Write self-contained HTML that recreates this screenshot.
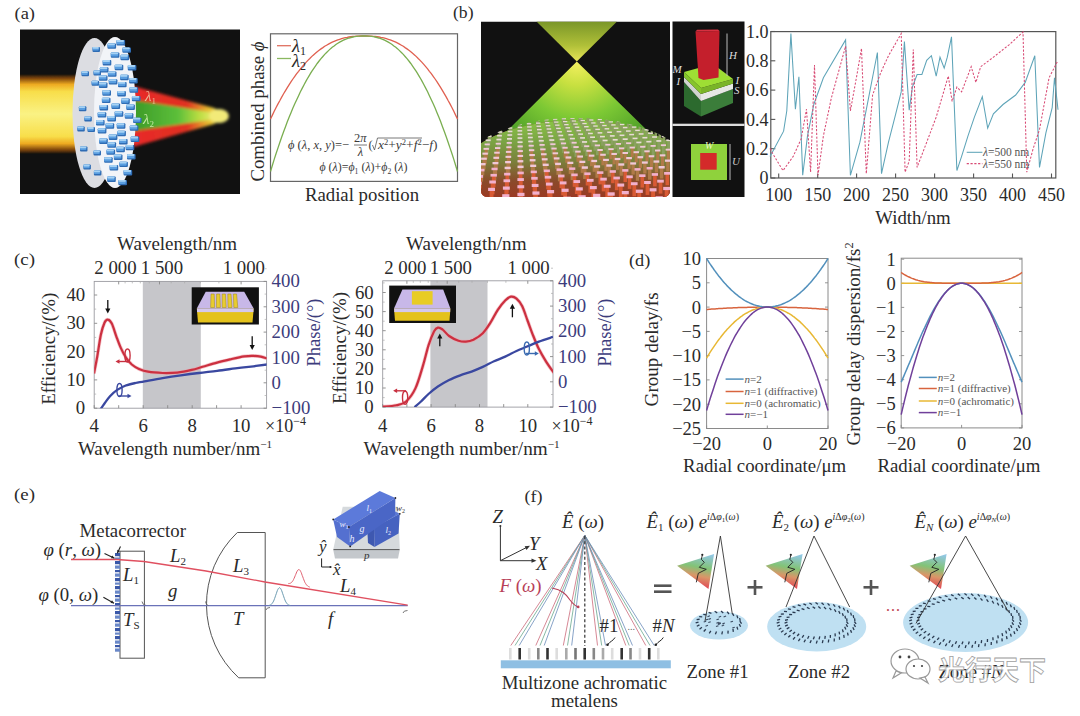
<!DOCTYPE html>
<html><head><meta charset="utf-8"><title>Figure</title>
<style>
html,body{margin:0;padding:0;background:#fff;}
svg{display:block;}
text{font-family:'Liberation Serif','Noto Serif CJK SC',serif;}
</style></head><body>
<svg width="1080" height="716" viewBox="0 0 1080 716">
<rect width="1080" height="716" fill="#fff"/>
<text x="14.5" y="18.6" text-anchor="start" style="font-size:17px;fill:#2a2a2a" textLength="20.5" lengthAdjust="spacingAndGlyphs">(a)</text>
<defs>
<linearGradient id="beamG" x1="0" y1="0" x2="0" y2="1">
<stop offset="0" stop-color="#111"/><stop offset="0.05" stop-color="#7a4208"/><stop offset="0.13" stop-color="#eeaa22"/>
<stop offset="0.22" stop-color="#f8de4a"/><stop offset="0.5" stop-color="#faf284"/><stop offset="0.78" stop-color="#f8de4a"/>
<stop offset="0.87" stop-color="#eeaa22"/><stop offset="0.95" stop-color="#7a4208"/><stop offset="1" stop-color="#111"/></linearGradient>
<linearGradient id="redG" x1="0" y1="0" x2="1" y2="0">
<stop offset="0" stop-color="#e82a2a"/><stop offset="0.6" stop-color="#e03020"/><stop offset="0.85" stop-color="#e8c030"/><stop offset="1" stop-color="#f0e060"/></linearGradient>
<linearGradient id="grnG" x1="0" y1="0" x2="1" y2="0">
<stop offset="0" stop-color="#3c9a28"/><stop offset="0.55" stop-color="#5cbf3a"/><stop offset="0.8" stop-color="#b8dc40"/><stop offset="1" stop-color="#f0ec70"/></linearGradient>
<filter id="blur1" x="-20%" y="-20%" width="140%" height="140%"><feGaussianBlur stdDeviation="1.6"/></filter>
<filter id="blur05" x="-20%" y="-20%" width="140%" height="140%"><feGaussianBlur stdDeviation="0.6"/></filter>
<linearGradient id="blk" x1="0" y1="0" x2="0" y2="1"><stop offset="0" stop-color="#9ad0f6"/><stop offset="1" stop-color="#4a92d8"/></linearGradient>
</defs>
<rect x="20" y="29.5" width="220" height="164.5" fill="#111"/>
<rect x="20" y="74" width="78" height="80" fill="url(#beamG)" filter="url(#blur05)"/>
<g filter="url(#blur1)">
<path d="M133,86 L214,108 Q231,116 214,124 L133,147 Z" fill="url(#redG)"/>
<path d="M133,100 L210,112 Q220,116 210,120 L133,131 Z" fill="url(#grnG)"/>
<ellipse cx="219" cy="116" rx="10" ry="7" fill="#f2ea78"/>
</g>
<ellipse cx="94.5" cy="113" rx="22" ry="75" fill="#dcdde2"/>
<ellipse cx="115" cy="112.5" rx="21" ry="75.5" fill="#f2f4f8"/>
<rect x="87.5" y="127.1" width="7.5" height="5" rx="1" fill="#2f6cb4"/>
<rect x="87.5" y="127.1" width="6.3" height="3.7" rx="1" fill="#5a9ee0"/>
<rect x="87.5" y="127.1" width="6.3" height="1.8" rx="0.8" fill="#a6d2f4"/>
<rect x="93.5" y="150.4" width="7.5" height="5" rx="1" fill="#2f6cb4"/>
<rect x="93.5" y="150.4" width="6.3" height="3.7" rx="1" fill="#5a9ee0"/>
<rect x="93.5" y="150.4" width="6.3" height="1.8" rx="0.8" fill="#a6d2f4"/>
<rect x="92.5" y="46.9" width="7.5" height="5" rx="1" fill="#2f6cb4"/>
<rect x="92.5" y="46.9" width="6.3" height="3.7" rx="1" fill="#5a9ee0"/>
<rect x="92.5" y="46.9" width="6.3" height="1.8" rx="0.8" fill="#a6d2f4"/>
<rect x="93.9" y="170.4" width="7.5" height="5" rx="1" fill="#2f6cb4"/>
<rect x="93.9" y="170.4" width="6.3" height="3.7" rx="1" fill="#5a9ee0"/>
<rect x="93.9" y="170.4" width="6.3" height="1.8" rx="0.8" fill="#a6d2f4"/>
<rect x="83.4" y="164.6" width="7.5" height="5" rx="1" fill="#2f6cb4"/>
<rect x="83.4" y="164.6" width="6.3" height="3.7" rx="1" fill="#5a9ee0"/>
<rect x="83.4" y="164.6" width="6.3" height="1.8" rx="0.8" fill="#a6d2f4"/>
<rect x="78.9" y="106.3" width="7.5" height="5" rx="1" fill="#2f6cb4"/>
<rect x="78.9" y="106.3" width="6.3" height="3.7" rx="1" fill="#5a9ee0"/>
<rect x="78.9" y="106.3" width="6.3" height="1.8" rx="0.8" fill="#a6d2f4"/>
<rect x="84.3" y="116.4" width="7.5" height="5" rx="1" fill="#2f6cb4"/>
<rect x="84.3" y="116.4" width="6.3" height="3.7" rx="1" fill="#5a9ee0"/>
<rect x="84.3" y="116.4" width="6.3" height="1.8" rx="0.8" fill="#a6d2f4"/>
<rect x="91.6" y="80.7" width="7.5" height="5" rx="1" fill="#2f6cb4"/>
<rect x="91.6" y="80.7" width="6.3" height="3.7" rx="1" fill="#5a9ee0"/>
<rect x="91.6" y="80.7" width="6.3" height="1.8" rx="0.8" fill="#a6d2f4"/>
<rect x="80" y="146.4" width="7.5" height="5" rx="1" fill="#2f6cb4"/>
<rect x="80" y="146.4" width="6.3" height="3.7" rx="1" fill="#5a9ee0"/>
<rect x="80" y="146.4" width="6.3" height="1.8" rx="0.8" fill="#a6d2f4"/>
<rect x="77.3" y="126.4" width="7.5" height="5" rx="1" fill="#2f6cb4"/>
<rect x="77.3" y="126.4" width="6.3" height="3.7" rx="1" fill="#5a9ee0"/>
<rect x="77.3" y="126.4" width="6.3" height="1.8" rx="0.8" fill="#a6d2f4"/>
<rect x="81.5" y="71.3" width="7.5" height="5" rx="1" fill="#2f6cb4"/>
<rect x="81.5" y="71.3" width="6.3" height="3.7" rx="1" fill="#5a9ee0"/>
<rect x="81.5" y="71.3" width="6.3" height="1.8" rx="0.8" fill="#a6d2f4"/>
<rect x="93.5" y="70.6" width="7.5" height="5" rx="1" fill="#2f6cb4"/>
<rect x="93.5" y="70.6" width="6.3" height="3.7" rx="1" fill="#5a9ee0"/>
<rect x="93.5" y="70.6" width="6.3" height="1.8" rx="0.8" fill="#a6d2f4"/>
<rect x="116.5" y="40.1" width="8.6" height="5.4" rx="1" fill="#2f6cb4"/>
<rect x="116.5" y="40.1" width="7.4" height="4.1" rx="1" fill="#5a9ee0"/>
<rect x="116.5" y="40.1" width="7.4" height="1.9" rx="0.8" fill="#a6d2f4"/>
<rect x="107.5" y="43.4" width="8.6" height="5.4" rx="1" fill="#2f6cb4"/>
<rect x="107.5" y="43.4" width="7.4" height="4.1" rx="1" fill="#5a9ee0"/>
<rect x="107.5" y="43.4" width="7.4" height="1.9" rx="0.8" fill="#a6d2f4"/>
<rect x="122.4" y="47.4" width="8.6" height="5.4" rx="1" fill="#2f6cb4"/>
<rect x="122.4" y="47.4" width="7.4" height="4.1" rx="1" fill="#5a9ee0"/>
<rect x="122.4" y="47.4" width="7.4" height="1.9" rx="0.8" fill="#a6d2f4"/>
<rect x="110.8" y="52.4" width="8.6" height="5.4" rx="1" fill="#2f6cb4"/>
<rect x="110.8" y="52.4" width="7.4" height="4.1" rx="1" fill="#5a9ee0"/>
<rect x="110.8" y="52.4" width="7.4" height="1.9" rx="0.8" fill="#a6d2f4"/>
<rect x="120.5" y="54.8" width="8.6" height="5.4" rx="1" fill="#2f6cb4"/>
<rect x="120.5" y="54.8" width="7.4" height="4.1" rx="1" fill="#5a9ee0"/>
<rect x="120.5" y="54.8" width="7.4" height="1.9" rx="0.8" fill="#a6d2f4"/>
<rect x="102.7" y="60" width="8.6" height="5.4" rx="1" fill="#2f6cb4"/>
<rect x="102.7" y="60" width="7.4" height="4.1" rx="1" fill="#5a9ee0"/>
<rect x="102.7" y="60" width="7.4" height="1.9" rx="0.8" fill="#a6d2f4"/>
<rect x="114.7" y="64.8" width="8.6" height="5.4" rx="1" fill="#2f6cb4"/>
<rect x="114.7" y="64.8" width="7.4" height="4.1" rx="1" fill="#5a9ee0"/>
<rect x="114.7" y="64.8" width="7.4" height="1.9" rx="0.8" fill="#a6d2f4"/>
<rect x="127.8" y="65" width="8.6" height="5.4" rx="1" fill="#2f6cb4"/>
<rect x="127.8" y="65" width="7.4" height="4.1" rx="1" fill="#5a9ee0"/>
<rect x="127.8" y="65" width="7.4" height="1.9" rx="0.8" fill="#a6d2f4"/>
<rect x="99.9" y="67.2" width="8.6" height="5.4" rx="1" fill="#2f6cb4"/>
<rect x="99.9" y="67.2" width="7.4" height="4.1" rx="1" fill="#5a9ee0"/>
<rect x="99.9" y="67.2" width="7.4" height="1.9" rx="0.8" fill="#a6d2f4"/>
<rect x="107.9" y="71.4" width="8.6" height="5.4" rx="1" fill="#2f6cb4"/>
<rect x="107.9" y="71.4" width="7.4" height="4.1" rx="1" fill="#5a9ee0"/>
<rect x="107.9" y="71.4" width="7.4" height="1.9" rx="0.8" fill="#a6d2f4"/>
<rect x="120.1" y="74.8" width="8.6" height="5.4" rx="1" fill="#2f6cb4"/>
<rect x="120.1" y="74.8" width="7.4" height="4.1" rx="1" fill="#5a9ee0"/>
<rect x="120.1" y="74.8" width="7.4" height="1.9" rx="0.8" fill="#a6d2f4"/>
<rect x="98.9" y="75.4" width="8.6" height="5.4" rx="1" fill="#2f6cb4"/>
<rect x="98.9" y="75.4" width="7.4" height="4.1" rx="1" fill="#5a9ee0"/>
<rect x="98.9" y="75.4" width="7.4" height="1.9" rx="0.8" fill="#a6d2f4"/>
<rect x="129.1" y="78" width="8.6" height="5.4" rx="1" fill="#2f6cb4"/>
<rect x="129.1" y="78" width="7.4" height="4.1" rx="1" fill="#5a9ee0"/>
<rect x="129.1" y="78" width="7.4" height="1.9" rx="0.8" fill="#a6d2f4"/>
<rect x="108.8" y="79.2" width="8.6" height="5.4" rx="1" fill="#2f6cb4"/>
<rect x="108.8" y="79.2" width="7.4" height="4.1" rx="1" fill="#5a9ee0"/>
<rect x="108.8" y="79.2" width="7.4" height="1.9" rx="0.8" fill="#a6d2f4"/>
<rect x="118" y="81.9" width="8.6" height="5.4" rx="1" fill="#2f6cb4"/>
<rect x="118" y="81.9" width="7.4" height="4.1" rx="1" fill="#5a9ee0"/>
<rect x="118" y="81.9" width="7.4" height="1.9" rx="0.8" fill="#a6d2f4"/>
<rect x="98.9" y="82.5" width="8.6" height="5.4" rx="1" fill="#2f6cb4"/>
<rect x="98.9" y="82.5" width="7.4" height="4.1" rx="1" fill="#5a9ee0"/>
<rect x="98.9" y="82.5" width="7.4" height="1.9" rx="0.8" fill="#a6d2f4"/>
<rect x="129.5" y="87.3" width="8.6" height="5.4" rx="1" fill="#2f6cb4"/>
<rect x="129.5" y="87.3" width="7.4" height="4.1" rx="1" fill="#5a9ee0"/>
<rect x="129.5" y="87.3" width="7.4" height="1.9" rx="0.8" fill="#a6d2f4"/>
<rect x="102.4" y="90.3" width="8.6" height="5.4" rx="1" fill="#2f6cb4"/>
<rect x="102.4" y="90.3" width="7.4" height="4.1" rx="1" fill="#5a9ee0"/>
<rect x="102.4" y="90.3" width="7.4" height="1.9" rx="0.8" fill="#a6d2f4"/>
<rect x="117.3" y="91" width="8.6" height="5.4" rx="1" fill="#2f6cb4"/>
<rect x="117.3" y="91" width="7.4" height="4.1" rx="1" fill="#5a9ee0"/>
<rect x="117.3" y="91" width="7.4" height="1.9" rx="0.8" fill="#a6d2f4"/>
<rect x="131.9" y="95.9" width="8.6" height="5.4" rx="1" fill="#2f6cb4"/>
<rect x="131.9" y="95.9" width="7.4" height="4.1" rx="1" fill="#5a9ee0"/>
<rect x="131.9" y="95.9" width="7.4" height="1.9" rx="0.8" fill="#a6d2f4"/>
<rect x="101.9" y="97.7" width="8.6" height="5.4" rx="1" fill="#2f6cb4"/>
<rect x="101.9" y="97.7" width="7.4" height="4.1" rx="1" fill="#5a9ee0"/>
<rect x="101.9" y="97.7" width="7.4" height="1.9" rx="0.8" fill="#a6d2f4"/>
<rect x="121.2" y="98.6" width="8.6" height="5.4" rx="1" fill="#2f6cb4"/>
<rect x="121.2" y="98.6" width="7.4" height="4.1" rx="1" fill="#5a9ee0"/>
<rect x="121.2" y="98.6" width="7.4" height="1.9" rx="0.8" fill="#a6d2f4"/>
<rect x="111.5" y="103.6" width="8.6" height="5.4" rx="1" fill="#2f6cb4"/>
<rect x="111.5" y="103.6" width="7.4" height="4.1" rx="1" fill="#5a9ee0"/>
<rect x="111.5" y="103.6" width="7.4" height="1.9" rx="0.8" fill="#a6d2f4"/>
<rect x="126.3" y="104.6" width="8.6" height="5.4" rx="1" fill="#2f6cb4"/>
<rect x="126.3" y="104.6" width="7.4" height="4.1" rx="1" fill="#5a9ee0"/>
<rect x="126.3" y="104.6" width="7.4" height="1.9" rx="0.8" fill="#a6d2f4"/>
<rect x="99.5" y="105" width="8.6" height="5.4" rx="1" fill="#2f6cb4"/>
<rect x="99.5" y="105" width="7.4" height="4.1" rx="1" fill="#5a9ee0"/>
<rect x="99.5" y="105" width="7.4" height="1.9" rx="0.8" fill="#a6d2f4"/>
<rect x="114.7" y="111.3" width="8.6" height="5.4" rx="1" fill="#2f6cb4"/>
<rect x="114.7" y="111.3" width="7.4" height="4.1" rx="1" fill="#5a9ee0"/>
<rect x="114.7" y="111.3" width="7.4" height="1.9" rx="0.8" fill="#a6d2f4"/>
<rect x="97.7" y="112.2" width="8.6" height="5.4" rx="1" fill="#2f6cb4"/>
<rect x="97.7" y="112.2" width="7.4" height="4.1" rx="1" fill="#5a9ee0"/>
<rect x="97.7" y="112.2" width="7.4" height="1.9" rx="0.8" fill="#a6d2f4"/>
<rect x="124.8" y="113.3" width="8.6" height="5.4" rx="1" fill="#2f6cb4"/>
<rect x="124.8" y="113.3" width="7.4" height="4.1" rx="1" fill="#5a9ee0"/>
<rect x="124.8" y="113.3" width="7.4" height="1.9" rx="0.8" fill="#a6d2f4"/>
<rect x="107.4" y="116.1" width="8.6" height="5.4" rx="1" fill="#2f6cb4"/>
<rect x="107.4" y="116.1" width="7.4" height="4.1" rx="1" fill="#5a9ee0"/>
<rect x="107.4" y="116.1" width="7.4" height="1.9" rx="0.8" fill="#a6d2f4"/>
<rect x="133" y="117.7" width="8.6" height="5.4" rx="1" fill="#2f6cb4"/>
<rect x="133" y="117.7" width="7.4" height="4.1" rx="1" fill="#5a9ee0"/>
<rect x="133" y="117.7" width="7.4" height="1.9" rx="0.8" fill="#a6d2f4"/>
<rect x="96" y="120.1" width="8.6" height="5.4" rx="1" fill="#2f6cb4"/>
<rect x="96" y="120.1" width="7.4" height="4.1" rx="1" fill="#5a9ee0"/>
<rect x="96" y="120.1" width="7.4" height="1.9" rx="0.8" fill="#a6d2f4"/>
<rect x="105.6" y="123.3" width="8.6" height="5.4" rx="1" fill="#2f6cb4"/>
<rect x="105.6" y="123.3" width="7.4" height="4.1" rx="1" fill="#5a9ee0"/>
<rect x="105.6" y="123.3" width="7.4" height="1.9" rx="0.8" fill="#a6d2f4"/>
<rect x="116.8" y="123.3" width="8.6" height="5.4" rx="1" fill="#2f6cb4"/>
<rect x="116.8" y="123.3" width="7.4" height="4.1" rx="1" fill="#5a9ee0"/>
<rect x="116.8" y="123.3" width="7.4" height="1.9" rx="0.8" fill="#a6d2f4"/>
<rect x="129.8" y="125.4" width="8.6" height="5.4" rx="1" fill="#2f6cb4"/>
<rect x="129.8" y="125.4" width="7.4" height="4.1" rx="1" fill="#5a9ee0"/>
<rect x="129.8" y="125.4" width="7.4" height="1.9" rx="0.8" fill="#a6d2f4"/>
<rect x="97.8" y="128.2" width="8.6" height="5.4" rx="1" fill="#2f6cb4"/>
<rect x="97.8" y="128.2" width="7.4" height="4.1" rx="1" fill="#5a9ee0"/>
<rect x="97.8" y="128.2" width="7.4" height="1.9" rx="0.8" fill="#a6d2f4"/>
<rect x="117.3" y="130.8" width="8.6" height="5.4" rx="1" fill="#2f6cb4"/>
<rect x="117.3" y="130.8" width="7.4" height="4.1" rx="1" fill="#5a9ee0"/>
<rect x="117.3" y="130.8" width="7.4" height="1.9" rx="0.8" fill="#a6d2f4"/>
<rect x="108.8" y="134.5" width="8.6" height="5.4" rx="1" fill="#2f6cb4"/>
<rect x="108.8" y="134.5" width="7.4" height="4.1" rx="1" fill="#5a9ee0"/>
<rect x="108.8" y="134.5" width="7.4" height="1.9" rx="0.8" fill="#a6d2f4"/>
<rect x="130.7" y="136.6" width="8.6" height="5.4" rx="1" fill="#2f6cb4"/>
<rect x="130.7" y="136.6" width="7.4" height="4.1" rx="1" fill="#5a9ee0"/>
<rect x="130.7" y="136.6" width="7.4" height="1.9" rx="0.8" fill="#a6d2f4"/>
<rect x="99.2" y="138.5" width="8.6" height="5.4" rx="1" fill="#2f6cb4"/>
<rect x="99.2" y="138.5" width="7.4" height="4.1" rx="1" fill="#5a9ee0"/>
<rect x="99.2" y="138.5" width="7.4" height="1.9" rx="0.8" fill="#a6d2f4"/>
<rect x="119" y="139" width="8.6" height="5.4" rx="1" fill="#2f6cb4"/>
<rect x="119" y="139" width="7.4" height="4.1" rx="1" fill="#5a9ee0"/>
<rect x="119" y="139" width="7.4" height="1.9" rx="0.8" fill="#a6d2f4"/>
<rect x="107.5" y="142.3" width="8.6" height="5.4" rx="1" fill="#2f6cb4"/>
<rect x="107.5" y="142.3" width="7.4" height="4.1" rx="1" fill="#5a9ee0"/>
<rect x="107.5" y="142.3" width="7.4" height="1.9" rx="0.8" fill="#a6d2f4"/>
<rect x="125.7" y="144.9" width="8.6" height="5.4" rx="1" fill="#2f6cb4"/>
<rect x="125.7" y="144.9" width="7.4" height="4.1" rx="1" fill="#5a9ee0"/>
<rect x="125.7" y="144.9" width="7.4" height="1.9" rx="0.8" fill="#a6d2f4"/>
<rect x="116.3" y="146.8" width="8.6" height="5.4" rx="1" fill="#2f6cb4"/>
<rect x="116.3" y="146.8" width="7.4" height="4.1" rx="1" fill="#5a9ee0"/>
<rect x="116.3" y="146.8" width="7.4" height="1.9" rx="0.8" fill="#a6d2f4"/>
<rect x="106.5" y="149.4" width="8.6" height="5.4" rx="1" fill="#2f6cb4"/>
<rect x="106.5" y="149.4" width="7.4" height="4.1" rx="1" fill="#5a9ee0"/>
<rect x="106.5" y="149.4" width="7.4" height="1.9" rx="0.8" fill="#a6d2f4"/>
<rect x="127" y="154.1" width="8.6" height="5.4" rx="1" fill="#2f6cb4"/>
<rect x="127" y="154.1" width="7.4" height="4.1" rx="1" fill="#5a9ee0"/>
<rect x="127" y="154.1" width="7.4" height="1.9" rx="0.8" fill="#a6d2f4"/>
<rect x="113.9" y="154.5" width="8.6" height="5.4" rx="1" fill="#2f6cb4"/>
<rect x="113.9" y="154.5" width="7.4" height="4.1" rx="1" fill="#5a9ee0"/>
<rect x="113.9" y="154.5" width="7.4" height="1.9" rx="0.8" fill="#a6d2f4"/>
<rect x="104.1" y="157.3" width="8.6" height="5.4" rx="1" fill="#2f6cb4"/>
<rect x="104.1" y="157.3" width="7.4" height="4.1" rx="1" fill="#5a9ee0"/>
<rect x="104.1" y="157.3" width="7.4" height="1.9" rx="0.8" fill="#a6d2f4"/>
<rect x="119.3" y="161.7" width="8.6" height="5.4" rx="1" fill="#2f6cb4"/>
<rect x="119.3" y="161.7" width="7.4" height="4.1" rx="1" fill="#5a9ee0"/>
<rect x="119.3" y="161.7" width="7.4" height="1.9" rx="0.8" fill="#a6d2f4"/>
<rect x="109.6" y="165.1" width="8.6" height="5.4" rx="1" fill="#2f6cb4"/>
<rect x="109.6" y="165.1" width="7.4" height="4.1" rx="1" fill="#5a9ee0"/>
<rect x="109.6" y="165.1" width="7.4" height="1.9" rx="0.8" fill="#a6d2f4"/>
<rect x="123.6" y="170.1" width="8.6" height="5.4" rx="1" fill="#2f6cb4"/>
<rect x="123.6" y="170.1" width="7.4" height="4.1" rx="1" fill="#5a9ee0"/>
<rect x="123.6" y="170.1" width="7.4" height="1.9" rx="0.8" fill="#a6d2f4"/>
<rect x="107.2" y="176.5" width="8.6" height="5.4" rx="1" fill="#2f6cb4"/>
<rect x="107.2" y="176.5" width="7.4" height="4.1" rx="1" fill="#5a9ee0"/>
<rect x="107.2" y="176.5" width="7.4" height="1.9" rx="0.8" fill="#a6d2f4"/>
<rect x="118.4" y="179.9" width="8.6" height="5.4" rx="1" fill="#2f6cb4"/>
<rect x="118.4" y="179.9" width="7.4" height="4.1" rx="1" fill="#5a9ee0"/>
<rect x="118.4" y="179.9" width="7.4" height="1.9" rx="0.8" fill="#a6d2f4"/>
<text x="145" y="101" text-anchor="start" style="font-size:15px;fill:#f0c8a0" opacity="0.9"><tspan style="font-style:italic">λ</tspan><tspan dy="3" style="font-size:9px">1</tspan></text>
<text x="143" y="124" text-anchor="start" style="font-size:15px;fill:#d0f0b0" opacity="0.9"><tspan style="font-style:italic">λ</tspan><tspan dy="3" style="font-size:9px">2</tspan></text>
<rect x="270.5" y="33.8" width="187.0" height="147.60000000000002" fill="none" stroke="#666" stroke-width="1.2"/>
<path d="M270.5,119 L272.4,115.1 L274.2,111.3 L276.1,107.5 L278,103.9 L279.9,100.5 L281.7,97.1 L283.6,93.8 L285.5,90.6 L287.3,87.6 L289.2,84.6 L291.1,81.7 L292.9,79 L294.8,76.3 L296.7,73.7 L298.6,71.3 L300.4,68.9 L302.3,66.6 L304.2,64.4 L306,62.4 L307.9,60.4 L309.8,58.5 L311.6,56.6 L313.5,54.9 L315.4,53.3 L317.2,51.7 L319.1,50.3 L321,48.9 L322.9,47.6 L324.7,46.3 L326.6,45.2 L328.5,44.1 L330.3,43.1 L332.2,42.2 L334.1,41.4 L335.9,40.6 L337.8,39.9 L339.7,39.3 L341.6,38.7 L343.4,38.2 L345.3,37.7 L347.2,37.4 L349,37 L350.9,36.7 L352.8,36.5 L354.6,36.3 L356.5,36.2 L358.4,36.1 L360.3,36 L362.1,36 L364,36 L365.9,36 L367.7,36 L369.6,36.1 L371.5,36.2 L373.4,36.3 L375.2,36.5 L377.1,36.7 L379,37 L380.8,37.4 L382.7,37.7 L384.6,38.2 L386.4,38.7 L388.3,39.3 L390.2,39.9 L392.1,40.6 L393.9,41.4 L395.8,42.2 L397.7,43.1 L399.5,44.1 L401.4,45.2 L403.3,46.3 L405.1,47.6 L407,48.9 L408.9,50.3 L410.8,51.7 L412.6,53.3 L414.5,54.9 L416.4,56.6 L418.2,58.5 L420.1,60.4 L422,62.4 L423.8,64.4 L425.7,66.6 L427.6,68.9 L429.4,71.3 L431.3,73.7 L433.2,76.3 L435.1,79 L436.9,81.7 L438.8,84.6 L440.7,87.6 L442.5,90.6 L444.4,93.8 L446.3,97.1 L448.1,100.5 L450,103.9 L451.9,107.5 L453.8,111.3 L455.6,115.1 L457.5,119" fill="none" stroke="#e06050" stroke-width="1.3"/>
<path d="M270.5,171.5 L272.4,165.3 L274.2,159.4 L276.1,153.5 L278,147.9 L279.9,142.3 L281.7,137 L283.6,131.8 L285.5,126.7 L287.3,121.8 L289.2,117.1 L291.1,112.5 L292.9,108.1 L294.8,103.8 L296.7,99.7 L298.6,95.7 L300.4,91.8 L302.3,88.1 L304.2,84.5 L306,81.1 L307.9,77.8 L309.8,74.7 L311.6,71.7 L313.5,68.8 L315.4,66.1 L317.2,63.5 L319.1,61 L321,58.7 L322.9,56.5 L324.7,54.4 L326.6,52.5 L328.5,50.6 L330.3,48.9 L332.2,47.3 L334.1,45.9 L335.9,44.5 L337.8,43.3 L339.7,42.1 L341.6,41.1 L343.4,40.2 L345.3,39.3 L347.2,38.6 L349,38 L350.9,37.5 L352.8,37 L354.6,36.7 L356.5,36.4 L358.4,36.2 L360.3,36.1 L362.1,36 L364,36 L365.9,36 L367.7,36.1 L369.6,36.2 L371.5,36.4 L373.4,36.7 L375.2,37 L377.1,37.5 L379,38 L380.8,38.6 L382.7,39.3 L384.6,40.2 L386.4,41.1 L388.3,42.1 L390.2,43.3 L392.1,44.5 L393.9,45.9 L395.8,47.3 L397.7,48.9 L399.5,50.6 L401.4,52.5 L403.3,54.4 L405.1,56.5 L407,58.7 L408.9,61 L410.8,63.5 L412.6,66.1 L414.5,68.8 L416.4,71.7 L418.2,74.7 L420.1,77.8 L422,81.1 L423.8,84.5 L425.7,88.1 L427.6,91.8 L429.4,95.7 L431.3,99.7 L433.2,103.8 L435.1,108.1 L436.9,112.5 L438.8,117.1 L440.7,121.8 L442.5,126.7 L444.4,131.8 L446.3,137 L448.1,142.3 L450,147.9 L451.9,153.5 L453.8,159.4 L455.6,165.3 L457.5,171.5" fill="none" stroke="#7aae50" stroke-width="1.3"/>
<line x1="277" y1="45.7" x2="291" y2="45.7" stroke="#e07060" stroke-width="1.3"/>
<line x1="277" y1="58.5" x2="291" y2="58.5" stroke="#8ab860" stroke-width="1.3"/>
<text x="292" y="52" text-anchor="start" style="font-size:18.5px;fill:#2a2a2a" ><tspan style="font-style:italic">λ</tspan><tspan dy="3" style="font-size:12px">1</tspan></text>
<text x="292" y="67" text-anchor="start" style="font-size:18.5px;fill:#2a2a2a" ><tspan style="font-style:italic">λ</tspan><tspan dy="3" style="font-size:12px">2</tspan></text>
<text x="263.5" y="111.5" text-anchor="middle" style="font-size:18.8px;fill:#2a2a2a" transform="rotate(-90 263.5 111.5)">Combined phase <tspan style="font-style:italic">ϕ</tspan></text>
<text x="362" y="200.5" text-anchor="middle" style="font-size:18.8px;fill:#2a2a2a" >Radial position</text>
<text x="288" y="149" text-anchor="start" style="font-size:12.5px;fill:#3a3a3a" textLength="61" lengthAdjust="spacingAndGlyphs"><tspan style="font-style:italic">ϕ</tspan> (<tspan style="font-style:italic">λ</tspan>, <tspan style="font-style:italic">x</tspan>, <tspan style="font-style:italic">y</tspan>)=−</text>
<text x="360.3" y="142" text-anchor="middle" style="font-size:12.5px;fill:#3a3a3a" >2<tspan style="font-style:italic">π</tspan></text>
<line x1="354" y1="145" x2="367" y2="145" stroke="#555" stroke-width="0.8"/>
<text x="360.5" y="155.5" text-anchor="middle" style="font-size:12.5px;fill:#3a3a3a" ><tspan style="font-style:italic">λ</tspan></text>
<text x="368.5" y="149" text-anchor="start" style="font-size:12.5px;fill:#3a3a3a" >(</text>
<path d="M372.5,145 L374.5,150 L377.5,138 L422,138" fill="none" stroke="#555" stroke-width="0.8"/>
<text x="378" y="149" text-anchor="start" style="font-size:12.5px;fill:#3a3a3a" textLength="59.5" lengthAdjust="spacingAndGlyphs"><tspan style="font-style:italic">x</tspan><tspan dy="-4" style="font-size:8px">2</tspan><tspan dy="4">+</tspan><tspan style="font-style:italic">y</tspan><tspan dy="-4" style="font-size:8px">2</tspan><tspan dy="4">+</tspan><tspan style="font-style:italic">f</tspan><tspan dy="-4" style="font-size:8px">2</tspan><tspan dy="4">−</tspan><tspan style="font-style:italic">f</tspan>)</text>
<text x="319.4" y="171" text-anchor="start" style="font-size:12.5px;fill:#3a3a3a" textLength="88" lengthAdjust="spacingAndGlyphs"><tspan style="font-style:italic">ϕ</tspan> (<tspan style="font-style:italic">λ</tspan>)=<tspan style="font-style:italic">ϕ</tspan><tspan dy="2.5" style="font-size:8px">1</tspan><tspan dy="-2.5"> (</tspan><tspan style="font-style:italic">λ</tspan>)+<tspan style="font-style:italic">ϕ</tspan><tspan dy="2.5" style="font-size:8px">2</tspan><tspan dy="-2.5"> (</tspan><tspan style="font-style:italic">λ</tspan>)</text>
<text x="453" y="17.6" text-anchor="start" style="font-size:17px;fill:#2a2a2a" textLength="20.5" lengthAdjust="spacingAndGlyphs">(b)</text>
<defs>
<linearGradient id="upCone" x1="0" y1="0" x2="0" y2="1">
<stop offset="0" stop-color="#7a9628"/><stop offset="0.6" stop-color="#b0c038"/><stop offset="1" stop-color="#e8e458"/></linearGradient>
<radialGradient id="loCone" cx="576.8" cy="61.5" r="95" gradientUnits="userSpaceOnUse">
<stop offset="0" stop-color="#f4f060"/><stop offset="0.25" stop-color="#c8e040"/><stop offset="0.6" stop-color="#7cc834"/><stop offset="1" stop-color="#4e9e28"/></radialGradient>
<linearGradient id="sideG" x1="0" y1="0" x2="0" y2="1">
<stop offset="0" stop-color="#7a5a30"/><stop offset="0.4" stop-color="#b84828"/><stop offset="1" stop-color="#d84a2a"/></linearGradient>
<linearGradient id="topG" x1="0" y1="118" x2="0" y2="197" gradientUnits="userSpaceOnUse">
<stop offset="0" stop-color="#8cc844"/><stop offset="0.3" stop-color="#7aa444"/><stop offset="0.55" stop-color="#7a803c"/><stop offset="0.8" stop-color="#8a4a2a"/><stop offset="1" stop-color="#9a3a24"/></linearGradient>
<clipPath id="bclip"><path d="M481,21.5 H670 V190 Q670,197 663,197 H488 Q481,197 481,190 Z"/></clipPath>
<filter id="blur2" x="-20%" y="-20%" width="140%" height="140%"><feGaussianBlur stdDeviation="2.5"/></filter>
</defs>
<g clip-path="url(#bclip)">
<rect x="481" y="21.5" width="189" height="175.5" fill="#111"/>
<path d="M536.5,21.5 L617,21.5 L576.8,61.5 Z" fill="url(#upCone)"/>
<path d="M576.8,61.5 L500,138 Q576,118 656,139 Z" fill="url(#loCone)"/>
<path d="M466,156.9 L686,156.9 L684,154.4 L681.7,152 L679.3,149.7 L676.6,147.4 L673.8,145.3 L670.8,143.3 L667.7,141.3 L664.5,139.5 L661.1,137.7 L657.7,136 L654.1,134.5 L650.4,133 L646.7,131.6 L642.8,130.3 L638.9,129.1 L635,127.9 L631,126.9 L626.9,125.9 L622.8,125 L618.7,124.2 L614.5,123.5 L610.3,122.8 L606.1,122.2 L601.8,121.8 L597.5,121.3 L593.2,121 L588.9,120.7 L584.6,120.6 L580.3,120.4 L576,120.4 L571.7,120.4 L567.4,120.6 L563.1,120.7 L558.8,121 L554.5,121.3 L550.2,121.8 L545.9,122.2 L541.7,122.8 L537.5,123.5 L533.3,124.2 L529.2,125 L525.1,125.9 L521,126.9 L517,127.9 L513.1,129.1 L509.2,130.3 L505.3,131.6 L501.6,133 L497.9,134.5 L494.3,136 L490.9,137.7 L487.5,139.5 L484.3,141.3 L481.2,143.3 L478.2,145.3 L475.4,147.4 L472.7,149.7 L470.3,152 L468,154.4 L466,156.9 L464.2,159.5 L462.7,162.2 L461.4,164.9 L460.4,167.8 L459.7,170.7 L459.4,173.7 L459.4,176.7 L459.7,179.8 L460.5,182.9 L461.7,186.1 L463.3,189.3 L465.3,192.5 L467.8,195.7 L470.8,198.8 L474.2,201.9 L478.2,205 L482.6,207.9 L487.5,210.8 L492.8,213.6 L498.7,216.2 L505,218.6 L511.7,220.8 L518.8,222.9 L526.2,224.7 L534,226.2 L542.1,227.5 L550.3,228.6 L558.8,229.3 L567.4,229.8 L576,229.9 L584.6,229.8 L593.2,229.3 L601.7,228.6 L609.9,227.5 L618,226.2 L625.8,224.7 L633.2,222.9 L640.3,220.8 L647,218.6 L653.3,216.2 L659.2,213.6 L664.5,210.8 L669.4,207.9 L673.8,205 L677.8,201.9 L681.2,198.8 L684.2,195.7 L686.7,192.5 L688.7,189.3 L690.3,186.1 L691.5,182.9 L692.3,179.8 L692.6,176.7 L692.6,173.7 L692.3,170.7 L691.6,167.8 L690.6,164.9 L689.3,162.2 L687.8,159.5 L686,156.9 Z" fill="url(#sideG)"/>
<rect x="481" y="150" width="189" height="50" fill="url(#sideG)"/>
<path d="M686,156.9 L684,154.4 L681.7,152 L679.3,149.7 L676.6,147.4 L673.8,145.3 L670.8,143.3 L667.7,141.3 L664.5,139.5 L661.1,137.7 L657.7,136 L654.1,134.5 L650.4,133 L646.7,131.6 L642.8,130.3 L638.9,129.1 L635,127.9 L631,126.9 L626.9,125.9 L622.8,125 L618.7,124.2 L614.5,123.5 L610.3,122.8 L606.1,122.2 L601.8,121.8 L597.5,121.3 L593.2,121 L588.9,120.7 L584.6,120.6 L580.3,120.4 L576,120.4 L571.7,120.4 L567.4,120.6 L563.1,120.7 L558.8,121 L554.5,121.3 L550.2,121.8 L545.9,122.2 L541.7,122.8 L537.5,123.5 L533.3,124.2 L529.2,125 L525.1,125.9 L521,126.9 L517,127.9 L513.1,129.1 L509.2,130.3 L505.3,131.6 L501.6,133 L497.9,134.5 L494.3,136 L490.9,137.7 L487.5,139.5 L484.3,141.3 L481.2,143.3 L478.2,145.3 L475.4,147.4 L472.7,149.7 L470.3,152 L468,154.4 L466,156.9 L464.2,159.5 L462.7,162.2 L461.4,164.9 L460.4,167.8 L459.7,170.7 L459.4,173.7 L459.4,176.7 L459.7,179.8 L460.5,182.9 L461.7,186.1 L463.3,189.3 L465.3,192.5 L467.8,195.7 L470.8,198.8 L474.2,201.9 L478.2,205 L482.6,207.9 L487.5,210.8 L492.8,213.6 L498.7,216.2 L505,218.6 L511.7,220.8 L518.8,222.9 L526.2,224.7 L534,226.2 L542.1,227.5 L550.3,228.6 L558.8,229.3 L567.4,229.8 L576,229.9 L584.6,229.8 L593.2,229.3 L601.7,228.6 L609.9,227.5 L618,226.2 L625.8,224.7 L633.2,222.9 L640.3,220.8 L647,218.6 L653.3,216.2 L659.2,213.6 L664.5,210.8 L669.4,207.9 L673.8,205 L677.8,201.9 L681.2,198.8 L684.2,195.7 L686.7,192.5 L688.7,189.3 L690.3,186.1 L691.5,182.9 L692.3,179.8 L692.6,176.7 L692.6,173.7 L692.3,170.7 L691.6,167.8 L690.6,164.9 L689.3,162.2 L687.8,159.5 L686,156.9 Z" fill="url(#topG)"/>
<clipPath id="pilclip"><path d="M686,154.4 L684,151.9 L681.7,149.5 L679.3,147.2 L676.6,144.9 L673.8,142.8 L670.8,140.8 L667.7,138.8 L664.5,137 L661.1,135.2 L657.7,133.5 L654.1,132 L650.4,130.5 L646.7,129.1 L642.8,127.8 L638.9,126.6 L635,125.4 L631,124.4 L626.9,123.4 L622.8,122.5 L618.7,121.7 L614.5,121 L610.3,120.3 L606.1,119.7 L601.8,119.3 L597.5,118.8 L593.2,118.5 L588.9,118.2 L584.6,118.1 L580.3,117.9 L576,117.9 L571.7,117.9 L567.4,118.1 L563.1,118.2 L558.8,118.5 L554.5,118.8 L550.2,119.3 L545.9,119.7 L541.7,120.3 L537.5,121 L533.3,121.7 L529.2,122.5 L525.1,123.4 L521,124.4 L517,125.4 L513.1,126.6 L509.2,127.8 L505.3,129.1 L501.6,130.5 L497.9,132 L494.3,133.5 L490.9,135.2 L487.5,137 L484.3,138.8 L481.2,140.8 L478.2,142.8 L475.4,144.9 L472.7,147.2 L470.3,149.5 L468,151.9 L466,154.4 L464.2,157 L462.7,159.7 L461.4,162.4 L460.4,165.3 L459.7,168.2 L459.4,171.2 L459.4,174.2 L459.7,177.3 L460.5,180.4 L461.7,183.6 L463.3,186.8 L465.3,190 L467.8,193.2 L470.8,196.3 L474.2,199.4 L478.2,202.5 L482.6,205.4 L487.5,208.3 L492.8,211.1 L498.7,213.7 L505,216.1 L511.7,218.3 L518.8,220.4 L526.2,222.2 L534,223.7 L542.1,225 L550.3,226.1 L558.8,226.8 L567.4,227.3 L576,227.4 L584.6,227.3 L593.2,226.8 L601.7,226.1 L609.9,225 L618,223.7 L625.8,222.2 L633.2,220.4 L640.3,218.3 L647,216.1 L653.3,213.7 L659.2,211.1 L664.5,208.3 L669.4,205.4 L673.8,202.5 L677.8,199.4 L681.2,196.3 L684.2,193.2 L686.7,190 L688.7,186.8 L690.3,183.6 L691.5,180.4 L692.3,177.3 L692.6,174.2 L692.6,171.2 L692.3,168.2 L691.6,165.3 L690.6,162.4 L689.3,159.7 L687.8,157 L686,154.4 Z"/></clipPath>
<g clip-path="url(#pilclip)">
<rect x="586.5" y="114.6" width="2.3" height="7.5" fill="#8aa060"/>
<rect x="585.6" y="114" width="4" height="1.1" fill="#e8dcd4"/>
<rect x="578.3" y="115" width="2.3" height="7.6" fill="#8aa060"/>
<rect x="577.4" y="114.5" width="4" height="1.1" fill="#e8dcd4"/>
<rect x="570" y="115.5" width="2.3" height="7.6" fill="#8aa060"/>
<rect x="569.1" y="114.9" width="4.1" height="1.1" fill="#e8dcd4"/>
<rect x="561.6" y="116" width="2.3" height="7.6" fill="#8aa060"/>
<rect x="560.7" y="115.4" width="4.1" height="1.1" fill="#e8dcd4"/>
<rect x="605" y="116.3" width="2.3" height="7.7" fill="#8aa060"/>
<rect x="604.1" y="115.7" width="4.1" height="1.1" fill="#e8dcd4"/>
<rect x="553.1" y="116.4" width="2.3" height="7.7" fill="#8aa060"/>
<rect x="552.2" y="115.9" width="4.1" height="1.1" fill="#e8dcd4"/>
<rect x="596.7" y="116.8" width="2.3" height="7.7" fill="#8aa060"/>
<rect x="595.8" y="116.2" width="4.1" height="1.1" fill="#e8dcd4"/>
<rect x="544.6" y="116.9" width="2.3" height="7.7" fill="#8aa060"/>
<rect x="543.7" y="116.3" width="4.1" height="1.1" fill="#e8dcd4"/>
<rect x="588.3" y="117.2" width="2.3" height="7.7" fill="#8aa060"/>
<rect x="587.4" y="116.7" width="4.1" height="1.1" fill="#e8dcd4"/>
<rect x="536" y="117.4" width="2.3" height="7.7" fill="#8aa060"/>
<rect x="535.1" y="116.8" width="4.1" height="1.1" fill="#e8dcd4"/>
<rect x="579.9" y="117.7" width="2.3" height="7.8" fill="#8aa060"/>
<rect x="578.9" y="117.1" width="4.1" height="1.2" fill="#e8dcd4"/>
<rect x="527.3" y="117.9" width="2.3" height="7.8" fill="#8aa060"/>
<rect x="526.4" y="117.3" width="4.1" height="1.2" fill="#e8dcd4"/>
<rect x="571.3" y="118.2" width="2.3" height="7.8" fill="#8aa060"/>
<rect x="570.4" y="117.6" width="4.2" height="1.2" fill="#e8dcd4"/>
<rect x="615.7" y="118.5" width="2.3" height="7.8" fill="#8aa060"/>
<rect x="614.7" y="117.9" width="4.2" height="1.2" fill="#e8dcd4"/>
<rect x="562.7" y="118.7" width="2.3" height="7.8" fill="#8aa060"/>
<rect x="561.8" y="118.1" width="4.2" height="1.2" fill="#e8dcd4"/>
<rect x="607.2" y="119" width="2.3" height="7.9" fill="#8aa060"/>
<rect x="606.3" y="118.4" width="4.2" height="1.2" fill="#e8dcd4"/>
<rect x="554" y="119.2" width="2.4" height="7.9" fill="#8aa060"/>
<rect x="553.1" y="118.6" width="4.2" height="1.2" fill="#e8dcd4"/>
<rect x="598.7" y="119.5" width="2.4" height="7.9" fill="#8aa060"/>
<rect x="597.8" y="118.9" width="4.2" height="1.2" fill="#e8dcd4"/>
<rect x="545.3" y="119.7" width="2.4" height="7.9" fill="#8aa060"/>
<rect x="544.4" y="119.1" width="4.2" height="1.2" fill="#e8dcd4"/>
<rect x="590.2" y="120" width="2.4" height="7.9" fill="#8aa060"/>
<rect x="589.2" y="119.4" width="4.2" height="1.2" fill="#e8dcd4"/>
<rect x="536.4" y="120.2" width="2.4" height="8" fill="#8aa060"/>
<rect x="535.5" y="119.6" width="4.2" height="1.2" fill="#e8dcd4"/>
<rect x="581.5" y="120.5" width="2.4" height="8" fill="#8aa060"/>
<rect x="580.6" y="119.9" width="4.3" height="1.2" fill="#e8dcd4"/>
<rect x="527.5" y="120.7" width="2.4" height="8" fill="#8aa060"/>
<rect x="526.6" y="120.1" width="4.3" height="1.2" fill="#e8dcd4"/>
<rect x="626.8" y="120.9" width="2.4" height="8" fill="#8aa060"/>
<rect x="625.9" y="120.3" width="4.3" height="1.2" fill="#e8dcd4"/>
<rect x="572.7" y="121.1" width="2.4" height="8" fill="#8aa060"/>
<rect x="571.8" y="120.4" width="4.3" height="1.2" fill="#e8dcd4"/>
<rect x="518.5" y="121.2" width="2.4" height="8" fill="#8aa060"/>
<rect x="517.6" y="120.6" width="4.3" height="1.2" fill="#e8dcd4"/>
<rect x="618.3" y="121.4" width="2.4" height="8" fill="#8aa060"/>
<rect x="617.3" y="120.8" width="4.3" height="1.2" fill="#e8dcd4"/>
<rect x="563.9" y="121.6" width="2.4" height="8.1" fill="#8aa060"/>
<rect x="563" y="121" width="4.3" height="1.2" fill="#e8dcd4"/>
<rect x="609.6" y="121.9" width="2.4" height="8.1" fill="#8aa060"/>
<rect x="608.7" y="121.3" width="4.3" height="1.2" fill="#e8dcd4"/>
<rect x="555" y="122.1" width="2.4" height="8.1" fill="#8aa060"/>
<rect x="554.1" y="121.5" width="4.3" height="1.2" fill="#e8dcd4"/>
<rect x="600.9" y="122.4" width="2.4" height="8.1" fill="#8aa060"/>
<rect x="600" y="121.8" width="4.3" height="1.3" fill="#e8dcd4"/>
<rect x="546" y="122.6" width="2.4" height="8.1" fill="#8aa060"/>
<rect x="545.1" y="122" width="4.3" height="1.3" fill="#e8dcd4"/>
<rect x="592.1" y="123" width="2.4" height="8.2" fill="#8aa060"/>
<rect x="591.2" y="122.3" width="4.3" height="1.3" fill="#e8dcd4"/>
<rect x="536.9" y="123.2" width="2.4" height="8.2" fill="#8aa060"/>
<rect x="536" y="122.5" width="4.4" height="1.3" fill="#e8dcd4"/>
<rect x="638.5" y="123.3" width="2.4" height="8.2" fill="#8aa060"/>
<rect x="637.5" y="122.7" width="4.4" height="1.3" fill="#e8dcd4"/>
<rect x="583.2" y="123.5" width="2.4" height="8.2" fill="#8aa060"/>
<rect x="582.3" y="122.9" width="4.4" height="1.3" fill="#e8dcd4"/>
<rect x="527.8" y="123.7" width="2.5" height="8.2" fill="#8aa060"/>
<rect x="526.8" y="123.1" width="4.4" height="1.3" fill="#e8dcd4"/>
<rect x="629.8" y="123.9" width="2.5" height="8.2" fill="#8aa060"/>
<rect x="628.8" y="123.2" width="4.4" height="1.3" fill="#e8dcd4"/>
<rect x="574.2" y="124.1" width="2.5" height="8.2" fill="#8aa060"/>
<rect x="573.3" y="123.4" width="4.4" height="1.3" fill="#e8dcd4"/>
<rect x="518.5" y="124.2" width="2.5" height="8.2" fill="#8aa060"/>
<rect x="517.6" y="123.6" width="4.4" height="1.3" fill="#e8dcd4"/>
<rect x="621" y="124.4" width="2.5" height="8.3" fill="#8aa060"/>
<rect x="620" y="123.8" width="4.4" height="1.3" fill="#e8dcd4"/>
<rect x="565.2" y="124.6" width="2.5" height="8.3" fill="#8aa060"/>
<rect x="564.2" y="124" width="4.4" height="1.3" fill="#e8dcd4"/>
<rect x="509.2" y="124.8" width="2.5" height="8.3" fill="#8aa060"/>
<rect x="508.2" y="124.1" width="4.4" height="1.3" fill="#e8dcd4"/>
<rect x="612.2" y="125" width="2.5" height="8.3" fill="#8aa060"/>
<rect x="611.2" y="124.3" width="4.4" height="1.3" fill="#e8dcd4"/>
<rect x="556" y="125.2" width="2.5" height="8.3" fill="#8aa060"/>
<rect x="555.1" y="124.5" width="4.4" height="1.3" fill="#e8dcd4"/>
<rect x="603.2" y="125.5" width="2.5" height="8.3" fill="#8aa060"/>
<rect x="602.2" y="124.9" width="4.4" height="1.3" fill="#e8dcd4"/>
<rect x="546.8" y="125.7" width="2.5" height="8.4" fill="#8aa060"/>
<rect x="545.8" y="125.1" width="4.5" height="1.3" fill="#e8dcd4"/>
<rect x="650.7" y="125.9" width="2.5" height="8.4" fill="#8aa060"/>
<rect x="649.7" y="125.2" width="4.5" height="1.3" fill="#e8dcd4"/>
<rect x="594.2" y="126.1" width="2.5" height="8.4" fill="#8aa060"/>
<rect x="593.2" y="125.4" width="4.5" height="1.3" fill="#e8dcd4"/>
<rect x="537.5" y="126.3" width="2.5" height="8.4" fill="#8aa060"/>
<rect x="536.5" y="125.6" width="4.5" height="1.3" fill="#e8dcd4"/>
<rect x="641.8" y="126.5" width="2.5" height="8.4" fill="#8aa060"/>
<rect x="640.9" y="125.8" width="4.5" height="1.3" fill="#e8dcd4"/>
<rect x="585" y="126.7" width="2.5" height="8.4" fill="#8aa060"/>
<rect x="584.1" y="126" width="4.5" height="1.4" fill="#e8dcd4"/>
<rect x="528.1" y="126.8" width="2.5" height="8.4" fill="#8aa060"/>
<rect x="527.1" y="126.2" width="4.5" height="1.4" fill="#e8dcd4"/>
<rect x="632.9" y="127" width="2.5" height="8.4" fill="#8aa060"/>
<rect x="631.9" y="126.4" width="4.5" height="1.4" fill="#e8dcd4"/>
<rect x="575.8" y="127.2" width="2.5" height="8.5" fill="#8aa060"/>
<rect x="574.8" y="126.5" width="4.5" height="1.4" fill="#e8dcd4"/>
<rect x="518.5" y="127.4" width="2.5" height="8.5" fill="#8aa060"/>
<rect x="517.6" y="126.7" width="4.5" height="1.4" fill="#e8dcd4"/>
<rect x="623.9" y="127.6" width="2.5" height="8.5" fill="#8aa060"/>
<rect x="622.9" y="126.9" width="4.5" height="1.4" fill="#e8dcd4"/>
<rect x="566.5" y="127.8" width="2.5" height="8.5" fill="#8aa060"/>
<rect x="565.5" y="127.1" width="4.5" height="1.4" fill="#e8dcd4"/>
<rect x="508.9" y="128" width="2.5" height="8.5" fill="#8aa060"/>
<rect x="507.9" y="127.3" width="4.5" height="1.4" fill="#e8dcd4"/>
<rect x="614.8" y="128.2" width="2.5" height="8.5" fill="#8aa060"/>
<rect x="613.8" y="127.5" width="4.6" height="1.4" fill="#e8dcd4"/>
<rect x="557.1" y="128.4" width="2.6" height="8.5" fill="#8aa060"/>
<rect x="556.1" y="127.7" width="4.6" height="1.4" fill="#e8dcd4"/>
<rect x="499.2" y="128.6" width="2.6" height="8.6" fill="#8aa060"/>
<rect x="498.2" y="127.9" width="4.6" height="1.4" fill="#e8dcd4"/>
<rect x="605.6" y="128.8" width="2.6" height="8.6" fill="#8aa060"/>
<rect x="604.6" y="128.1" width="4.6" height="1.4" fill="#e8dcd4"/>
<rect x="547.6" y="129" width="2.6" height="8.6" fill="#8aa060"/>
<rect x="546.6" y="128.3" width="4.6" height="1.4" fill="#e8dcd4"/>
<rect x="654.5" y="129.2" width="2.6" height="8.6" fill="#8aa060"/>
<rect x="653.5" y="128.5" width="4.6" height="1.4" fill="#e8dcd4"/>
<rect x="596.4" y="129.4" width="2.6" height="8.6" fill="#8aa060"/>
<rect x="595.3" y="128.7" width="4.6" height="1.4" fill="#e8dcd4"/>
<rect x="538" y="129.6" width="2.6" height="8.6" fill="#8aa060"/>
<rect x="537" y="128.9" width="4.6" height="1.4" fill="#e8dcd4"/>
<rect x="645.4" y="129.8" width="2.6" height="8.6" fill="#8aa060"/>
<rect x="644.4" y="129.1" width="4.6" height="1.4" fill="#e8dcd4"/>
<rect x="587" y="130" width="2.6" height="8.7" fill="#8aa060"/>
<rect x="586" y="129.3" width="4.6" height="1.4" fill="#e8dcd4"/>
<rect x="528.4" y="130.2" width="2.6" height="8.7" fill="#8aa060"/>
<rect x="527.3" y="129.5" width="4.6" height="1.4" fill="#e8dcd4"/>
<rect x="636.2" y="130.4" width="2.6" height="8.7" fill="#8aa060"/>
<rect x="635.2" y="129.7" width="4.6" height="1.4" fill="#e8dcd4"/>
<rect x="577.5" y="130.6" width="2.6" height="8.7" fill="#8aa060"/>
<rect x="576.5" y="129.9" width="4.6" height="1.4" fill="#e8dcd4"/>
<rect x="518.6" y="130.8" width="2.6" height="8.7" fill="#8aa060"/>
<rect x="517.5" y="130.1" width="4.7" height="1.5" fill="#e8dcd4"/>
<rect x="627" y="131" width="2.6" height="8.7" fill="#8aa060"/>
<rect x="626" y="130.3" width="4.7" height="1.5" fill="#e8dcd4"/>
<rect x="567.9" y="131.2" width="2.6" height="8.8" fill="#8aa060"/>
<rect x="566.9" y="130.5" width="4.7" height="1.5" fill="#e8dcd4"/>
<rect x="508.7" y="131.4" width="2.6" height="8.8" fill="#8aa060"/>
<rect x="507.7" y="130.7" width="4.7" height="1.5" fill="#e8dcd4"/>
<rect x="617.6" y="131.6" width="2.6" height="8.8" fill="#8aa060"/>
<rect x="616.6" y="130.9" width="4.7" height="1.5" fill="#e8dcd4"/>
<rect x="558.3" y="131.8" width="2.6" height="8.8" fill="#8aa060"/>
<rect x="557.2" y="131.1" width="4.7" height="1.5" fill="#e8dcd4"/>
<rect x="498.7" y="132" width="2.6" height="8.8" fill="#8aa060"/>
<rect x="497.7" y="131.3" width="4.7" height="1.5" fill="#e8dcd4"/>
<rect x="608.2" y="132.2" width="2.6" height="8.8" fill="#8aa060"/>
<rect x="607.2" y="131.5" width="4.7" height="1.5" fill="#e8dcd4"/>
<rect x="548.5" y="132.4" width="2.6" height="8.8" fill="#8aa060"/>
<rect x="547.5" y="131.7" width="4.7" height="1.5" fill="#e8dcd4"/>
<rect x="488.6" y="132.7" width="2.6" height="8.9" fill="#8aa060"/>
<rect x="487.6" y="131.9" width="4.7" height="1.5" fill="#e8dcd4"/>
<rect x="658.5" y="132.7" width="2.6" height="8.9" fill="#8aa060"/>
<rect x="657.4" y="131.9" width="4.7" height="1.5" fill="#e8dcd4"/>
<rect x="598.7" y="132.9" width="2.6" height="8.9" fill="#8aa060"/>
<rect x="597.6" y="132.1" width="4.7" height="1.5" fill="#e8dcd4"/>
<rect x="538.6" y="133.1" width="2.7" height="8.9" fill="#8aa060"/>
<rect x="537.6" y="132.3" width="4.7" height="1.5" fill="#e8dcd4"/>
<rect x="649.2" y="133.3" width="2.7" height="8.9" fill="#8aa060"/>
<rect x="648.1" y="132.5" width="4.7" height="1.5" fill="#e8dcd4"/>
<rect x="589" y="133.5" width="2.7" height="8.9" fill="#8aa060"/>
<rect x="588" y="132.7" width="4.8" height="1.5" fill="#e8dcd4"/>
<rect x="528.7" y="133.7" width="2.7" height="8.9" fill="#8aa060"/>
<rect x="527.6" y="133" width="4.8" height="1.5" fill="#e8dcd4"/>
<rect x="639.8" y="133.9" width="2.7" height="8.9" fill="#8aa060"/>
<rect x="638.7" y="133.2" width="4.8" height="1.5" fill="#e8dcd4"/>
<rect x="579.3" y="134.1" width="2.7" height="9" fill="#8aa060"/>
<rect x="578.2" y="133.4" width="4.8" height="1.5" fill="#e8dcd4"/>
<rect x="518.6" y="134.4" width="2.7" height="9" fill="#8aa060"/>
<rect x="517.5" y="133.6" width="4.8" height="1.5" fill="#e8dcd4"/>
<rect x="630.3" y="134.6" width="2.7" height="9" fill="#8aa060"/>
<rect x="629.2" y="133.8" width="4.8" height="1.5" fill="#e8dcd4"/>
<rect x="569.4" y="134.8" width="2.7" height="9" fill="#8aa060"/>
<rect x="568.4" y="134" width="4.8" height="1.5" fill="#e8dcd4"/>
<rect x="508.4" y="135" width="2.7" height="9" fill="#8aa060"/>
<rect x="507.4" y="134.2" width="4.8" height="1.6" fill="#e8dcd4"/>
<rect x="620.6" y="135.2" width="2.7" height="9" fill="#8aa060"/>
<rect x="619.6" y="134.5" width="4.8" height="1.6" fill="#e8dcd4"/>
<rect x="559.5" y="135.5" width="2.7" height="9.1" fill="#8aa060"/>
<rect x="558.4" y="134.7" width="4.8" height="1.6" fill="#e8dcd4"/>
<rect x="498.1" y="135.7" width="2.7" height="9.1" fill="#8aa060"/>
<rect x="497.1" y="134.9" width="4.8" height="1.6" fill="#e8dcd4"/>
<rect x="610.9" y="135.9" width="2.7" height="9.1" fill="#8aa060"/>
<rect x="609.9" y="135.1" width="4.8" height="1.6" fill="#e8dcd4"/>
<rect x="549.4" y="136.1" width="2.7" height="9.1" fill="#8aa060"/>
<rect x="548.4" y="135.3" width="4.9" height="1.6" fill="#e8dcd4"/>
<rect x="487.7" y="136.3" width="2.7" height="9.1" fill="#8aa060"/>
<rect x="486.7" y="135.5" width="4.9" height="1.6" fill="#e8dcd4"/>
<rect x="662.7" y="136.3" width="2.7" height="9.1" fill="#8aa060"/>
<rect x="661.7" y="135.6" width="4.9" height="1.6" fill="#e8dcd4"/>
<rect x="601.1" y="136.6" width="2.7" height="9.1" fill="#8aa060"/>
<rect x="600" y="135.8" width="4.9" height="1.6" fill="#e8dcd4"/>
<rect x="539.3" y="136.8" width="2.7" height="9.2" fill="#8aa060"/>
<rect x="538.2" y="136" width="4.9" height="1.6" fill="#e8dcd4"/>
<rect x="653.2" y="137" width="2.7" height="9.2" fill="#8aa060"/>
<rect x="652.1" y="136.2" width="4.9" height="1.6" fill="#e8dcd4"/>
<rect x="591.2" y="137.2" width="2.7" height="9.2" fill="#8aa060"/>
<rect x="590.1" y="136.4" width="4.9" height="1.6" fill="#e8dcd4"/>
<rect x="529" y="137.5" width="2.7" height="9.2" fill="#8aa060"/>
<rect x="527.9" y="136.7" width="4.9" height="1.6" fill="#e8dcd4"/>
<rect x="643.5" y="137.7" width="2.8" height="9.2" fill="#8aa060"/>
<rect x="642.4" y="136.9" width="4.9" height="1.6" fill="#e8dcd4"/>
<rect x="581.2" y="137.9" width="2.8" height="9.2" fill="#8aa060"/>
<rect x="580.1" y="137.1" width="4.9" height="1.6" fill="#e8dcd4"/>
<rect x="518.6" y="138.2" width="2.8" height="9.3" fill="#8aa060"/>
<rect x="517.5" y="137.3" width="4.9" height="1.6" fill="#e8dcd4"/>
<rect x="633.7" y="138.4" width="2.8" height="9.3" fill="#8aa060"/>
<rect x="632.6" y="137.6" width="4.9" height="1.6" fill="#e8dcd4"/>
<rect x="571" y="138.6" width="2.8" height="9.3" fill="#8aa060"/>
<rect x="569.9" y="137.8" width="5" height="1.6" fill="#e8dcd4"/>
<rect x="508.1" y="138.8" width="2.8" height="9.3" fill="#8aa060"/>
<rect x="507" y="138" width="5" height="1.7" fill="#e8dcd4"/>
<rect x="623.8" y="139.1" width="2.8" height="9.3" fill="#8aa060"/>
<rect x="622.7" y="138.3" width="5" height="1.7" fill="#e8dcd4"/>
<rect x="560.8" y="139.3" width="2.8" height="9.3" fill="#8aa060"/>
<rect x="559.7" y="138.5" width="5" height="1.7" fill="#e8dcd4"/>
<rect x="497.5" y="139.5" width="2.8" height="9.4" fill="#8aa060"/>
<rect x="496.4" y="138.7" width="5" height="1.7" fill="#e8dcd4"/>
<rect x="613.8" y="139.8" width="2.8" height="9.4" fill="#8aa060"/>
<rect x="612.7" y="138.9" width="5" height="1.7" fill="#e8dcd4"/>
<rect x="550.4" y="140" width="2.8" height="9.4" fill="#8aa060"/>
<rect x="549.3" y="139.2" width="5" height="1.7" fill="#e8dcd4"/>
<rect x="486.8" y="140.3" width="2.8" height="9.4" fill="#8aa060"/>
<rect x="485.7" y="139.4" width="5" height="1.7" fill="#e8dcd4"/>
<rect x="667.3" y="140.3" width="2.8" height="9.4" fill="#8aa060"/>
<rect x="666.2" y="139.4" width="5" height="1.7" fill="#e8dcd4"/>
<rect x="603.7" y="140.5" width="2.8" height="9.4" fill="#8aa060"/>
<rect x="602.6" y="139.6" width="5" height="1.7" fill="#e8dcd4"/>
<rect x="539.9" y="140.7" width="2.8" height="9.4" fill="#8aa060"/>
<rect x="538.8" y="139.9" width="5" height="1.7" fill="#e8dcd4"/>
<rect x="475.9" y="141" width="2.8" height="9.5" fill="#8aa060"/>
<rect x="474.8" y="140.1" width="5" height="1.7" fill="#e8dcd4"/>
<rect x="657.4" y="141" width="2.8" height="9.5" fill="#8aa060"/>
<rect x="656.3" y="140.1" width="5" height="1.7" fill="#e8dcd4"/>
<rect x="593.5" y="141.2" width="2.8" height="9.5" fill="#8aa060"/>
<rect x="592.4" y="140.4" width="5.1" height="1.7" fill="#e8dcd4"/>
<rect x="529.4" y="141.5" width="2.8" height="9.5" fill="#8aa060"/>
<rect x="528.2" y="140.6" width="5.1" height="1.7" fill="#e8dcd4"/>
<rect x="647.5" y="141.7" width="2.8" height="9.5" fill="#8aa060"/>
<rect x="646.3" y="140.8" width="5.1" height="1.7" fill="#e8dcd4"/>
<rect x="583.2" y="141.9" width="2.8" height="9.5" fill="#8aa060"/>
<rect x="582" y="141.1" width="5.1" height="1.7" fill="#e8dcd4"/>
<rect x="518.6" y="142.2" width="2.9" height="9.5" fill="#8aa060"/>
<rect x="517.5" y="141.3" width="5.1" height="1.7" fill="#e8dcd4"/>
<rect x="637.4" y="142.4" width="2.9" height="9.6" fill="#8aa060"/>
<rect x="636.3" y="141.6" width="5.1" height="1.7" fill="#e8dcd4"/>
<rect x="572.7" y="142.7" width="2.9" height="9.6" fill="#8aa060"/>
<rect x="571.6" y="141.8" width="5.1" height="1.8" fill="#f0c8d8"/>
<rect x="507.8" y="142.9" width="2.9" height="9.6" fill="#8aa060"/>
<rect x="506.7" y="142" width="5.1" height="1.8" fill="#f0c8d8"/>
<rect x="627.2" y="143.2" width="2.9" height="9.6" fill="#8aa060"/>
<rect x="626.1" y="142.3" width="5.1" height="1.8" fill="#f0c8d8"/>
<rect x="562.2" y="143.4" width="2.9" height="9.6" fill="#8aa060"/>
<rect x="561" y="142.5" width="5.1" height="1.8" fill="#f0c8d8"/>
<rect x="496.9" y="143.7" width="2.9" height="9.7" fill="#8aa060"/>
<rect x="495.7" y="142.8" width="5.2" height="1.8" fill="#f0c8d8"/>
<rect x="616.9" y="143.9" width="2.9" height="9.7" fill="#8aa060"/>
<rect x="615.8" y="143" width="5.2" height="1.8" fill="#f0c8d8"/>
<rect x="551.5" y="144.2" width="2.9" height="9.7" fill="#8aa060"/>
<rect x="550.3" y="143.3" width="5.2" height="1.8" fill="#f0c8d8"/>
<rect x="485.8" y="144.4" width="2.9" height="9.7" fill="#8aa060"/>
<rect x="484.6" y="143.5" width="5.2" height="1.8" fill="#f0c8d8"/>
<rect x="672.1" y="144.4" width="2.9" height="9.7" fill="#8aa060"/>
<rect x="670.9" y="143.5" width="5.2" height="1.8" fill="#f0c8d8"/>
<rect x="606.5" y="144.7" width="2.9" height="9.7" fill="#8aa060"/>
<rect x="605.3" y="143.8" width="5.2" height="1.8" fill="#f0c8d8"/>
<rect x="540.7" y="144.9" width="2.9" height="9.7" fill="#8aa060"/>
<rect x="539.5" y="144" width="5.2" height="1.8" fill="#f0c8d8"/>
<rect x="474.6" y="145.2" width="2.9" height="9.8" fill="#8aa060"/>
<rect x="473.4" y="144.3" width="5.2" height="1.8" fill="#f0c8d8"/>
<rect x="661.9" y="145.2" width="2.9" height="9.8" fill="#8aa060"/>
<rect x="660.8" y="144.3" width="5.2" height="1.8" fill="#f0c8d8"/>
<rect x="596" y="145.4" width="2.9" height="9.8" fill="#8aa060"/>
<rect x="594.8" y="144.5" width="5.2" height="1.8" fill="#f0c8d8"/>
<rect x="529.7" y="145.7" width="2.9" height="9.8" fill="#8aa060"/>
<rect x="528.6" y="144.8" width="5.2" height="1.8" fill="#f0c8d8"/>
<rect x="651.7" y="146" width="2.9" height="9.8" fill="#8aa060"/>
<rect x="650.5" y="145" width="5.2" height="1.8" fill="#f0c8d8"/>
<rect x="585.3" y="146.2" width="2.9" height="9.8" fill="#8aa060"/>
<rect x="584.1" y="145.3" width="5.2" height="1.8" fill="#f0c8d8"/>
<rect x="518.7" y="146.5" width="2.9" height="9.9" fill="#8aa060"/>
<rect x="517.5" y="145.5" width="5.3" height="1.9" fill="#f0c8d8"/>
<rect x="641.3" y="146.7" width="3" height="9.9" fill="#8aa060"/>
<rect x="640.1" y="145.8" width="5.3" height="1.9" fill="#f0c8d8"/>
<rect x="574.5" y="147" width="3" height="9.9" fill="#8aa060"/>
<rect x="573.4" y="146.1" width="5.3" height="1.9" fill="#f0c8d8"/>
<rect x="507.5" y="147.3" width="3" height="9.9" fill="#b07a48"/>
<rect x="506.3" y="146.3" width="5.3" height="1.9" fill="#f0c8d8"/>
<rect x="630.8" y="147.5" width="3" height="9.9" fill="#b07a48"/>
<rect x="629.6" y="146.6" width="5.3" height="1.9" fill="#f0c8d8"/>
<rect x="563.6" y="147.8" width="3" height="10" fill="#b07a48"/>
<rect x="562.4" y="146.8" width="5.3" height="1.9" fill="#f0c8d8"/>
<rect x="496.2" y="148.1" width="3" height="10" fill="#b07a48"/>
<rect x="495" y="147.1" width="5.3" height="1.9" fill="#f0c8d8"/>
<rect x="620.2" y="148.3" width="3" height="10" fill="#b07a48"/>
<rect x="619" y="147.4" width="5.3" height="1.9" fill="#f0c8d8"/>
<rect x="552.6" y="148.6" width="3" height="10" fill="#b07a48"/>
<rect x="551.4" y="147.6" width="5.3" height="1.9" fill="#f0c8d8"/>
<rect x="484.7" y="148.9" width="3" height="10" fill="#b07a48"/>
<rect x="483.5" y="147.9" width="5.4" height="1.9" fill="#f0c8d8"/>
<rect x="677.2" y="148.9" width="3" height="10" fill="#b07a48"/>
<rect x="676" y="147.9" width="5.4" height="1.9" fill="#f0c8d8"/>
<rect x="609.4" y="149.1" width="3" height="10.1" fill="#b07a48"/>
<rect x="608.3" y="148.2" width="5.4" height="1.9" fill="#f0c8d8"/>
<rect x="541.4" y="149.4" width="3" height="10.1" fill="#b07a48"/>
<rect x="540.2" y="148.4" width="5.4" height="1.9" fill="#f0c8d8"/>
<rect x="473.1" y="149.7" width="3" height="10.1" fill="#b07a48"/>
<rect x="471.9" y="148.7" width="5.4" height="1.9" fill="#f0c8d8"/>
<rect x="666.8" y="149.7" width="3" height="10.1" fill="#b07a48"/>
<rect x="665.6" y="148.7" width="5.4" height="1.9" fill="#f0c8d8"/>
<rect x="598.6" y="150" width="3" height="10.1" fill="#b07a48"/>
<rect x="597.4" y="149" width="5.4" height="2" fill="#f0c8d8"/>
<rect x="530.1" y="150.2" width="3" height="10.1" fill="#b07a48"/>
<rect x="528.9" y="149.2" width="5.4" height="2" fill="#f0c8d8"/>
<rect x="656.2" y="150.5" width="3" height="10.2" fill="#b07a48"/>
<rect x="655" y="149.5" width="5.4" height="2" fill="#f0c8d8"/>
<rect x="587.6" y="150.8" width="3" height="10.2" fill="#b07a48"/>
<rect x="586.4" y="149.8" width="5.4" height="2" fill="#f0c8d8"/>
<rect x="518.7" y="151.1" width="3" height="10.2" fill="#b07a48"/>
<rect x="517.5" y="150.1" width="5.4" height="2" fill="#f0c8d8"/>
<rect x="645.5" y="151.3" width="3.1" height="10.2" fill="#b07a48"/>
<rect x="644.3" y="150.3" width="5.4" height="2" fill="#f0c8d8"/>
<rect x="576.4" y="151.6" width="3.1" height="10.2" fill="#b07a48"/>
<rect x="575.2" y="150.6" width="5.5" height="2" fill="#f0c8d8"/>
<rect x="507.1" y="151.9" width="3.1" height="10.3" fill="#b07a48"/>
<rect x="505.9" y="150.9" width="5.5" height="2" fill="#f0c8d8"/>
<rect x="634.7" y="152.2" width="3.1" height="10.3" fill="#b07a48"/>
<rect x="633.5" y="151.2" width="5.5" height="2" fill="#f0c8d8"/>
<rect x="565.2" y="152.5" width="3.1" height="10.3" fill="#b07a48"/>
<rect x="564" y="151.5" width="5.5" height="2" fill="#f0c8d8"/>
<rect x="495.4" y="152.7" width="3.1" height="10.3" fill="#b07a48"/>
<rect x="494.2" y="151.7" width="5.5" height="2" fill="#f0c8d8"/>
<rect x="623.7" y="153" width="3.1" height="10.3" fill="#b07a48"/>
<rect x="622.5" y="152" width="5.5" height="2" fill="#f0c8d8"/>
<rect x="553.8" y="153.3" width="3.1" height="10.4" fill="#b07a48"/>
<rect x="552.6" y="152.3" width="5.5" height="2" fill="#f0c8d8"/>
<rect x="483.6" y="153.6" width="3.1" height="10.4" fill="#b07a48"/>
<rect x="482.4" y="152.6" width="5.5" height="2.1" fill="#f0c8d8"/>
<rect x="682.7" y="153.6" width="3.1" height="10.4" fill="#b07a48"/>
<rect x="681.5" y="152.6" width="5.5" height="2.1" fill="#f0c8d8"/>
<rect x="612.6" y="153.9" width="3.1" height="10.4" fill="#b07a48"/>
<rect x="611.4" y="152.9" width="5.5" height="2.1" fill="#f0c8d8"/>
<rect x="542.2" y="154.2" width="3.1" height="10.4" fill="#b07a48"/>
<rect x="541" y="153.2" width="5.6" height="2.1" fill="#f0c8d8"/>
<rect x="471.6" y="154.5" width="3.1" height="10.4" fill="#b07a48"/>
<rect x="470.4" y="153.4" width="5.6" height="2.1" fill="#f0c8d8"/>
<rect x="671.9" y="154.5" width="3.1" height="10.4" fill="#b07a48"/>
<rect x="670.7" y="153.5" width="5.6" height="2.1" fill="#f0c8d8"/>
<rect x="601.4" y="154.8" width="3.1" height="10.5" fill="#b07a48"/>
<rect x="600.2" y="153.7" width="5.6" height="2.1" fill="#f0c8d8"/>
<rect x="530.6" y="155.1" width="3.1" height="10.5" fill="#b07a48"/>
<rect x="529.3" y="154" width="5.6" height="2.1" fill="#f0c8d8"/>
<rect x="661" y="155.4" width="3.1" height="10.5" fill="#b07a48"/>
<rect x="659.8" y="154.3" width="5.6" height="2.1" fill="#f0c8d8"/>
<rect x="590" y="155.7" width="3.1" height="10.5" fill="#b07a48"/>
<rect x="588.8" y="154.6" width="5.6" height="2.1" fill="#f0c8d8"/>
<rect x="518.7" y="156" width="3.2" height="10.6" fill="#b07a48"/>
<rect x="517.5" y="154.9" width="5.6" height="2.1" fill="#f0c8d8"/>
<rect x="650" y="156.3" width="3.2" height="10.6" fill="#b07a48"/>
<rect x="648.7" y="155.2" width="5.6" height="2.1" fill="#f0c8d8"/>
<rect x="578.5" y="156.6" width="3.2" height="10.6" fill="#b07a48"/>
<rect x="577.3" y="155.5" width="5.7" height="2.1" fill="#f0c8d8"/>
<rect x="506.8" y="156.9" width="3.2" height="10.6" fill="#b07a48"/>
<rect x="505.5" y="155.8" width="5.7" height="2.1" fill="#f0c8d8"/>
<rect x="638.8" y="157.2" width="3.2" height="10.6" fill="#b07a48"/>
<rect x="637.5" y="156.1" width="5.7" height="2.2" fill="#f0c8d8"/>
<rect x="566.9" y="157.5" width="3.2" height="10.7" fill="#b07a48"/>
<rect x="565.6" y="156.4" width="5.7" height="2.2" fill="#f0c8d8"/>
<rect x="494.6" y="157.8" width="3.2" height="10.7" fill="#b07a48"/>
<rect x="493.4" y="156.7" width="5.7" height="2.2" fill="#f0c8d8"/>
<rect x="627.5" y="158.1" width="3.2" height="10.7" fill="#b07a48"/>
<rect x="626.2" y="157" width="5.7" height="2.2" fill="#f0c8d8"/>
<rect x="555.1" y="158.4" width="3.2" height="10.7" fill="#b07a48"/>
<rect x="553.8" y="157.3" width="5.7" height="2.2" fill="#f0c8d8"/>
<rect x="482.4" y="158.7" width="3.2" height="10.8" fill="#b07a48"/>
<rect x="481.1" y="157.6" width="5.7" height="2.2" fill="#f0c8d8"/>
<rect x="616" y="159" width="3.2" height="10.8" fill="#b07a48"/>
<rect x="614.7" y="157.9" width="5.7" height="2.2" fill="#f0c8d8"/>
<rect x="543.1" y="159.3" width="3.2" height="10.8" fill="#b07a48"/>
<rect x="541.8" y="158.2" width="5.8" height="2.2" fill="#f0c8d8"/>
<rect x="469.9" y="159.6" width="3.2" height="10.8" fill="#b07a48"/>
<rect x="468.7" y="158.5" width="5.8" height="2.2" fill="#f0c8d8"/>
<rect x="677.4" y="159.6" width="3.2" height="10.8" fill="#b07a48"/>
<rect x="676.2" y="158.5" width="5.8" height="2.2" fill="#f0c8d8"/>
<rect x="604.4" y="160" width="3.2" height="10.8" fill="#b07a48"/>
<rect x="603.1" y="158.8" width="5.8" height="2.2" fill="#f0c8d8"/>
<rect x="531" y="160.3" width="3.2" height="10.9" fill="#b07a48"/>
<rect x="529.7" y="159.1" width="5.8" height="2.3" fill="#f0c8d8"/>
<rect x="666.2" y="160.6" width="3.3" height="10.9" fill="#b07a48"/>
<rect x="664.9" y="159.5" width="5.8" height="2.3" fill="#f0c8d8"/>
<rect x="592.6" y="160.9" width="3.3" height="10.9" fill="#b07a48"/>
<rect x="591.3" y="159.8" width="5.8" height="2.3" fill="#f0c8d8"/>
<rect x="518.8" y="161.2" width="3.3" height="10.9" fill="#b07a48"/>
<rect x="517.5" y="160.1" width="5.8" height="2.3" fill="#f0c8d8"/>
<rect x="654.8" y="161.5" width="3.3" height="11" fill="#b07a48"/>
<rect x="653.5" y="160.4" width="5.8" height="2.3" fill="#f0c8d8"/>
<rect x="580.7" y="161.9" width="3.3" height="11" fill="#b07a48"/>
<rect x="579.4" y="160.7" width="5.9" height="2.3" fill="#f0c8d8"/>
<rect x="506.4" y="162.2" width="3.3" height="11" fill="#b07a48"/>
<rect x="505.1" y="161" width="5.9" height="2.3" fill="#f0c8d8"/>
<rect x="643.2" y="162.5" width="3.3" height="11" fill="#b07a48"/>
<rect x="641.9" y="161.4" width="5.9" height="2.3" fill="#f0c8d8"/>
<rect x="568.7" y="162.8" width="3.3" height="11.1" fill="#b07a48"/>
<rect x="567.4" y="161.7" width="5.9" height="2.3" fill="#f0c8d8"/>
<rect x="493.8" y="163.2" width="3.3" height="11.1" fill="#b07a48"/>
<rect x="492.5" y="162" width="5.9" height="2.3" fill="#f0c8d8"/>
<rect x="631.5" y="163.5" width="3.3" height="11.1" fill="#b07a48"/>
<rect x="630.2" y="162.3" width="5.9" height="2.3" fill="#f0c8d8"/>
<rect x="556.4" y="163.8" width="3.3" height="11.1" fill="#b07a48"/>
<rect x="555.1" y="162.7" width="5.9" height="2.4" fill="#f0c8d8"/>
<rect x="481" y="164.2" width="3.3" height="11.1" fill="#b07a48"/>
<rect x="479.7" y="163" width="5.9" height="2.4" fill="#f0c8d8"/>
<rect x="619.6" y="164.5" width="3.3" height="11.2" fill="#b07a48"/>
<rect x="618.3" y="163.3" width="6" height="2.4" fill="#f0c8d8"/>
<rect x="544.1" y="164.8" width="3.3" height="11.2" fill="#b07a48"/>
<rect x="542.7" y="163.6" width="6" height="2.4" fill="#f0c8d8"/>
<rect x="468.1" y="165.2" width="3.4" height="11.2" fill="#b07a48"/>
<rect x="466.8" y="164" width="6" height="2.4" fill="#f0c8d8"/>
<rect x="683.4" y="165.2" width="3.4" height="11.2" fill="#b07a48"/>
<rect x="682.1" y="164" width="6" height="2.4" fill="#f0c8d8"/>
<rect x="607.6" y="165.5" width="3.4" height="11.2" fill="#b07a48"/>
<rect x="606.3" y="164.3" width="6" height="2.4" fill="#f0c8d8"/>
<rect x="531.5" y="165.8" width="3.4" height="11.3" fill="#b07a48"/>
<rect x="530.2" y="164.6" width="6" height="2.4" fill="#f0c8d8"/>
<rect x="671.7" y="166.2" width="3.4" height="11.3" fill="#b07a48"/>
<rect x="670.4" y="165" width="6" height="2.4" fill="#f0c8d8"/>
<rect x="595.4" y="166.5" width="3.4" height="11.3" fill="#b07a48"/>
<rect x="594.1" y="165.3" width="6" height="2.4" fill="#f0c8d8"/>
<rect x="518.8" y="166.9" width="3.4" height="11.3" fill="#b07a48"/>
<rect x="517.5" y="165.6" width="6.1" height="2.5" fill="#f0c8d8"/>
<rect x="659.9" y="167.2" width="3.4" height="11.4" fill="#b07a48"/>
<rect x="658.6" y="166" width="6.1" height="2.5" fill="#f0c8d8"/>
<rect x="583.1" y="167.6" width="3.4" height="11.4" fill="#b07a48"/>
<rect x="581.8" y="166.3" width="6.1" height="2.5" fill="#f0c8d8"/>
<rect x="505.9" y="167.9" width="3.4" height="11.4" fill="#b07a48"/>
<rect x="504.6" y="166.7" width="6.1" height="2.5" fill="#f0c8d8"/>
<rect x="648" y="168.3" width="3.4" height="11.4" fill="#b07a48"/>
<rect x="646.6" y="167" width="6.1" height="2.5" fill="#f2b0cc"/>
<rect x="570.6" y="168.6" width="3.4" height="11.5" fill="#b07a48"/>
<rect x="569.2" y="167.4" width="6.1" height="2.5" fill="#f2b0cc"/>
<rect x="492.9" y="169" width="3.4" height="11.5" fill="#b07a48"/>
<rect x="491.5" y="167.7" width="6.1" height="2.5" fill="#f2b0cc"/>
<rect x="635.8" y="169.3" width="3.4" height="11.5" fill="#b07a48"/>
<rect x="634.5" y="168.1" width="6.1" height="2.5" fill="#f2b0cc"/>
<rect x="557.9" y="169.7" width="3.4" height="11.6" fill="#b07a48"/>
<rect x="556.6" y="168.4" width="6.2" height="2.5" fill="#f2b0cc"/>
<rect x="479.6" y="170" width="3.5" height="11.6" fill="#b07a48"/>
<rect x="478.3" y="168.8" width="6.2" height="2.6" fill="#f2b0cc"/>
<rect x="623.5" y="170.4" width="3.5" height="11.6" fill="#d85a34"/>
<rect x="622.2" y="169.1" width="6.2" height="2.6" fill="#f2b0cc"/>
<rect x="545.1" y="170.8" width="3.5" height="11.6" fill="#d85a34"/>
<rect x="543.7" y="169.5" width="6.2" height="2.6" fill="#f2b0cc"/>
<rect x="466.2" y="171.1" width="3.5" height="11.7" fill="#d85a34"/>
<rect x="464.9" y="169.8" width="6.2" height="2.6" fill="#f2b0cc"/>
<rect x="611.1" y="171.5" width="3.5" height="11.7" fill="#d85a34"/>
<rect x="609.7" y="170.2" width="6.2" height="2.6" fill="#f2b0cc"/>
<rect x="532" y="171.9" width="3.5" height="11.7" fill="#d85a34"/>
<rect x="530.7" y="170.6" width="6.2" height="2.6" fill="#f2b0cc"/>
<rect x="677.7" y="172.2" width="3.5" height="11.7" fill="#d85a34"/>
<rect x="676.4" y="170.9" width="6.3" height="2.6" fill="#f2b0cc"/>
<rect x="598.5" y="172.6" width="3.5" height="11.8" fill="#d85a34"/>
<rect x="597.1" y="171.3" width="6.3" height="2.6" fill="#f2b0cc"/>
<rect x="518.8" y="173" width="3.5" height="11.8" fill="#d85a34"/>
<rect x="517.5" y="171.6" width="6.3" height="2.7" fill="#f2b0cc"/>
<rect x="665.5" y="173.4" width="3.5" height="11.8" fill="#d85a34"/>
<rect x="664.1" y="172" width="6.3" height="2.7" fill="#f2b0cc"/>
<rect x="585.7" y="173.7" width="3.5" height="11.8" fill="#d85a34"/>
<rect x="584.3" y="172.4" width="6.3" height="2.7" fill="#f2b0cc"/>
<rect x="505.5" y="174.1" width="3.5" height="11.9" fill="#d85a34"/>
<rect x="504.1" y="172.8" width="6.3" height="2.7" fill="#f2b0cc"/>
<rect x="653.1" y="174.5" width="3.6" height="11.9" fill="#d85a34"/>
<rect x="651.7" y="173.1" width="6.3" height="2.7" fill="#f2b0cc"/>
<rect x="572.7" y="174.9" width="3.6" height="11.9" fill="#d85a34"/>
<rect x="571.3" y="173.5" width="6.4" height="2.7" fill="#f2b0cc"/>
<rect x="491.9" y="175.2" width="3.6" height="12" fill="#d85a34"/>
<rect x="490.5" y="173.9" width="6.4" height="2.7" fill="#f2b0cc"/>
<rect x="640.5" y="175.6" width="3.6" height="12" fill="#d85a34"/>
<rect x="639.1" y="174.3" width="6.4" height="2.7" fill="#f2b0cc"/>
<rect x="559.5" y="176" width="3.6" height="12" fill="#d85a34"/>
<rect x="558.1" y="174.6" width="6.4" height="2.8" fill="#f2b0cc"/>
<rect x="478.1" y="176.4" width="3.6" height="12" fill="#d85a34"/>
<rect x="476.7" y="175" width="6.4" height="2.8" fill="#f2b0cc"/>
<rect x="627.8" y="176.8" width="3.6" height="12.1" fill="#d85a34"/>
<rect x="626.4" y="175.4" width="6.4" height="2.8" fill="#f2b0cc"/>
<rect x="546.2" y="177.2" width="3.6" height="12.1" fill="#d85a34"/>
<rect x="544.7" y="175.8" width="6.5" height="2.8" fill="#f2b0cc"/>
<rect x="464.2" y="177.6" width="3.6" height="12.1" fill="#d85a34"/>
<rect x="462.7" y="176.2" width="6.5" height="2.8" fill="#f2b0cc"/>
<rect x="614.9" y="178" width="3.6" height="12.2" fill="#d85a34"/>
<rect x="613.4" y="176.6" width="6.5" height="2.8" fill="#f2b0cc"/>
<rect x="532.6" y="178.4" width="3.6" height="12.2" fill="#d85a34"/>
<rect x="531.2" y="176.9" width="6.5" height="2.8" fill="#f2b0cc"/>
<rect x="601.7" y="179.2" width="3.7" height="12.2" fill="#d85a34"/>
<rect x="600.3" y="177.7" width="6.5" height="2.9" fill="#f2b0cc"/>
<rect x="518.9" y="179.6" width="3.7" height="12.3" fill="#d85a34"/>
<rect x="517.4" y="178.1" width="6.5" height="2.9" fill="#f2b0cc"/>
<rect x="671.5" y="180" width="3.7" height="12.3" fill="#d85a34"/>
<rect x="670.1" y="178.5" width="6.6" height="2.9" fill="#f2b0cc"/>
<rect x="588.4" y="180.4" width="3.7" height="12.3" fill="#d85a34"/>
<rect x="587" y="178.9" width="6.6" height="2.9" fill="#f2b0cc"/>
<rect x="504.9" y="180.8" width="3.7" height="12.4" fill="#d85a34"/>
<rect x="503.5" y="179.3" width="6.6" height="2.9" fill="#f2b0cc"/>
<rect x="658.7" y="181.2" width="3.7" height="12.4" fill="#d85a34"/>
<rect x="657.2" y="179.7" width="6.6" height="2.9" fill="#f2b0cc"/>
<rect x="574.9" y="181.6" width="3.7" height="12.4" fill="#d85a34"/>
<rect x="573.5" y="180.1" width="6.6" height="2.9" fill="#f2b0cc"/>
<rect x="490.8" y="182" width="3.7" height="12.4" fill="#d85a34"/>
<rect x="489.3" y="180.5" width="6.6" height="3" fill="#f2b0cc"/>
<rect x="645.6" y="182.4" width="3.7" height="12.5" fill="#d85a34"/>
<rect x="644.1" y="181" width="6.7" height="3" fill="#f2b0cc"/>
<rect x="561.2" y="182.9" width="3.7" height="12.5" fill="#d85a34"/>
<rect x="559.8" y="181.4" width="6.7" height="3" fill="#f2b0cc"/>
<rect x="476.5" y="183.3" width="3.7" height="12.5" fill="#d85a34"/>
<rect x="475" y="181.8" width="6.7" height="3" fill="#f2b0cc"/>
<rect x="632.4" y="183.7" width="3.8" height="12.6" fill="#d85a34"/>
<rect x="630.9" y="182.2" width="6.7" height="3" fill="#f2b0cc"/>
<rect x="547.3" y="184.1" width="3.8" height="12.6" fill="#d85a34"/>
<rect x="545.9" y="182.6" width="6.7" height="3" fill="#f2b0cc"/>
<rect x="618.9" y="185" width="3.8" height="12.7" fill="#d85a34"/>
<rect x="617.4" y="183.5" width="6.8" height="3.1" fill="#f2b0cc"/>
<rect x="533.2" y="185.4" width="3.8" height="12.7" fill="#d85a34"/>
<rect x="531.7" y="183.9" width="6.8" height="3.1" fill="#f2b0cc"/>
<rect x="605.3" y="186.3" width="3.8" height="12.8" fill="#d85a34"/>
<rect x="603.8" y="184.7" width="6.8" height="3.1" fill="#f2b0cc"/>
<rect x="518.9" y="186.7" width="3.8" height="12.8" fill="#d85a34"/>
<rect x="517.4" y="185.2" width="6.8" height="3.1" fill="#f2b0cc"/>
<rect x="591.4" y="187.6" width="3.8" height="12.9" fill="#d85a34"/>
<rect x="589.9" y="186" width="6.9" height="3.2" fill="#f2b0cc"/>
<rect x="504.4" y="188" width="3.8" height="12.9" fill="#d85a34"/>
<rect x="502.9" y="186.5" width="6.9" height="3.2" fill="#f2b0cc"/>
<rect x="664.7" y="188.5" width="3.9" height="12.9" fill="#d85a34"/>
<rect x="663.2" y="186.9" width="6.9" height="3.2" fill="#f2b0cc"/>
<rect x="577.4" y="188.9" width="3.9" height="13" fill="#d85a34"/>
<rect x="575.9" y="187.3" width="6.9" height="3.2" fill="#f2b0cc"/>
<rect x="489.6" y="189.4" width="3.9" height="13" fill="#d85a34"/>
<rect x="488.1" y="187.8" width="6.9" height="3.2" fill="#f2b0cc"/>
<rect x="651.1" y="189.9" width="3.9" height="13" fill="#d85a34"/>
<rect x="649.6" y="188.2" width="6.9" height="3.2" fill="#f2b0cc"/>
<rect x="563.1" y="190.3" width="3.9" height="13" fill="#d85a34"/>
<rect x="561.6" y="188.7" width="7" height="3.2" fill="#f2b0cc"/>
<rect x="637.3" y="191.2" width="3.9" height="13.1" fill="#d85a34"/>
<rect x="635.8" y="189.6" width="7" height="3.3" fill="#f2b0cc"/>
<rect x="548.6" y="191.7" width="3.9" height="13.2" fill="#d85a34"/>
<rect x="547.1" y="190" width="7" height="3.3" fill="#f2b0cc"/>
<rect x="623.4" y="192.6" width="3.9" height="13.2" fill="#d85a34"/>
<rect x="621.8" y="191" width="7" height="3.3" fill="#f2b0cc"/>
<rect x="533.9" y="193.1" width="4" height="13.3" fill="#d85a34"/>
<rect x="532.4" y="191.4" width="7.1" height="3.3" fill="#f2b0cc"/>
<rect x="609.1" y="194" width="4" height="13.3" fill="#d85a34"/>
<rect x="607.6" y="192.3" width="7.1" height="3.4" fill="#f2b0cc"/>
<rect x="519" y="194.5" width="4" height="13.4" fill="#d85a34"/>
<rect x="517.4" y="192.8" width="7.1" height="3.4" fill="#f2b0cc"/>
<rect x="594.7" y="195.5" width="4" height="13.4" fill="#d85a34"/>
<rect x="593.1" y="193.8" width="7.2" height="3.4" fill="#f2b0cc"/>
<rect x="503.8" y="195.9" width="4" height="13.5" fill="#d85a34"/>
<rect x="502.2" y="194.2" width="7.2" height="3.5" fill="#f2b0cc"/>
<rect x="580.1" y="196.9" width="4" height="13.5" fill="#d85a34"/>
<rect x="578.5" y="195.2" width="7.2" height="3.5" fill="#f2b0cc"/>
<rect x="657.1" y="197.9" width="4.1" height="13.6" fill="#d85a34"/>
<rect x="655.5" y="196.2" width="7.3" height="3.5" fill="#f2b0cc"/>
<rect x="565.2" y="198.4" width="4.1" height="13.6" fill="#d85a34"/>
<rect x="563.6" y="196.6" width="7.3" height="3.5" fill="#f2b0cc"/>
<rect x="642.8" y="199.4" width="4.1" height="13.7" fill="#d85a34"/>
<rect x="641.2" y="197.6" width="7.3" height="3.6" fill="#f2b0cc"/>
<rect x="550" y="199.9" width="4.1" height="13.7" fill="#d85a34"/>
<rect x="548.4" y="198.1" width="7.3" height="3.6" fill="#f2b0cc"/>
<rect x="628.2" y="200.9" width="4.1" height="13.8" fill="#d85a34"/>
<rect x="626.6" y="199.1" width="7.4" height="3.6" fill="#f2b0cc"/>
<rect x="534.7" y="201.5" width="4.1" height="13.9" fill="#d85a34"/>
<rect x="533" y="199.6" width="7.4" height="3.7" fill="#f2b0cc"/>
<rect x="613.4" y="202.5" width="4.2" height="13.9" fill="#d85a34"/>
<rect x="611.7" y="200.6" width="7.4" height="3.7" fill="#f2b0cc"/>
<rect x="519" y="203" width="4.2" height="14" fill="#d85a34"/>
<rect x="517.4" y="201.1" width="7.5" height="3.7" fill="#f2b0cc"/>
<rect x="598.3" y="204.1" width="4.2" height="14.1" fill="#d85a34"/>
<rect x="596.7" y="202.2" width="7.5" height="3.8" fill="#f2b0cc"/>
<rect x="583" y="205.7" width="4.2" height="14.2" fill="#d85a34"/>
<rect x="581.3" y="203.8" width="7.6" height="3.8" fill="#f2b0cc"/>
<rect x="567.4" y="207.3" width="4.3" height="14.3" fill="#d85a34"/>
<rect x="565.7" y="205.4" width="7.6" height="3.9" fill="#f2b0cc"/>
<rect x="551.6" y="209" width="4.3" height="14.4" fill="#d85a34"/>
<rect x="549.9" y="207" width="7.7" height="4" fill="#f2b0cc"/>
</g>
</g>
<rect x="672.5" y="21.5" width="72" height="175.5" fill="#111"/>
<rect x="672.5" y="123.7" width="72" height="2.3" fill="#ddd"/>
<path d="M684,82 L701,101 L701,116.5 L684,106 Z" fill="#2c6a2e"/>
<path d="M701,101 L733,89 L733,103 L701,116.5 Z" fill="#3b7d3a"/>
<path d="M684,77 L701,94 L701,101 L684,82 Z" fill="#d0d4d0"/>
<path d="M701,94 L733,83.5 L733,89 L701,101 Z" fill="#e6e8e4"/>
<path d="M684,72 L701,88 L701,94 L684,77 Z" fill="#86c42c"/>
<path d="M701,88 L733,79 L733,83.5 L701,94 Z" fill="#7ab428"/>
<path d="M684,72 L713,64 L733,79 L701,88 Z" fill="#9ede34"/>
<path d="M695.5,31.5 L698.5,78 L703.5,80 L718.5,77.5 L719.5,31 Z" fill="#c41f2c"/>
<path d="M695.5,31.5 L719.5,31 L718,29.5 L697,29.8 Z" fill="#d83040"/>
<line x1="727" y1="33.5" x2="727" y2="76" stroke="#bbb" stroke-width="1"/>
<text x="729" y="58.5" text-anchor="start" style="font-size:11px;fill:#ddd;font-style:italic" >H</text>
<text x="672.5" y="73" text-anchor="start" style="font-size:11px;fill:#ddd;font-style:italic" >M</text>
<text x="676.5" y="85" text-anchor="start" style="font-size:11px;fill:#ddd;font-style:italic" >I</text>
<text x="735.5" y="83.5" text-anchor="start" style="font-size:11px;fill:#ddd;font-style:italic" >I</text>
<text x="734" y="94" text-anchor="start" style="font-size:11px;fill:#ddd;font-style:italic" >S</text>
<rect x="691" y="144" width="36" height="36" fill="#8fd23c"/>
<rect x="700.2" y="153" width="16.5" height="16.7" fill="#d42a2a"/>
<line x1="730" y1="144" x2="730" y2="180" stroke="#bbb" stroke-width="1"/>
<text x="705" y="148.5" text-anchor="start" style="font-size:10px;fill:#e8f8c8;font-style:italic" >W</text>
<text x="732" y="165" text-anchor="start" style="font-size:11px;fill:#ccc;font-style:italic" >U</text>
<rect x="770.8" y="31.6" width="285.0" height="146.4" fill="none" stroke="#555" stroke-width="1.2"/>
<line x1="770.8" y1="178" x2="775.3" y2="178" stroke="#555" stroke-width="1.1"/>
<text x="768.5" y="184.2" text-anchor="end" style="font-size:18px;fill:#2a2a2a" >0</text>
<line x1="770.8" y1="148.7" x2="775.3" y2="148.7" stroke="#555" stroke-width="1.1"/>
<text x="768.5" y="154.9" text-anchor="end" style="font-size:18px;fill:#2a2a2a" >0.2</text>
<line x1="770.8" y1="119.4" x2="775.3" y2="119.4" stroke="#555" stroke-width="1.1"/>
<text x="768.5" y="125.6" text-anchor="end" style="font-size:18px;fill:#2a2a2a" >0.4</text>
<line x1="770.8" y1="90.1" x2="775.3" y2="90.1" stroke="#555" stroke-width="1.1"/>
<text x="768.5" y="96.3" text-anchor="end" style="font-size:18px;fill:#2a2a2a" >0.6</text>
<line x1="770.8" y1="60.8" x2="775.3" y2="60.8" stroke="#555" stroke-width="1.1"/>
<text x="768.5" y="67" text-anchor="end" style="font-size:18px;fill:#2a2a2a" >0.8</text>
<line x1="770.8" y1="31.5" x2="775.3" y2="31.5" stroke="#555" stroke-width="1.1"/>
<text x="768.5" y="37.7" text-anchor="end" style="font-size:18px;fill:#2a2a2a" >1.0</text>
<line x1="778.7" y1="178" x2="778.7" y2="173.5" stroke="#555" stroke-width="1.1"/>
<text x="778.7" y="200.5" text-anchor="middle" style="font-size:18px;fill:#2a2a2a" >100</text>
<line x1="817.7" y1="178" x2="817.7" y2="173.5" stroke="#555" stroke-width="1.1"/>
<text x="817.7" y="200.5" text-anchor="middle" style="font-size:18px;fill:#2a2a2a" >150</text>
<line x1="856.6" y1="178" x2="856.6" y2="173.5" stroke="#555" stroke-width="1.1"/>
<text x="856.6" y="200.5" text-anchor="middle" style="font-size:18px;fill:#2a2a2a" >200</text>
<line x1="895.6" y1="178" x2="895.6" y2="173.5" stroke="#555" stroke-width="1.1"/>
<text x="895.6" y="200.5" text-anchor="middle" style="font-size:18px;fill:#2a2a2a" >250</text>
<line x1="934.6" y1="178" x2="934.6" y2="173.5" stroke="#555" stroke-width="1.1"/>
<text x="934.6" y="200.5" text-anchor="middle" style="font-size:18px;fill:#2a2a2a" >300</text>
<line x1="973.6" y1="178" x2="973.6" y2="173.5" stroke="#555" stroke-width="1.1"/>
<text x="973.6" y="200.5" text-anchor="middle" style="font-size:18px;fill:#2a2a2a" >350</text>
<line x1="1012.5" y1="178" x2="1012.5" y2="173.5" stroke="#555" stroke-width="1.1"/>
<text x="1012.5" y="200.5" text-anchor="middle" style="font-size:18px;fill:#2a2a2a" >400</text>
<line x1="1051.5" y1="178" x2="1051.5" y2="173.5" stroke="#555" stroke-width="1.1"/>
<text x="1051.5" y="200.5" text-anchor="middle" style="font-size:18px;fill:#2a2a2a" >450</text>
<text x="913" y="224" text-anchor="middle" style="font-size:18.8px;fill:#2a2a2a" >Width/nm</text>
<path d="M770,156.4 L783.6,131.2 L786.8,110.8 L790.9,33.6 L795.4,109.2 L798.9,76.8 L802.7,175.3 L807.5,135.9 L813.8,104.5 L823.4,77.7 L845.6,39.9 L850.4,175.3 L859.9,142.2 L867.9,101.3 L877.4,52.5 L881.5,173.7 L888.5,142.2 L894.9,117.1 L901.2,91.9 L904.4,41.5 L909.2,110.1 L912.4,87.1 L917.1,74.5 L921.9,74.5 L926.7,60.4 L931.4,55.7 L936.2,76.1 L940,57.2 L944.2,68.2 L947.3,57.2 L951.5,36.8 L956.9,170.6 L961.6,156.4 L968,135.9 L974.4,117.1 L982.3,96.6 L987.7,128.1 L993.4,113.9 L1003,104.5 L1015.7,95 L1025.2,82.4 L1034.8,55.7 L1039.5,167.4 L1045.9,132.8 L1052.2,107.6 L1054.5,77.7 L1058,109.8" fill="none" stroke="#5ea4b8" stroke-width="1.05"/>
<path d="M770,148.5 L772.5,153.3 L783,170.6 L793.2,156.4 L801.1,139.1 L806.5,109.2 L810.6,172.2 L814.5,65.1 L818,175.3 L823.4,135.9 L831.3,98.2 L845.6,46.2 L850.4,110.8 L856.7,76.1 L861.5,48.4 L866.3,173.7 L872.6,95 L880.6,73 L888.5,55.7 L901.2,33.6 L905.1,172.2 L909.2,161.1 L913.3,49.4 L917.1,167.4 L926.7,142.2 L936.2,117.1 L948.3,76.1 L952.1,101.3 L956.9,87.1 L961.6,91.9 L971.2,66.7 L975.9,82.4 L980.7,66.7 L993.4,57.2 L1009.3,44.6 L1023,32 L1026.8,172.2 L1033.2,148.5 L1039.5,129.6 L1049.1,77.7 L1058,60.4" fill="none" stroke="#d84a74" stroke-width="1.05" stroke-dasharray="2.2,1.6"/>
<line x1="966.7" y1="152.3" x2="982.4" y2="152.3" stroke="#5ea4b8" stroke-width="1.05"/>
<line x1="966.7" y1="163.6" x2="982.4" y2="163.6" stroke="#d84a74" stroke-width="1.05" stroke-dasharray="2.2,1.6"/>
<text x="983" y="156.3" text-anchor="start" style="font-size:11.5px;fill:#555" ><tspan style="font-style:italic">λ</tspan>=500 nm</text>
<text x="983" y="167.6" text-anchor="start" style="font-size:11.5px;fill:#555" ><tspan style="font-style:italic">λ</tspan>=550 nm</text>
<text x="14" y="265.2" text-anchor="start" style="font-size:17px;fill:#2a2a2a" textLength="21" lengthAdjust="spacingAndGlyphs">(c)</text>
<rect x="142.8" y="281.4" width="58" height="126.8" fill="#c6c6ca"/>
<rect x="94.2" y="281.4" width="172.4" height="126.8" fill="none" stroke="#9a9aa0" stroke-width="0.9"/>
<line x1="94.2" y1="408.2" x2="94.2" y2="405.2" stroke="#888" stroke-width="0.9"/>
<text x="94.2" y="431.5" text-anchor="middle" style="font-size:18.8px;fill:#2a2a2a" >4</text>
<line x1="118.7" y1="408.2" x2="118.7" y2="405.2" stroke="#888" stroke-width="0.9"/>
<line x1="143.2" y1="408.2" x2="143.2" y2="405.2" stroke="#888" stroke-width="0.9"/>
<text x="143.2" y="431.5" text-anchor="middle" style="font-size:18.8px;fill:#2a2a2a" >6</text>
<line x1="167.7" y1="408.2" x2="167.7" y2="405.2" stroke="#888" stroke-width="0.9"/>
<line x1="192.2" y1="408.2" x2="192.2" y2="405.2" stroke="#888" stroke-width="0.9"/>
<text x="192.2" y="431.5" text-anchor="middle" style="font-size:18.8px;fill:#2a2a2a" >8</text>
<line x1="216.6" y1="408.2" x2="216.6" y2="405.2" stroke="#888" stroke-width="0.9"/>
<line x1="241.1" y1="408.2" x2="241.1" y2="405.2" stroke="#888" stroke-width="0.9"/>
<text x="241.1" y="431.5" text-anchor="middle" style="font-size:18.8px;fill:#2a2a2a" >10</text>
<text x="265.1" y="431.5" text-anchor="start" style="font-size:18px;fill:#2a2a2a" >×10<tspan dy="-7" style="font-size:12px">−4</tspan></text>
<line x1="118.7" y1="281.4" x2="118.7" y2="284.4" stroke="#888" stroke-width="0.9"/>
<line x1="159.5" y1="281.4" x2="159.5" y2="284.4" stroke="#888" stroke-width="0.9"/>
<line x1="241.1" y1="281.4" x2="241.1" y2="284.4" stroke="#888" stroke-width="0.9"/>
<line x1="132.3" y1="281.4" x2="132.3" y2="283.4" stroke="#aaa" stroke-width="0.7"/>
<line x1="149.3" y1="281.4" x2="149.3" y2="283.4" stroke="#aaa" stroke-width="0.7"/>
<line x1="171.2" y1="281.4" x2="171.2" y2="283.4" stroke="#aaa" stroke-width="0.7"/>
<line x1="184.6" y1="281.4" x2="184.6" y2="283.4" stroke="#aaa" stroke-width="0.7"/>
<line x1="200.3" y1="281.4" x2="200.3" y2="283.4" stroke="#aaa" stroke-width="0.7"/>
<line x1="218.9" y1="281.4" x2="218.9" y2="283.4" stroke="#aaa" stroke-width="0.7"/>
<line x1="125.1" y1="281.4" x2="125.1" y2="283.4" stroke="#aaa" stroke-width="0.7"/>
<line x1="140.3" y1="281.4" x2="140.3" y2="283.4" stroke="#aaa" stroke-width="0.7"/>
<text x="115.5" y="273.5" text-anchor="middle" style="font-size:18.8px;fill:#2a2a2a" >2 000</text>
<text x="162" y="273.5" text-anchor="middle" style="font-size:18.8px;fill:#2a2a2a" >1 500</text>
<text x="243.8" y="273.5" text-anchor="middle" style="font-size:18.8px;fill:#2a2a2a" >1 000</text>
<text x="117" y="250.2" text-anchor="start" style="font-size:18.8px;fill:#2a2a2a" textLength="120" lengthAdjust="spacingAndGlyphs">Wavelength/nm</text>
<text x="78" y="454.6" text-anchor="start" style="font-size:18.8px;fill:#2a2a2a" textLength="194" lengthAdjust="spacingAndGlyphs">Wavelength number/nm<tspan dy="-7" style="font-size:11px">−1</tspan></text>
<line x1="94.2" y1="408.2" x2="97.2" y2="408.2" stroke="#888" stroke-width="0.9"/>
<text x="85.2" y="414.2" text-anchor="end" style="font-size:18.8px;fill:#2a2a2a" >0</text>
<line x1="94.2" y1="394.1" x2="96.2" y2="394.1" stroke="#aaa" stroke-width="0.7"/>
<line x1="94.2" y1="379.9" x2="97.2" y2="379.9" stroke="#888" stroke-width="0.9"/>
<text x="85.2" y="385.9" text-anchor="end" style="font-size:18.8px;fill:#2a2a2a" >10</text>
<line x1="94.2" y1="365.8" x2="96.2" y2="365.8" stroke="#aaa" stroke-width="0.7"/>
<line x1="94.2" y1="351.6" x2="97.2" y2="351.6" stroke="#888" stroke-width="0.9"/>
<text x="85.2" y="357.6" text-anchor="end" style="font-size:18.8px;fill:#2a2a2a" >20</text>
<line x1="94.2" y1="337.4" x2="96.2" y2="337.4" stroke="#aaa" stroke-width="0.7"/>
<line x1="94.2" y1="323.3" x2="97.2" y2="323.3" stroke="#888" stroke-width="0.9"/>
<text x="85.2" y="329.3" text-anchor="end" style="font-size:18.8px;fill:#2a2a2a" >30</text>
<line x1="94.2" y1="309.1" x2="96.2" y2="309.1" stroke="#aaa" stroke-width="0.7"/>
<line x1="94.2" y1="295" x2="97.2" y2="295" stroke="#888" stroke-width="0.9"/>
<text x="85.2" y="301" text-anchor="end" style="font-size:18.8px;fill:#2a2a2a" >40</text>
<line x1="266.6" y1="408.2" x2="263.6" y2="408.2" stroke="#888" stroke-width="0.9"/>
<line x1="266.6" y1="395.5" x2="264.6" y2="395.5" stroke="#aaa" stroke-width="0.7"/>
<text x="271.6" y="414.2" text-anchor="start" style="font-size:18.8px;fill:#3c3c7c" >−100</text>
<line x1="266.6" y1="382.8" x2="263.6" y2="382.8" stroke="#888" stroke-width="0.9"/>
<line x1="266.6" y1="370.2" x2="264.6" y2="370.2" stroke="#aaa" stroke-width="0.7"/>
<text x="271.6" y="388.8" text-anchor="start" style="font-size:18.8px;fill:#3c3c7c" >0</text>
<line x1="266.6" y1="357.5" x2="263.6" y2="357.5" stroke="#888" stroke-width="0.9"/>
<line x1="266.6" y1="344.8" x2="264.6" y2="344.8" stroke="#aaa" stroke-width="0.7"/>
<text x="271.6" y="363.5" text-anchor="start" style="font-size:18.8px;fill:#3c3c7c" >100</text>
<line x1="266.6" y1="332.1" x2="263.6" y2="332.1" stroke="#888" stroke-width="0.9"/>
<line x1="266.6" y1="319.4" x2="264.6" y2="319.4" stroke="#aaa" stroke-width="0.7"/>
<text x="271.6" y="338.1" text-anchor="start" style="font-size:18.8px;fill:#3c3c7c" >200</text>
<line x1="266.6" y1="306.8" x2="263.6" y2="306.8" stroke="#888" stroke-width="0.9"/>
<line x1="266.6" y1="294.1" x2="264.6" y2="294.1" stroke="#aaa" stroke-width="0.7"/>
<text x="271.6" y="312.8" text-anchor="start" style="font-size:18.8px;fill:#3c3c7c" >300</text>
<line x1="266.6" y1="281.4" x2="263.6" y2="281.4" stroke="#888" stroke-width="0.9"/>
<line x1="266.6" y1="268.7" x2="264.6" y2="268.7" stroke="#aaa" stroke-width="0.7"/>
<text x="271.6" y="287.4" text-anchor="start" style="font-size:18.8px;fill:#3c3c7c" >400</text>
<text x="55" y="348.8" text-anchor="middle" style="font-size:18.8px;fill:#2a2a2a" textLength="112" lengthAdjust="spacingAndGlyphs" transform="rotate(-90 55 348.8)">Efficiency/(%)</text>
<text x="320" y="332.5" text-anchor="middle" style="font-size:18.8px;fill:#3c3c7c" textLength="68" lengthAdjust="spacingAndGlyphs" transform="rotate(-90 320 332.5)">Phase/(°)</text>
<clipPath id="clipL"><rect x="94.2" y="279.4" width="172.4" height="128.8"/></clipPath>
<g clip-path="url(#clipL)">
<path d="M94,373.5 C94.5,370.7 96.1,362.8 97.3,356.3 C98.4,349.8 99.7,340.1 100.9,334.5 C102.1,328.9 103.4,325.2 104.5,322.7 C105.7,320.2 106.6,319.4 107.8,319.6 C109,319.7 110.4,320.8 111.8,323.6 C113.2,326.4 114.8,332.2 116.3,336.3 C117.8,340.4 119.2,344.5 120.9,348.1 C122.5,351.7 124.5,355.4 126.3,358.1 C128.1,360.8 129.7,362.6 131.8,364.5 C133.9,366.3 136.3,367.8 139,369 C141.8,370.2 144.2,371.1 148.1,371.7 C152.1,372.4 157.8,372.8 162.6,373 C167.5,373.1 172.3,373.1 177.2,372.6 C182,372.1 187.5,370.9 191.7,369.9 C195.9,368.9 198.4,368 202.6,366.8 C206.8,365.6 212.3,363.9 217.1,362.6 C222,361.3 227.1,360.1 231.7,359 C236.2,357.9 240.7,356.8 244.4,356.3 C248,355.8 250.7,355.9 253.5,355.9 C256.2,356 258.5,356.2 260.7,356.6 C263,357.1 266,358.2 267.1,358.5" fill="none" stroke="#f0a0a8" stroke-width="3.6" opacity="0.6"/>
<path d="M94,373.5 C94.5,370.7 96.1,362.8 97.3,356.3 C98.4,349.8 99.7,340.1 100.9,334.5 C102.1,328.9 103.4,325.2 104.5,322.7 C105.7,320.2 106.6,319.4 107.8,319.6 C109,319.7 110.4,320.8 111.8,323.6 C113.2,326.4 114.8,332.2 116.3,336.3 C117.8,340.4 119.2,344.5 120.9,348.1 C122.5,351.7 124.5,355.4 126.3,358.1 C128.1,360.8 129.7,362.6 131.8,364.5 C133.9,366.3 136.3,367.8 139,369 C141.8,370.2 144.2,371.1 148.1,371.7 C152.1,372.4 157.8,372.8 162.6,373 C167.5,373.1 172.3,373.1 177.2,372.6 C182,372.1 187.5,370.9 191.7,369.9 C195.9,368.9 198.4,368 202.6,366.8 C206.8,365.6 212.3,363.9 217.1,362.6 C222,361.3 227.1,360.1 231.7,359 C236.2,357.9 240.7,356.8 244.4,356.3 C248,355.8 250.7,355.9 253.5,355.9 C256.2,356 258.5,356.2 260.7,356.6 C263,357.1 266,358.2 267.1,358.5" fill="none" stroke="#cc3040" stroke-width="2.2"/>
<path d="M100,410 C100.7,409 102.9,405.8 104.5,403.5 C106.2,401.2 107.9,398.5 110,396.2 C112.1,394 114.5,391.7 117.2,389.9 C120,388.1 123.3,386.5 126.3,385.3 C129.4,384.2 132.4,383.6 135.4,383 C138.4,382.3 139.9,382.2 144.5,381.3 C149,380.5 156.6,379.1 162.6,378.1 C168.7,377.1 174.8,376.2 180.8,375.4 C186.9,374.5 192.9,373.7 199,373 C205,372.2 211.1,371.6 217.1,370.8 C223.2,370.1 229.2,369.2 235.3,368.4 C241.4,367.7 248.2,366.9 253.5,366.3 C258.8,365.6 264.8,364.8 267.1,364.5" fill="none" stroke="#3a48a0" stroke-width="2.3"/>
</g>
<line x1="107.8" y1="300" x2="107.8" y2="309.6" stroke="#111" stroke-width="1.3"/>
<path d="M105.2,308.6 L110.4,308.6 L107.8,313.6 Z" fill="#111"/>
<line x1="252.2" y1="336.3" x2="252.2" y2="346" stroke="#111" stroke-width="1.3"/>
<path d="M249.6,345 L254.8,345 L252.2,350 Z" fill="#111"/>
<ellipse cx="127.5" cy="355.5" rx="2.6" ry="6.5" fill="none" stroke="#c83040" stroke-width="1.4"/>
<path d="M128.5,361.5 L117.5,361.5" stroke="#c83040" stroke-width="1.4" fill="none"/>
<path d="M115.5,361.5 L119.5,359.3 L119.5,363.7 Z" fill="#c83040"/>
<ellipse cx="119.5" cy="390" rx="2.6" ry="6.5" fill="none" stroke="#3a48a0" stroke-width="1.4"/>
<path d="M118.5,396 L129.5,396" stroke="#3a48a0" stroke-width="1.4" fill="none"/>
<path d="M131.5,396 L127.5,393.8 L127.5,398.2 Z" fill="#3a48a0"/>
<rect x="191.7" y="287.3" width="67.2" height="37.2" fill="#111"/>
<path d="M196.8,308.5 L253.7,308.5 L252.5,322.5 L198,322.5 Z" fill="#e4c21c"/>
<path d="M205.7,291.8 L244.2,291.8 L253.7,308.5 L196.8,308.5 Z" fill="#c8b8e8"/>
<rect x="197" y="308.5" width="56.5" height="3.6" fill="#d4c8ee"/>
<path d="M211,294 L214.2,294 L214.6,307.5 L210.6,307.5 Z" fill="#e8cc30" stroke="#a08a10" stroke-width="0.5"/>
<path d="M216.6,294 L219.8,294 L220.4,307.5 L216.4,307.5 Z" fill="#e8cc30" stroke="#a08a10" stroke-width="0.5"/>
<path d="M222.2,294 L225.4,294 L226.2,307.5 L222.2,307.5 Z" fill="#e8cc30" stroke="#a08a10" stroke-width="0.5"/>
<path d="M227.8,294 L231,294 L232,307.5 L228,307.5 Z" fill="#e8cc30" stroke="#a08a10" stroke-width="0.5"/>
<path d="M233.4,294 L236.6,294 L237.8,307.5 L233.8,307.5 Z" fill="#e8cc30" stroke="#a08a10" stroke-width="0.5"/>
<rect x="430.4" y="280.8" width="57.1" height="126.3" fill="#c6c6ca"/>
<rect x="382.7" y="280.8" width="170.3" height="126.3" fill="none" stroke="#9a9aa0" stroke-width="0.9"/>
<line x1="382.7" y1="407.1" x2="382.7" y2="404.1" stroke="#888" stroke-width="0.9"/>
<text x="382.7" y="431.5" text-anchor="middle" style="font-size:18.8px;fill:#2a2a2a" >4</text>
<line x1="406.9" y1="407.1" x2="406.9" y2="404.1" stroke="#888" stroke-width="0.9"/>
<line x1="431.1" y1="407.1" x2="431.1" y2="404.1" stroke="#888" stroke-width="0.9"/>
<text x="431.1" y="431.5" text-anchor="middle" style="font-size:18.8px;fill:#2a2a2a" >6</text>
<line x1="455.3" y1="407.1" x2="455.3" y2="404.1" stroke="#888" stroke-width="0.9"/>
<line x1="479.5" y1="407.1" x2="479.5" y2="404.1" stroke="#888" stroke-width="0.9"/>
<text x="479.5" y="431.5" text-anchor="middle" style="font-size:18.8px;fill:#2a2a2a" >8</text>
<line x1="503.7" y1="407.1" x2="503.7" y2="404.1" stroke="#888" stroke-width="0.9"/>
<line x1="527.8" y1="407.1" x2="527.8" y2="404.1" stroke="#888" stroke-width="0.9"/>
<text x="527.8" y="431.5" text-anchor="middle" style="font-size:18.8px;fill:#2a2a2a" >10</text>
<text x="551.5" y="431.5" text-anchor="start" style="font-size:18px;fill:#2a2a2a" >×10<tspan dy="-7" style="font-size:12px">−4</tspan></text>
<line x1="406.9" y1="280.8" x2="406.9" y2="283.8" stroke="#888" stroke-width="0.9"/>
<line x1="447.2" y1="280.8" x2="447.2" y2="283.8" stroke="#888" stroke-width="0.9"/>
<line x1="527.8" y1="280.8" x2="527.8" y2="283.8" stroke="#888" stroke-width="0.9"/>
<line x1="420.3" y1="280.8" x2="420.3" y2="282.8" stroke="#aaa" stroke-width="0.7"/>
<line x1="437.1" y1="280.8" x2="437.1" y2="282.8" stroke="#aaa" stroke-width="0.7"/>
<line x1="458.7" y1="280.8" x2="458.7" y2="282.8" stroke="#aaa" stroke-width="0.7"/>
<line x1="472" y1="280.8" x2="472" y2="282.8" stroke="#aaa" stroke-width="0.7"/>
<line x1="487.5" y1="280.8" x2="487.5" y2="282.8" stroke="#aaa" stroke-width="0.7"/>
<line x1="505.9" y1="280.8" x2="505.9" y2="282.8" stroke="#aaa" stroke-width="0.7"/>
<line x1="413.3" y1="280.8" x2="413.3" y2="282.8" stroke="#aaa" stroke-width="0.7"/>
<line x1="428.2" y1="280.8" x2="428.2" y2="282.8" stroke="#aaa" stroke-width="0.7"/>
<text x="405.3" y="273.5" text-anchor="middle" style="font-size:18.8px;fill:#2a2a2a" >2 000</text>
<text x="450.8" y="273.5" text-anchor="middle" style="font-size:18.8px;fill:#2a2a2a" >1 500</text>
<text x="528.6" y="273.5" text-anchor="middle" style="font-size:18.8px;fill:#2a2a2a" >1 000</text>
<text x="406" y="250.2" text-anchor="start" style="font-size:18.8px;fill:#2a2a2a" textLength="120.5" lengthAdjust="spacingAndGlyphs">Wavelength/nm</text>
<text x="363.6" y="454.6" text-anchor="start" style="font-size:18.8px;fill:#2a2a2a" textLength="196" lengthAdjust="spacingAndGlyphs">Wavelength number/nm<tspan dy="-7" style="font-size:11px">−1</tspan></text>
<line x1="382.7" y1="407.1" x2="385.7" y2="407.1" stroke="#888" stroke-width="0.9"/>
<text x="373.7" y="413.1" text-anchor="end" style="font-size:18.8px;fill:#2a2a2a" >0</text>
<line x1="382.7" y1="397.6" x2="384.7" y2="397.6" stroke="#aaa" stroke-width="0.7"/>
<line x1="382.7" y1="388" x2="385.7" y2="388" stroke="#888" stroke-width="0.9"/>
<text x="373.7" y="394" text-anchor="end" style="font-size:18.8px;fill:#2a2a2a" >10</text>
<line x1="382.7" y1="378.4" x2="384.7" y2="378.4" stroke="#aaa" stroke-width="0.7"/>
<line x1="382.7" y1="368.9" x2="385.7" y2="368.9" stroke="#888" stroke-width="0.9"/>
<text x="373.7" y="374.9" text-anchor="end" style="font-size:18.8px;fill:#2a2a2a" >20</text>
<line x1="382.7" y1="359.4" x2="384.7" y2="359.4" stroke="#aaa" stroke-width="0.7"/>
<line x1="382.7" y1="349.8" x2="385.7" y2="349.8" stroke="#888" stroke-width="0.9"/>
<text x="373.7" y="355.8" text-anchor="end" style="font-size:18.8px;fill:#2a2a2a" >30</text>
<line x1="382.7" y1="340.2" x2="384.7" y2="340.2" stroke="#aaa" stroke-width="0.7"/>
<line x1="382.7" y1="330.7" x2="385.7" y2="330.7" stroke="#888" stroke-width="0.9"/>
<text x="373.7" y="336.7" text-anchor="end" style="font-size:18.8px;fill:#2a2a2a" >40</text>
<line x1="382.7" y1="321.2" x2="384.7" y2="321.2" stroke="#aaa" stroke-width="0.7"/>
<line x1="382.7" y1="311.6" x2="385.7" y2="311.6" stroke="#888" stroke-width="0.9"/>
<text x="373.7" y="317.6" text-anchor="end" style="font-size:18.8px;fill:#2a2a2a" >50</text>
<line x1="382.7" y1="302.1" x2="384.7" y2="302.1" stroke="#aaa" stroke-width="0.7"/>
<line x1="382.7" y1="292.5" x2="385.7" y2="292.5" stroke="#888" stroke-width="0.9"/>
<text x="373.7" y="298.5" text-anchor="end" style="font-size:18.8px;fill:#2a2a2a" >60</text>
<line x1="382.7" y1="282.9" x2="384.7" y2="282.9" stroke="#aaa" stroke-width="0.7"/>
<line x1="553" y1="407.1" x2="550" y2="407.1" stroke="#888" stroke-width="0.9"/>
<line x1="553" y1="394.5" x2="551" y2="394.5" stroke="#aaa" stroke-width="0.7"/>
<text x="558" y="413.1" text-anchor="start" style="font-size:18.8px;fill:#3c3c7c" >−100</text>
<line x1="553" y1="381.8" x2="550" y2="381.8" stroke="#888" stroke-width="0.9"/>
<line x1="553" y1="369.2" x2="551" y2="369.2" stroke="#aaa" stroke-width="0.7"/>
<text x="558" y="387.8" text-anchor="start" style="font-size:18.8px;fill:#3c3c7c" >0</text>
<line x1="553" y1="356.6" x2="550" y2="356.6" stroke="#888" stroke-width="0.9"/>
<line x1="553" y1="344" x2="551" y2="344" stroke="#aaa" stroke-width="0.7"/>
<text x="558" y="362.6" text-anchor="start" style="font-size:18.8px;fill:#3c3c7c" >100</text>
<line x1="553" y1="331.3" x2="550" y2="331.3" stroke="#888" stroke-width="0.9"/>
<line x1="553" y1="318.7" x2="551" y2="318.7" stroke="#aaa" stroke-width="0.7"/>
<text x="558" y="337.3" text-anchor="start" style="font-size:18.8px;fill:#3c3c7c" >200</text>
<line x1="553" y1="306.1" x2="550" y2="306.1" stroke="#888" stroke-width="0.9"/>
<line x1="553" y1="293.4" x2="551" y2="293.4" stroke="#aaa" stroke-width="0.7"/>
<text x="558" y="312.1" text-anchor="start" style="font-size:18.8px;fill:#3c3c7c" >300</text>
<line x1="553" y1="280.8" x2="550" y2="280.8" stroke="#888" stroke-width="0.9"/>
<line x1="553" y1="268.2" x2="551" y2="268.2" stroke="#aaa" stroke-width="0.7"/>
<text x="558" y="286.8" text-anchor="start" style="font-size:18.8px;fill:#3c3c7c" >400</text>
<text x="346" y="348" text-anchor="middle" style="font-size:18.8px;fill:#2a2a2a" textLength="112" lengthAdjust="spacingAndGlyphs" transform="rotate(-90 346 348)">Efficiency/(%)</text>
<text x="610.5" y="332.5" text-anchor="middle" style="font-size:18.8px;fill:#3c3c7c" textLength="68" lengthAdjust="spacingAndGlyphs" transform="rotate(-90 610.5 332.5)">Phase/(°)</text>
<clipPath id="clipR"><rect x="382.7" y="278.8" width="170.3" height="128.3"/></clipPath>
<g clip-path="url(#clipR)">
<path d="M382.7,406.7 C385,406.5 392.8,406.1 396.7,405.2 C400.6,404.4 403,404.3 406.1,401.5 C409.2,398.7 412.6,394.3 415.4,388.4 C418.2,382.5 420.7,373.1 422.9,365.9 C425.1,358.8 426.7,351.1 428.5,345.4 C430.4,339.6 432.6,334.3 434.1,331.3 C435.7,328.4 436.5,327.9 437.9,327.6 C439.3,327.3 440.7,328.1 442.6,329.5 C444.4,330.9 446.5,334.1 449.1,336 C451.8,337.9 455.7,339.8 458.5,340.7 C461.3,341.6 463.5,341.8 465.9,341.6 C468.4,341.5 470.6,341.2 473.4,339.8 C476.2,338.3 480,336 482.8,333.2 C485.6,330.4 487.8,326.8 490.3,322.9 C492.8,319 495.3,313.6 497.8,309.8 C500.3,306.1 503.1,302.6 505.2,300.5 C507.4,298.3 509,297 510.9,296.7 C512.7,296.4 514.6,297 516.5,298.6 C518.3,300.1 520.2,302.3 522.1,306.1 C524,309.8 525.8,316 527.7,321 C529.6,326 531.4,331.3 533.3,336 C535.2,340.7 536.7,344.7 538.9,349.1 C541.1,353.5 544.1,358.5 546.4,362.2 C548.8,365.9 551.1,369.1 553,371.6 C554.8,374.1 556.9,376.2 557.6,377.2" fill="none" stroke="#f0a0a8" stroke-width="3.6" opacity="0.6"/>
<path d="M382.7,406.7 C385,406.5 392.8,406.1 396.7,405.2 C400.6,404.4 403,404.3 406.1,401.5 C409.2,398.7 412.6,394.3 415.4,388.4 C418.2,382.5 420.7,373.1 422.9,365.9 C425.1,358.8 426.7,351.1 428.5,345.4 C430.4,339.6 432.6,334.3 434.1,331.3 C435.7,328.4 436.5,327.9 437.9,327.6 C439.3,327.3 440.7,328.1 442.6,329.5 C444.4,330.9 446.5,334.1 449.1,336 C451.8,337.9 455.7,339.8 458.5,340.7 C461.3,341.6 463.5,341.8 465.9,341.6 C468.4,341.5 470.6,341.2 473.4,339.8 C476.2,338.3 480,336 482.8,333.2 C485.6,330.4 487.8,326.8 490.3,322.9 C492.8,319 495.3,313.6 497.8,309.8 C500.3,306.1 503.1,302.6 505.2,300.5 C507.4,298.3 509,297 510.9,296.7 C512.7,296.4 514.6,297 516.5,298.6 C518.3,300.1 520.2,302.3 522.1,306.1 C524,309.8 525.8,316 527.7,321 C529.6,326 531.4,331.3 533.3,336 C535.2,340.7 536.7,344.7 538.9,349.1 C541.1,353.5 544.1,358.5 546.4,362.2 C548.8,365.9 551.1,369.1 553,371.6 C554.8,374.1 556.9,376.2 557.6,377.2" fill="none" stroke="#cc3040" stroke-width="2.2"/>
<path d="M414.5,407.1 C415.6,406.2 418.7,403.7 421,401.5 C423.4,399.3 425.7,396.5 428.5,394 C431.3,391.5 434.4,388.9 437.9,386.5 C441.3,384.2 445.4,381.9 449.1,380 C452.9,378.1 456.6,376.7 460.3,375.3 C464.1,373.9 467.8,373 471.6,371.6 C475.3,370.2 479,368.6 482.8,366.9 C486.5,365.2 490.3,363 494,361.3 C497.8,359.6 501.5,358.3 505.2,356.6 C509,354.9 512.7,352.7 516.5,351 C520.2,349.3 524,347.9 527.7,346.3 C531.4,344.7 534.7,343.2 538.9,341.6 C543.1,340.1 550.6,337.7 553,336.9" fill="none" stroke="#3a48a0" stroke-width="2.3"/>
</g>
<line x1="439.8" y1="346.3" x2="439.8" y2="337.5" stroke="#111" stroke-width="1.3"/>
<path d="M437.2,338.5 L442.4,338.5 L439.8,333.5 Z" fill="#111"/>
<line x1="512.4" y1="317.3" x2="512.4" y2="307.8" stroke="#111" stroke-width="1.3"/>
<path d="M509.8,308.8 L515,308.8 L512.4,303.8 Z" fill="#111"/>
<ellipse cx="405.1" cy="397.8" rx="2.6" ry="6.5" fill="none" stroke="#c83040" stroke-width="1.4"/>
<path d="M406.1,390.8 L395.1,390.8" stroke="#c83040" stroke-width="1.4" fill="none"/>
<path d="M393.1,390.8 L397.1,388.6 L397.1,393 Z" fill="#c83040"/>
<ellipse cx="526.8" cy="348.5" rx="2.6" ry="6.5" fill="none" stroke="#3a6ab0" stroke-width="1.4"/>
<path d="M525.8,353.5 L536.8,353.5" stroke="#3a6ab0" stroke-width="1.4" fill="none"/>
<path d="M538.8,353.5 L534.8,351.3 L534.8,355.7 Z" fill="#3a6ab0"/>
<rect x="389.2" y="285.6" width="66.8" height="37.4" fill="#111"/>
<path d="M394,308.5 L450.4,308.5 L449.5,320.8 L395,320.8 Z" fill="#e4c21c"/>
<path d="M402.4,289.6 L443.2,289.6 L450.4,308.5 L394,308.5 Z" fill="#c8b8e8"/>
<rect x="394.2" y="308.5" width="56" height="3.6" fill="#d4c8ee"/>
<rect x="411.9" y="291.2" width="20.7" height="13.4" fill="#e8cc24"/>
<text x="629" y="265.7" text-anchor="start" style="font-size:17px;fill:#2a2a2a" textLength="21.3" lengthAdjust="spacingAndGlyphs">(d)</text>
<rect x="706.6" y="258.5" width="121.4" height="170" fill="none" stroke="#8a8a8a" stroke-width="1"/>
<line x1="706.6" y1="258.5" x2="709.6" y2="258.5" stroke="#8a8a8a" stroke-width="0.9"/>
<line x1="828" y1="258.5" x2="825" y2="258.5" stroke="#8a8a8a" stroke-width="0.9"/>
<text x="701.1" y="265" text-anchor="end" style="font-size:18.5px;fill:#2a2a2a" >10</text>
<line x1="706.6" y1="282.8" x2="709.6" y2="282.8" stroke="#8a8a8a" stroke-width="0.9"/>
<line x1="828" y1="282.8" x2="825" y2="282.8" stroke="#8a8a8a" stroke-width="0.9"/>
<text x="701.1" y="289.3" text-anchor="end" style="font-size:18.5px;fill:#2a2a2a" >5</text>
<line x1="706.6" y1="307.1" x2="709.6" y2="307.1" stroke="#8a8a8a" stroke-width="0.9"/>
<line x1="828" y1="307.1" x2="825" y2="307.1" stroke="#8a8a8a" stroke-width="0.9"/>
<text x="701.1" y="313.6" text-anchor="end" style="font-size:18.5px;fill:#2a2a2a" >0</text>
<line x1="706.6" y1="331.4" x2="709.6" y2="331.4" stroke="#8a8a8a" stroke-width="0.9"/>
<line x1="828" y1="331.4" x2="825" y2="331.4" stroke="#8a8a8a" stroke-width="0.9"/>
<text x="701.1" y="337.9" text-anchor="end" style="font-size:18.5px;fill:#2a2a2a" >−5</text>
<line x1="706.6" y1="355.6" x2="709.6" y2="355.6" stroke="#8a8a8a" stroke-width="0.9"/>
<line x1="828" y1="355.6" x2="825" y2="355.6" stroke="#8a8a8a" stroke-width="0.9"/>
<text x="701.1" y="362.1" text-anchor="end" style="font-size:18.5px;fill:#2a2a2a" >−10</text>
<line x1="706.6" y1="379.9" x2="709.6" y2="379.9" stroke="#8a8a8a" stroke-width="0.9"/>
<line x1="828" y1="379.9" x2="825" y2="379.9" stroke="#8a8a8a" stroke-width="0.9"/>
<text x="701.1" y="386.4" text-anchor="end" style="font-size:18.5px;fill:#2a2a2a" >−15</text>
<line x1="706.6" y1="404.2" x2="709.6" y2="404.2" stroke="#8a8a8a" stroke-width="0.9"/>
<line x1="828" y1="404.2" x2="825" y2="404.2" stroke="#8a8a8a" stroke-width="0.9"/>
<text x="701.1" y="410.7" text-anchor="end" style="font-size:18.5px;fill:#2a2a2a" >−20</text>
<line x1="706.6" y1="428.5" x2="709.6" y2="428.5" stroke="#8a8a8a" stroke-width="0.9"/>
<line x1="828" y1="428.5" x2="825" y2="428.5" stroke="#8a8a8a" stroke-width="0.9"/>
<text x="701.1" y="435" text-anchor="end" style="font-size:18.5px;fill:#2a2a2a" >−25</text>
<line x1="706.6" y1="428.5" x2="706.6" y2="425.5" stroke="#8a8a8a" stroke-width="0.9"/>
<text x="706.6" y="449.5" text-anchor="middle" style="font-size:18.5px;fill:#2a2a2a" >−20</text>
<line x1="767.3" y1="428.5" x2="767.3" y2="425.5" stroke="#8a8a8a" stroke-width="0.9"/>
<text x="767.3" y="449.5" text-anchor="middle" style="font-size:18.5px;fill:#2a2a2a" >0</text>
<line x1="828" y1="428.5" x2="828" y2="425.5" stroke="#8a8a8a" stroke-width="0.9"/>
<text x="828" y="449.5" text-anchor="middle" style="font-size:18.5px;fill:#2a2a2a" >20</text>
<text x="764.6" y="472" text-anchor="middle" style="font-size:18.8px;fill:#2a2a2a" textLength="163" lengthAdjust="spacingAndGlyphs">Radial coordinate/μm</text>
<text x="658" y="349.4" text-anchor="middle" style="font-size:18.8px;fill:#2a2a2a" textLength="114" lengthAdjust="spacingAndGlyphs" transform="rotate(-90 658 349.4)">Group delay/fs</text>
<path d="M706.6,309.5 L707.8,309.4 L709,309.3 L710.2,309.2 L711.5,309.1 L712.7,309 L713.9,309 L715.1,308.9 L716.3,308.8 L717.5,308.7 L718.7,308.6 L720,308.5 L721.2,308.5 L722.4,308.4 L723.6,308.3 L724.8,308.3 L726,308.2 L727.2,308.1 L728.5,308.1 L729.7,308 L730.9,307.9 L732.1,307.9 L733.3,307.8 L734.5,307.8 L735.7,307.7 L737,307.7 L738.2,307.6 L739.4,307.6 L740.6,307.5 L741.8,307.5 L743,307.5 L744.2,307.4 L745.4,307.4 L746.7,307.4 L747.9,307.3 L749.1,307.3 L750.3,307.3 L751.5,307.2 L752.7,307.2 L753.9,307.2 L755.2,307.2 L756.4,307.2 L757.6,307.1 L758.8,307.1 L760,307.1 L761.2,307.1 L762.4,307.1 L763.7,307.1 L764.9,307.1 L766.1,307.1 L767.3,307.1 L768.5,307.1 L769.7,307.1 L770.9,307.1 L772.2,307.1 L773.4,307.1 L774.6,307.1 L775.8,307.1 L777,307.1 L778.2,307.2 L779.4,307.2 L780.7,307.2 L781.9,307.2 L783.1,307.2 L784.3,307.3 L785.5,307.3 L786.7,307.3 L787.9,307.4 L789.2,307.4 L790.4,307.4 L791.6,307.5 L792.8,307.5 L794,307.5 L795.2,307.6 L796.4,307.6 L797.6,307.7 L798.9,307.7 L800.1,307.8 L801.3,307.8 L802.5,307.9 L803.7,307.9 L804.9,308 L806.1,308.1 L807.4,308.1 L808.6,308.2 L809.8,308.3 L811,308.3 L812.2,308.4 L813.4,308.5 L814.6,308.5 L815.9,308.6 L817.1,308.7 L818.3,308.8 L819.5,308.9 L820.7,309 L821.9,309 L823.1,309.1 L824.4,309.2 L825.6,309.3 L826.8,309.4 L828,309.5" fill="none" stroke="#d8643e" stroke-width="1.5"/>
<path d="M706.6,358.1 L707.8,356.1 L709,354.1 L710.2,352.1 L711.5,350.2 L712.7,348.4 L713.9,346.6 L715.1,344.8 L716.3,343.1 L717.5,341.4 L718.7,339.7 L720,338.1 L721.2,336.5 L722.4,335 L723.6,333.5 L724.8,332.1 L726,330.7 L727.2,329.3 L728.5,328 L729.7,326.7 L730.9,325.4 L732.1,324.2 L733.3,323.1 L734.5,321.9 L735.7,320.9 L737,319.8 L738.2,318.8 L739.4,317.9 L740.6,316.9 L741.8,316.1 L743,315.2 L744.2,314.4 L745.4,313.7 L746.7,313 L747.9,312.3 L749.1,311.7 L750.3,311.1 L751.5,310.5 L752.7,310 L753.9,309.5 L755.2,309.1 L756.4,308.7 L757.6,308.4 L758.8,308.1 L760,307.8 L761.2,307.6 L762.4,307.4 L763.7,307.3 L764.9,307.2 L766.1,307.1 L767.3,307.1 L768.5,307.1 L769.7,307.2 L770.9,307.3 L772.2,307.4 L773.4,307.6 L774.6,307.8 L775.8,308.1 L777,308.4 L778.2,308.7 L779.4,309.1 L780.7,309.5 L781.9,310 L783.1,310.5 L784.3,311.1 L785.5,311.7 L786.7,312.3 L787.9,313 L789.2,313.7 L790.4,314.4 L791.6,315.2 L792.8,316.1 L794,316.9 L795.2,317.9 L796.4,318.8 L797.6,319.8 L798.9,320.9 L800.1,321.9 L801.3,323.1 L802.5,324.2 L803.7,325.4 L804.9,326.7 L806.1,328 L807.4,329.3 L808.6,330.7 L809.8,332.1 L811,333.5 L812.2,335 L813.4,336.5 L814.6,338.1 L815.9,339.7 L817.1,341.4 L818.3,343.1 L819.5,344.8 L820.7,346.6 L821.9,348.4 L823.1,350.2 L824.4,352.1 L825.6,354.1 L826.8,356.1 L828,358.1" fill="none" stroke="#e8b834" stroke-width="1.5"/>
<path d="M706.6,258.5 L707.8,260.4 L709,262.3 L710.2,264.2 L711.5,266 L712.7,267.7 L713.9,269.5 L715.1,271.1 L716.3,272.8 L717.5,274.4 L718.7,276 L720,277.5 L721.2,279 L722.4,280.5 L723.6,281.9 L724.8,283.3 L726,284.6 L727.2,285.9 L728.5,287.2 L729.7,288.4 L730.9,289.6 L732.1,290.7 L733.3,291.8 L734.5,292.9 L735.7,293.9 L737,294.9 L738.2,295.9 L739.4,296.8 L740.6,297.7 L741.8,298.5 L743,299.3 L744.2,300.1 L745.4,300.8 L746.7,301.5 L747.9,302.1 L749.1,302.7 L750.3,303.3 L751.5,303.8 L752.7,304.3 L753.9,304.7 L755.2,305.1 L756.4,305.5 L757.6,305.8 L758.8,306.1 L760,306.4 L761.2,306.6 L762.4,306.8 L763.7,306.9 L764.9,307 L766.1,307.1 L767.3,307.1 L768.5,307.1 L769.7,307 L770.9,306.9 L772.2,306.8 L773.4,306.6 L774.6,306.4 L775.8,306.1 L777,305.8 L778.2,305.5 L779.4,305.1 L780.7,304.7 L781.9,304.3 L783.1,303.8 L784.3,303.3 L785.5,302.7 L786.7,302.1 L787.9,301.5 L789.2,300.8 L790.4,300.1 L791.6,299.3 L792.8,298.5 L794,297.7 L795.2,296.8 L796.4,295.9 L797.6,294.9 L798.9,293.9 L800.1,292.9 L801.3,291.8 L802.5,290.7 L803.7,289.6 L804.9,288.4 L806.1,287.2 L807.4,285.9 L808.6,284.6 L809.8,283.3 L811,281.9 L812.2,280.5 L813.4,279 L814.6,277.5 L815.9,276 L817.1,274.4 L818.3,272.8 L819.5,271.1 L820.7,269.5 L821.9,267.7 L823.1,266 L824.4,264.2 L825.6,262.3 L826.8,260.4 L828,258.5" fill="none" stroke="#5290bc" stroke-width="1.5"/>
<path d="M706.6,410.5 L707.8,406.4 L709,402.4 L710.2,398.5 L711.5,394.6 L712.7,390.9 L713.9,387.2 L715.1,383.6 L716.3,380.1 L717.5,376.6 L718.7,373.3 L720,370 L721.2,366.8 L722.4,363.7 L723.6,360.7 L724.8,357.8 L726,354.9 L727.2,352.1 L728.5,349.4 L729.7,346.8 L730.9,344.3 L732.1,341.9 L733.3,339.5 L734.5,337.2 L735.7,335 L737,332.9 L738.2,330.9 L739.4,329 L740.6,327.1 L741.8,325.3 L743,323.6 L744.2,322 L745.4,320.5 L746.7,319 L747.9,317.7 L749.1,316.4 L750.3,315.2 L751.5,314.1 L752.7,313 L753.9,312.1 L755.2,311.2 L756.4,310.4 L757.6,309.7 L758.8,309.1 L760,308.6 L761.2,308.1 L762.4,307.7 L763.7,307.4 L764.9,307.2 L766.1,307.1 L767.3,307.1 L768.5,307.1 L769.7,307.2 L770.9,307.4 L772.2,307.7 L773.4,308.1 L774.6,308.6 L775.8,309.1 L777,309.7 L778.2,310.4 L779.4,311.2 L780.7,312.1 L781.9,313 L783.1,314.1 L784.3,315.2 L785.5,316.4 L786.7,317.7 L787.9,319 L789.2,320.5 L790.4,322 L791.6,323.6 L792.8,325.3 L794,327.1 L795.2,329 L796.4,330.9 L797.6,332.9 L798.9,335 L800.1,337.2 L801.3,339.5 L802.5,341.9 L803.7,344.3 L804.9,346.8 L806.1,349.4 L807.4,352.1 L808.6,354.9 L809.8,357.8 L811,360.7 L812.2,363.7 L813.4,366.8 L814.6,370 L815.9,373.3 L817.1,376.6 L818.3,380.1 L819.5,383.6 L820.7,387.2 L821.9,390.9 L823.1,394.6 L824.4,398.5 L825.6,402.4 L826.8,406.4 L828,410.5" fill="none" stroke="#70409a" stroke-width="1.5"/>
<line x1="725.6" y1="379.1" x2="743.6" y2="379.1" stroke="#5290bc" stroke-width="1.5"/>
<text x="744.6" y="382.9" text-anchor="start" style="font-size:11px;fill:#555" ><tspan style="font-style:italic">n</tspan>=2</text>
<line x1="725.6" y1="391.5" x2="743.6" y2="391.5" stroke="#d8643e" stroke-width="1.5"/>
<text x="744.6" y="395.3" text-anchor="start" style="font-size:11px;fill:#555" ><tspan style="font-style:italic">n</tspan>=1 (diffractive)</text>
<line x1="725.6" y1="403.3" x2="743.6" y2="403.3" stroke="#e8b834" stroke-width="1.5"/>
<text x="744.6" y="407.1" text-anchor="start" style="font-size:11px;fill:#555" ><tspan style="font-style:italic">n</tspan>=0 (achromatic)</text>
<line x1="725.6" y1="414.3" x2="743.6" y2="414.3" stroke="#70409a" stroke-width="1.5"/>
<text x="744.6" y="418.1" text-anchor="start" style="font-size:11px;fill:#555" ><tspan style="font-style:italic">n</tspan>=−1</text>
<rect x="901.2" y="258.2" width="120.8" height="169.7" fill="none" stroke="#8a8a8a" stroke-width="1"/>
<line x1="901.2" y1="259.2" x2="904.2" y2="259.2" stroke="#8a8a8a" stroke-width="0.9"/>
<line x1="1022" y1="259.2" x2="1019" y2="259.2" stroke="#8a8a8a" stroke-width="0.9"/>
<text x="895.7" y="265.7" text-anchor="end" style="font-size:18.5px;fill:#2a2a2a" >1</text>
<line x1="901.2" y1="283.3" x2="904.2" y2="283.3" stroke="#8a8a8a" stroke-width="0.9"/>
<line x1="1022" y1="283.3" x2="1019" y2="283.3" stroke="#8a8a8a" stroke-width="0.9"/>
<text x="895.7" y="289.8" text-anchor="end" style="font-size:18.5px;fill:#2a2a2a" >0</text>
<line x1="901.2" y1="307.4" x2="904.2" y2="307.4" stroke="#8a8a8a" stroke-width="0.9"/>
<line x1="1022" y1="307.4" x2="1019" y2="307.4" stroke="#8a8a8a" stroke-width="0.9"/>
<text x="895.7" y="313.9" text-anchor="end" style="font-size:18.5px;fill:#2a2a2a" >−1</text>
<line x1="901.2" y1="331.5" x2="904.2" y2="331.5" stroke="#8a8a8a" stroke-width="0.9"/>
<line x1="1022" y1="331.5" x2="1019" y2="331.5" stroke="#8a8a8a" stroke-width="0.9"/>
<text x="895.7" y="338" text-anchor="end" style="font-size:18.5px;fill:#2a2a2a" >−2</text>
<line x1="901.2" y1="355.6" x2="904.2" y2="355.6" stroke="#8a8a8a" stroke-width="0.9"/>
<line x1="1022" y1="355.6" x2="1019" y2="355.6" stroke="#8a8a8a" stroke-width="0.9"/>
<text x="895.7" y="362.1" text-anchor="end" style="font-size:18.5px;fill:#2a2a2a" >−3</text>
<line x1="901.2" y1="379.7" x2="904.2" y2="379.7" stroke="#8a8a8a" stroke-width="0.9"/>
<line x1="1022" y1="379.7" x2="1019" y2="379.7" stroke="#8a8a8a" stroke-width="0.9"/>
<text x="895.7" y="386.2" text-anchor="end" style="font-size:18.5px;fill:#2a2a2a" >−4</text>
<line x1="901.2" y1="403.8" x2="904.2" y2="403.8" stroke="#8a8a8a" stroke-width="0.9"/>
<line x1="1022" y1="403.8" x2="1019" y2="403.8" stroke="#8a8a8a" stroke-width="0.9"/>
<text x="895.7" y="410.3" text-anchor="end" style="font-size:18.5px;fill:#2a2a2a" >−5</text>
<line x1="901.2" y1="427.9" x2="904.2" y2="427.9" stroke="#8a8a8a" stroke-width="0.9"/>
<line x1="1022" y1="427.9" x2="1019" y2="427.9" stroke="#8a8a8a" stroke-width="0.9"/>
<text x="895.7" y="434.4" text-anchor="end" style="font-size:18.5px;fill:#2a2a2a" >−6</text>
<line x1="901.2" y1="427.9" x2="901.2" y2="424.9" stroke="#8a8a8a" stroke-width="0.9"/>
<text x="901.2" y="449.5" text-anchor="middle" style="font-size:18.5px;fill:#2a2a2a" >−20</text>
<line x1="961.6" y1="427.9" x2="961.6" y2="424.9" stroke="#8a8a8a" stroke-width="0.9"/>
<text x="961.6" y="449.5" text-anchor="middle" style="font-size:18.5px;fill:#2a2a2a" >0</text>
<line x1="1022" y1="427.9" x2="1022" y2="424.9" stroke="#8a8a8a" stroke-width="0.9"/>
<text x="1022" y="449.5" text-anchor="middle" style="font-size:18.5px;fill:#2a2a2a" >20</text>
<text x="958.9" y="472" text-anchor="middle" style="font-size:18.8px;fill:#2a2a2a" textLength="163" lengthAdjust="spacingAndGlyphs">Radial coordinate/μm</text>
<text x="860" y="344" text-anchor="middle" style="font-size:18.8px;fill:#2a2a2a" textLength="203" lengthAdjust="spacingAndGlyphs" transform="rotate(-90 860 344)">Group delay dispersion/fs<tspan dy="-7" style="font-size:12px">2</tspan></text>
<path d="M901.2,283.3 L902.4,283.3 L903.6,283.3 L904.8,283.3 L906,283.3 L907.2,283.3 L908.4,283.3 L909.7,283.3 L910.9,283.3 L912.1,283.3 L913.3,283.3 L914.5,283.3 L915.7,283.3 L916.9,283.3 L918.1,283.3 L919.3,283.3 L920.5,283.3 L921.7,283.3 L922.9,283.3 L924.2,283.3 L925.4,283.3 L926.6,283.3 L927.8,283.3 L929,283.3 L930.2,283.3 L931.4,283.3 L932.6,283.3 L933.8,283.3 L935,283.3 L936.2,283.3 L937.4,283.3 L938.6,283.3 L939.9,283.3 L941.1,283.3 L942.3,283.3 L943.5,283.3 L944.7,283.3 L945.9,283.3 L947.1,283.3 L948.3,283.3 L949.5,283.3 L950.7,283.3 L951.9,283.3 L953.1,283.3 L954.4,283.3 L955.6,283.3 L956.8,283.3 L958,283.3 L959.2,283.3 L960.4,283.3 L961.6,283.3 L962.8,283.3 L964,283.3 L965.2,283.3 L966.4,283.3 L967.6,283.3 L968.8,283.3 L970.1,283.3 L971.3,283.3 L972.5,283.3 L973.7,283.3 L974.9,283.3 L976.1,283.3 L977.3,283.3 L978.5,283.3 L979.7,283.3 L980.9,283.3 L982.1,283.3 L983.3,283.3 L984.6,283.3 L985.8,283.3 L987,283.3 L988.2,283.3 L989.4,283.3 L990.6,283.3 L991.8,283.3 L993,283.3 L994.2,283.3 L995.4,283.3 L996.6,283.3 L997.8,283.3 L999,283.3 L1000.3,283.3 L1001.5,283.3 L1002.7,283.3 L1003.9,283.3 L1005.1,283.3 L1006.3,283.3 L1007.5,283.3 L1008.7,283.3 L1009.9,283.3 L1011.1,283.3 L1012.3,283.3 L1013.5,283.3 L1014.8,283.3 L1016,283.3 L1017.2,283.3 L1018.4,283.3 L1019.6,283.3 L1020.8,283.3 L1022,283.3" fill="none" stroke="#e8b834" stroke-width="1.5"/>
<path d="M901.2,272.4 L902.4,273.3 L903.6,274.1 L904.8,274.8 L906,275.5 L907.2,276.2 L908.4,276.8 L909.7,277.3 L910.9,277.9 L912.1,278.4 L913.3,278.8 L914.5,279.3 L915.7,279.7 L916.9,280 L918.1,280.4 L919.3,280.7 L920.5,281 L921.7,281.2 L922.9,281.4 L924.2,281.7 L925.4,281.9 L926.6,282 L927.8,282.2 L929,282.3 L930.2,282.5 L931.4,282.6 L932.6,282.7 L933.8,282.8 L935,282.9 L936.2,282.9 L937.4,283 L938.6,283 L939.9,283.1 L941.1,283.1 L942.3,283.2 L943.5,283.2 L944.7,283.2 L945.9,283.2 L947.1,283.2 L948.3,283.2 L949.5,283.3 L950.7,283.3 L951.9,283.3 L953.1,283.3 L954.4,283.3 L955.6,283.3 L956.8,283.3 L958,283.3 L959.2,283.3 L960.4,283.3 L961.6,283.3 L962.8,283.3 L964,283.3 L965.2,283.3 L966.4,283.3 L967.6,283.3 L968.8,283.3 L970.1,283.3 L971.3,283.3 L972.5,283.3 L973.7,283.3 L974.9,283.2 L976.1,283.2 L977.3,283.2 L978.5,283.2 L979.7,283.2 L980.9,283.2 L982.1,283.1 L983.3,283.1 L984.6,283 L985.8,283 L987,282.9 L988.2,282.9 L989.4,282.8 L990.6,282.7 L991.8,282.6 L993,282.5 L994.2,282.3 L995.4,282.2 L996.6,282 L997.8,281.9 L999,281.7 L1000.3,281.4 L1001.5,281.2 L1002.7,281 L1003.9,280.7 L1005.1,280.4 L1006.3,280 L1007.5,279.7 L1008.7,279.3 L1009.9,278.8 L1011.1,278.4 L1012.3,277.9 L1013.5,277.3 L1014.8,276.8 L1016,276.2 L1017.2,275.5 L1018.4,274.8 L1019.6,274.1 L1020.8,273.3 L1022,272.4" fill="none" stroke="#d8643e" stroke-width="1.5"/>
<path d="M901.2,382.1 L902.4,379.4 L903.6,376.6 L904.8,373.8 L906,371 L907.2,368.1 L908.4,365.3 L909.7,362.4 L910.9,359.5 L912.1,356.6 L913.3,353.7 L914.5,350.9 L915.7,348 L916.9,345.2 L918.1,342.3 L919.3,339.5 L920.5,336.8 L921.7,334 L922.9,331.3 L924.2,328.7 L925.4,326.1 L926.6,323.5 L927.8,321 L929,318.6 L930.2,316.2 L931.4,313.9 L932.6,311.6 L933.8,309.4 L935,307.3 L936.2,305.3 L937.4,303.3 L938.6,301.4 L939.9,299.6 L941.1,297.9 L942.3,296.3 L943.5,294.7 L944.7,293.3 L945.9,291.9 L947.1,290.7 L948.3,289.5 L949.5,288.4 L950.7,287.5 L951.9,286.6 L953.1,285.8 L954.4,285.1 L955.6,284.6 L956.8,284.1 L958,283.7 L959.2,283.5 L960.4,283.3 L961.6,283.3 L962.8,283.3 L964,283.5 L965.2,283.7 L966.4,284.1 L967.6,284.6 L968.8,285.1 L970.1,285.8 L971.3,286.6 L972.5,287.5 L973.7,288.4 L974.9,289.5 L976.1,290.7 L977.3,291.9 L978.5,293.3 L979.7,294.7 L980.9,296.3 L982.1,297.9 L983.3,299.6 L984.6,301.4 L985.8,303.3 L987,305.3 L988.2,307.3 L989.4,309.4 L990.6,311.6 L991.8,313.9 L993,316.2 L994.2,318.6 L995.4,321 L996.6,323.5 L997.8,326.1 L999,328.7 L1000.3,331.3 L1001.5,334 L1002.7,336.8 L1003.9,339.5 L1005.1,342.3 L1006.3,345.2 L1007.5,348 L1008.7,350.9 L1009.9,353.7 L1011.1,356.6 L1012.3,359.5 L1013.5,362.4 L1014.8,365.3 L1016,368.1 L1017.2,371 L1018.4,373.8 L1019.6,376.6 L1020.8,379.4 L1022,382.1" fill="none" stroke="#5290bc" stroke-width="1.5"/>
<path d="M901.2,414.6 L902.4,409.4 L903.6,404.3 L904.8,399.4 L906,394.5 L907.2,389.7 L908.4,385 L909.7,380.4 L910.9,376 L912.1,371.6 L913.3,367.3 L914.5,363.2 L915.7,359.2 L916.9,355.2 L918.1,351.4 L919.3,347.6 L920.5,344 L921.7,340.5 L922.9,337.1 L924.2,333.8 L925.4,330.6 L926.6,327.5 L927.8,324.5 L929,321.6 L930.2,318.8 L931.4,316.1 L932.6,313.5 L933.8,311.1 L935,308.7 L936.2,306.4 L937.4,304.3 L938.6,302.2 L939.9,300.3 L941.1,298.5 L942.3,296.7 L943.5,295.1 L944.7,293.6 L945.9,292.2 L947.1,290.8 L948.3,289.6 L949.5,288.5 L950.7,287.5 L951.9,286.6 L953.1,285.8 L954.4,285.2 L955.6,284.6 L956.8,284.1 L958,283.7 L959.2,283.5 L960.4,283.3 L961.6,283.3 L962.8,283.3 L964,283.5 L965.2,283.7 L966.4,284.1 L967.6,284.6 L968.8,285.2 L970.1,285.8 L971.3,286.6 L972.5,287.5 L973.7,288.5 L974.9,289.6 L976.1,290.8 L977.3,292.2 L978.5,293.6 L979.7,295.1 L980.9,296.7 L982.1,298.5 L983.3,300.3 L984.6,302.2 L985.8,304.3 L987,306.4 L988.2,308.7 L989.4,311.1 L990.6,313.5 L991.8,316.1 L993,318.8 L994.2,321.6 L995.4,324.5 L996.6,327.5 L997.8,330.6 L999,333.8 L1000.3,337.1 L1001.5,340.5 L1002.7,344 L1003.9,347.6 L1005.1,351.4 L1006.3,355.2 L1007.5,359.2 L1008.7,363.2 L1009.9,367.3 L1011.1,371.6 L1012.3,376 L1013.5,380.4 L1014.8,385 L1016,389.7 L1017.2,394.5 L1018.4,399.4 L1019.6,404.3 L1020.8,409.4 L1022,414.6" fill="none" stroke="#70409a" stroke-width="1.5"/>
<line x1="918.8" y1="377.4" x2="936.8" y2="377.4" stroke="#5290bc" stroke-width="1.5"/>
<text x="937.8" y="381.2" text-anchor="start" style="font-size:11px;fill:#555" ><tspan style="font-style:italic">n</tspan>=2</text>
<line x1="918.8" y1="388.5" x2="936.8" y2="388.5" stroke="#d8643e" stroke-width="1.5"/>
<text x="937.8" y="392.3" text-anchor="start" style="font-size:11px;fill:#555" ><tspan style="font-style:italic">n</tspan>=1 (diffractive)</text>
<line x1="918.8" y1="401" x2="936.8" y2="401" stroke="#e8b834" stroke-width="1.5"/>
<text x="937.8" y="404.8" text-anchor="start" style="font-size:11px;fill:#555" ><tspan style="font-style:italic">n</tspan>=0 (achromatic)</text>
<line x1="918.8" y1="412.6" x2="936.8" y2="412.6" stroke="#70409a" stroke-width="1.5"/>
<text x="937.8" y="416.4" text-anchor="start" style="font-size:11px;fill:#555" ><tspan style="font-style:italic">n</tspan>=−1</text>
<text x="14" y="500.1" text-anchor="start" style="font-size:17px;fill:#2a2a2a" textLength="21" lengthAdjust="spacingAndGlyphs">(e)</text>
<rect x="120" y="551.2" width="24.4" height="107" fill="none" stroke="#555" stroke-width="1"/>
<rect x="115" y="553" width="5" height="3.2" fill="#3a58a8"/>
<rect x="115" y="557.5" width="5" height="2.2" fill="#6a88c8"/>
<rect x="115" y="561" width="5" height="3.2" fill="#3a58a8"/>
<rect x="115" y="565.5" width="5" height="3.2" fill="#6a88c8"/>
<rect x="115" y="570" width="5" height="2.2" fill="#3a58a8"/>
<rect x="115" y="573.5" width="5" height="3.2" fill="#6a88c8"/>
<rect x="115" y="578" width="5" height="3.2" fill="#3a58a8"/>
<rect x="115" y="582.5" width="5" height="2.2" fill="#6a88c8"/>
<rect x="115" y="586" width="5" height="3.2" fill="#3a58a8"/>
<rect x="115" y="590.5" width="5" height="3.2" fill="#6a88c8"/>
<rect x="115" y="595" width="5" height="2.2" fill="#3a58a8"/>
<rect x="115" y="598.5" width="5" height="3.2" fill="#6a88c8"/>
<rect x="115" y="603" width="5" height="3.2" fill="#3a58a8"/>
<rect x="115" y="607.5" width="5" height="2.2" fill="#6a88c8"/>
<rect x="115" y="611" width="5" height="3.2" fill="#3a58a8"/>
<rect x="115" y="615.5" width="5" height="3.2" fill="#6a88c8"/>
<rect x="115" y="620" width="5" height="2.2" fill="#3a58a8"/>
<rect x="115" y="623.5" width="5" height="3.2" fill="#6a88c8"/>
<rect x="115" y="628" width="5" height="3.2" fill="#3a58a8"/>
<rect x="115" y="632.5" width="5" height="2.2" fill="#6a88c8"/>
<rect x="115" y="636" width="5" height="3.2" fill="#3a58a8"/>
<rect x="115" y="640.5" width="5" height="3.2" fill="#6a88c8"/>
<rect x="115" y="645" width="5" height="2.2" fill="#3a58a8"/>
<rect x="115" y="648.5" width="5" height="3.2" fill="#6a88c8"/>
<path d="M265.2,532.5 L237.3,532.5 A99.5,99.5 0 0 0 238.7,677.8 L265.2,677.8 Z" fill="none" stroke="#555" stroke-width="1"/>
<line x1="71" y1="605.7" x2="407.7" y2="605.7" stroke="#6a72b8" stroke-width="1.3"/>
<path d="M71,559.5 L117,559.5 L144,561.5 L206,571 L265,582 L407.7,605.2" fill="none" stroke="#e05060" stroke-width="1.3"/>
<path d="M268.7,605.5 L269.2,605.4 L269.8,605.2 L270.3,605 L270.9,604.7 L271.4,604.3 L271.9,603.7 L272.5,603 L273,602.1 L273.6,601.1 L274.1,599.9 L274.6,598.5 L275.2,596.9 L275.7,595.3 L276.3,593.7 L276.8,592.1 L277.3,590.7 L277.9,589.4 L278.4,588.5 L279,587.9 L279.5,587.7 L280,587.9 L280.6,588.5 L281.1,589.4 L281.7,590.7 L282.2,592.1 L282.7,593.7 L283.3,595.3 L283.8,596.9 L284.4,598.5 L284.9,599.9 L285.4,601.1 L286,602.1 L286.5,603 L287.1,603.7 L287.6,604.3 L288.1,604.7 L288.7,605 L289.2,605.2 L289.8,605.4 L290.3,605.5" fill="none" stroke="#6a9ab0" stroke-width="1"/>
<path d="M288.2,583.6 L288.7,583.6 L289.3,583.5 L289.8,583.4 L290.4,583.2 L290.9,582.9 L291.4,582.5 L292,582 L292.5,581.3 L293.1,580.4 L293.6,579.4 L294.1,578.3 L294.7,577 L295.2,575.7 L295.8,574.3 L296.3,573 L296.8,571.8 L297.4,570.8 L297.9,570 L298.5,569.6 L299,569.5 L299.5,569.8 L300.1,570.4 L300.6,571.3 L301.2,572.5 L301.7,573.9 L302.2,575.4 L302.8,576.9 L303.3,578.4 L303.9,579.9 L304.4,581.2 L304.9,582.4 L305.5,583.4 L306,584.2 L306.6,585 L307.1,585.5 L307.6,586 L308.2,586.4 L308.7,586.6 L309.3,586.9 L309.8,587.1" fill="none" stroke="#e06070" stroke-width="1"/>
<path d="M142,601.5 Q142.5,605 145.5,605" fill="none" stroke="#666" stroke-width="0.9"/>
<path d="M205.5,601.5 Q206,605.5 208.5,605.5" fill="none" stroke="#666" stroke-width="0.9"/>
<path d="M266,610 Q266.5,607.5 270,607.5" fill="none" stroke="#666" stroke-width="0.9"/>
<path d="M403,613 Q403.5,610.5 407.5,610.5" fill="none" stroke="#666" stroke-width="0.9"/>
<line x1="104.5" y1="553.5" x2="114.5" y2="558.3" stroke="#222" stroke-width="1.1"/>
<path d="M114.5,558.3 L111,558.3 L112.3,555.6 Z" fill="#222"/>
<line x1="103.4" y1="597.3" x2="114" y2="603.2" stroke="#222" stroke-width="1.1"/>
<path d="M114,603.2 L110.5,603 L112,600.3 Z" fill="#222"/>
<line x1="120.5" y1="546.5" x2="117.3" y2="553.3" stroke="#222" stroke-width="1.1"/>
<path d="M117.3,553.3 L117.3,549.8 L120,551.1 Z" fill="#222"/>
<text x="79.6" y="537.3" text-anchor="start" style="font-size:18.8px;fill:#2a2a2a" >Metacorrector</text>
<text x="43.5" y="555.5" text-anchor="start" style="font-size:18.8px;fill:#2a2a2a" ><tspan style="font-style:italic">φ</tspan> (<tspan style="font-style:italic">r</tspan>, <tspan style="font-style:italic">ω</tspan>)</text>
<text x="38.5" y="600.5" text-anchor="start" style="font-size:18.8px;fill:#2a2a2a" ><tspan style="font-style:italic">φ</tspan> (0, <tspan style="font-style:italic">ω</tspan>)</text>
<text x="123" y="580.5" text-anchor="start" style="font-size:18.8px;fill:#2a2a2a" ><tspan style="font-style:italic">L</tspan><tspan dy="3" style="font-size:11px">1</tspan></text>
<text x="123" y="625.5" text-anchor="start" style="font-size:18.8px;fill:#2a2a2a" ><tspan style="font-style:italic">T</tspan><tspan dy="3" style="font-size:11px">S</tspan></text>
<text x="168" y="597" text-anchor="start" style="font-size:18.8px;fill:#2a2a2a" ><tspan style="font-style:italic">g</tspan></text>
<text x="170" y="562" text-anchor="start" style="font-size:18.8px;fill:#2a2a2a" ><tspan style="font-style:italic">L</tspan><tspan dy="3" style="font-size:11px">2</tspan></text>
<text x="233" y="571.5" text-anchor="start" style="font-size:18.8px;fill:#2a2a2a" ><tspan style="font-style:italic">L</tspan><tspan dy="3" style="font-size:11px">3</tspan></text>
<text x="233" y="624.5" text-anchor="start" style="font-size:18.8px;fill:#2a2a2a" ><tspan style="font-style:italic">T</tspan></text>
<text x="340" y="591.5" text-anchor="start" style="font-size:18.8px;fill:#2a2a2a" ><tspan style="font-style:italic">L</tspan><tspan dy="3" style="font-size:11px">4</tspan></text>
<text x="328" y="624.5" text-anchor="start" style="font-size:18.8px;fill:#2a2a2a" ><tspan style="font-style:italic">f</tspan></text>
<path d="M342.7,506.8 L398,506.8 L399.8,549.6 L333.2,549.6 Z" fill="#d6dadd" />
<path d="M333.2,549.6 L399.8,549.6 L398,558.4 L335,558.4 Z" fill="#c4c8cc" />
<line x1="333.5" y1="549.6" x2="399.5" y2="549.6" stroke="#333" stroke-width="0.8"/>
<path d="M367,524.5 L393,510.6 L399.8,513.8 L374,527.5 Z" fill="#5a78d6" />
<path d="M374,527.5 L399.8,513.8 L398.5,533.5 L374.5,547 Z" fill="#4662c0" />
<path d="M367,524.5 L374,527.5 L374.5,547 L368,543 Z" fill="#3e58b0" />
<path d="M333.2,519.4 L379.7,491.1 L395.4,498 L348.9,527 Z" fill="#5c7ada" />
<path d="M348.9,527 L395.4,498 L395,515 L350.2,546.4 Z" fill="#4a66c6" />
<path d="M333.2,519.4 L348.9,527 L350.2,546.4 L337,537 Z" fill="#5470d0" />
<circle cx="333.2" cy="519.4" r="0.9" fill="#222"/>
<circle cx="395.4" cy="498" r="0.9" fill="#222"/>
<circle cx="350.2" cy="546.4" r="0.9" fill="#222"/>
<circle cx="348.9" cy="527" r="0.9" fill="#222"/>
<circle cx="399.8" cy="513.8" r="0.9" fill="#222"/>
<text x="366.5" y="511" text-anchor="start" style="font-size:9px;fill:#e8ecff" ><tspan style="font-style:italic">l</tspan><tspan dy="2" style="font-size:6px">1</tspan></text>
<text x="339.5" y="526.5" text-anchor="start" style="font-size:9px;fill:#e8ecff" ><tspan style="font-style:italic">w</tspan><tspan dy="2" style="font-size:6px">1</tspan></text>
<text x="359.5" y="532" text-anchor="start" style="font-size:10px;fill:#e8ecff" ><tspan style="font-style:italic">g</tspan></text>
<text x="349.5" y="542" text-anchor="start" style="font-size:10px;fill:#e8ecff" ><tspan style="font-style:italic">h</tspan></text>
<text x="385.5" y="533" text-anchor="start" style="font-size:9px;fill:#e8ecff" ><tspan style="font-style:italic">l</tspan><tspan dy="2" style="font-size:6px">2</tspan></text>
<text x="396" y="510.5" text-anchor="start" style="font-size:9px;fill:#333" ><tspan style="font-style:italic">w</tspan><tspan dy="2" style="font-size:6px">2</tspan></text>
<text x="364" y="558.5" text-anchor="start" style="font-size:11px;fill:#333" ><tspan style="font-style:italic">p</tspan></text>
<text x="319" y="552" text-anchor="start" style="font-size:17px;fill:#2a2a2a" ><tspan style="font-style:italic">ŷ</tspan></text>
<path d="M321.6,558.4 L321.6,567 L330,567" fill="none" stroke="#222" stroke-width="1"/>
<circle cx="330.5" cy="567" r="1.1" fill="#222"/>
<text x="333" y="574.5" text-anchor="start" style="font-size:17px;fill:#2a2a2a" ><tspan style="font-style:italic">x̂</tspan></text>
<text x="524.5" y="501.7" text-anchor="start" style="font-size:17px;fill:#2a2a2a" textLength="18" lengthAdjust="spacingAndGlyphs">(f)</text>
<path d="M500.4,526 L500.4,560.7 L534,560.7" fill="none" stroke="#333" stroke-width="1"/>
<path d="M500.4,560.7 L527.5,547" fill="none" stroke="#333" stroke-width="1"/>
<path d="M536.5,560.7 L531.5,558.6 L531.5,562.8 Z" fill="#333"/>
<path d="M530,545.7 L524.6,546.2 L526.5,550 Z" fill="#333"/>
<circle cx="500.4" cy="526" r="1" fill="#333"/>
<text x="492.5" y="522.5" text-anchor="start" style="font-size:18.8px;fill:#2a2a2a" ><tspan style="font-style:italic">Z</tspan></text>
<text x="529" y="549.5" text-anchor="start" style="font-size:18.8px;fill:#2a2a2a" ><tspan style="font-style:italic">Y</tspan></text>
<text x="536" y="569.5" text-anchor="start" style="font-size:18.8px;fill:#2a2a2a" ><tspan style="font-style:italic">X</tspan></text>
<text x="562" y="527.5" text-anchor="start" style="font-size:18.8px;fill:#2a2a2a" ><tspan style="font-style:italic">Ê</tspan> (<tspan style="font-style:italic">ω</tspan>)</text>
<line x1="584.8" y1="535.4" x2="510.8" y2="645.5" stroke="#cc6a7a" stroke-width="0.8"/>
<line x1="584.8" y1="535.4" x2="515" y2="645.5" stroke="#6aa88e" stroke-width="0.8"/>
<line x1="584.8" y1="535.4" x2="519.2" y2="645.5" stroke="#6a8cba" stroke-width="0.8"/>
<line x1="584.8" y1="535.4" x2="535.8" y2="645.5" stroke="#cc6a7a" stroke-width="0.8"/>
<line x1="584.8" y1="535.4" x2="540" y2="645.5" stroke="#6aa88e" stroke-width="0.8"/>
<line x1="584.8" y1="535.4" x2="544.2" y2="645.5" stroke="#6a8cba" stroke-width="0.8"/>
<line x1="584.8" y1="535.4" x2="563.3" y2="645.5" stroke="#cc6a7a" stroke-width="0.8"/>
<line x1="584.8" y1="535.4" x2="567.5" y2="645.5" stroke="#6aa88e" stroke-width="0.8"/>
<line x1="584.8" y1="535.4" x2="571.7" y2="645.5" stroke="#6a8cba" stroke-width="0.8"/>
<line x1="584.8" y1="535.4" x2="597.5" y2="645.5" stroke="#cc6a7a" stroke-width="0.8"/>
<line x1="584.8" y1="535.4" x2="601.7" y2="645.5" stroke="#6aa88e" stroke-width="0.8"/>
<line x1="584.8" y1="535.4" x2="605.5" y2="645.5" stroke="#6a8cba" stroke-width="0.8"/>
<line x1="584.8" y1="535.4" x2="625.8" y2="645.5" stroke="#cc6a7a" stroke-width="0.8"/>
<line x1="584.8" y1="535.4" x2="629.2" y2="645.5" stroke="#6aa88e" stroke-width="0.8"/>
<line x1="584.8" y1="535.4" x2="632.5" y2="645.5" stroke="#6a8cba" stroke-width="0.8"/>
<line x1="584.8" y1="535.4" x2="645.8" y2="645.5" stroke="#cc6a7a" stroke-width="0.8"/>
<line x1="584.8" y1="535.4" x2="650" y2="645.5" stroke="#6aa88e" stroke-width="0.8"/>
<line x1="584.8" y1="535.4" x2="654.2" y2="645.5" stroke="#6a8cba" stroke-width="0.8"/>
<line x1="584.8" y1="536" x2="584.8" y2="646" stroke="#333" stroke-width="1.2" stroke-dasharray="3,2.2"/>
<rect x="509" y="648" width="2.6" height="11.5" fill="#ddd"/>
<rect x="518.4" y="648" width="2.6" height="11.5" fill="#333"/>
<rect x="527.9" y="648" width="2.6" height="11.5" fill="#ddd"/>
<rect x="537" y="648" width="2.6" height="11.5" fill="#888"/>
<rect x="546.2" y="648" width="2.6" height="11.5" fill="#333"/>
<rect x="555.4" y="648" width="2.6" height="11.5" fill="#ddd"/>
<rect x="565" y="648" width="2.6" height="11.5" fill="#aaa"/>
<rect x="574.2" y="648" width="2.6" height="11.5" fill="#777"/>
<rect x="583.4" y="648" width="2.6" height="11.5" fill="#333"/>
<rect x="592.5" y="648" width="2.6" height="11.5" fill="#888"/>
<rect x="601.7" y="648" width="2.6" height="11.5" fill="#aaa"/>
<rect x="610.9" y="648" width="2.6" height="11.5" fill="#ddd"/>
<rect x="620.4" y="648" width="2.6" height="11.5" fill="#333"/>
<rect x="629.2" y="648" width="2.6" height="11.5" fill="#888"/>
<rect x="638.7" y="648" width="2.6" height="11.5" fill="#ddd"/>
<rect x="647.9" y="648" width="2.6" height="11.5" fill="#333"/>
<rect x="657" y="648" width="2.6" height="11.5" fill="#ddd"/>
<rect x="500.8" y="660.3" width="170" height="8" fill="#8ebfe3"/>
<text x="499.5" y="591.5" text-anchor="start" style="font-size:18.8px;fill:#b84058" ><tspan style="font-style:italic">F</tspan> (<tspan style="font-style:italic">ω</tspan>)</text>
<path d="M552,588 C562,590 566,594 570,600 C573,604 575,606 578.2,606.9" fill="none" stroke="#b84058" stroke-width="1.1"/>
<circle cx="578.2" cy="606.9" r="1.3" fill="#b84058"/>
<text x="599.5" y="631.5" text-anchor="start" style="font-size:18.8px;fill:#2a2a2a" >#1</text>
<text x="652.5" y="631.5" text-anchor="start" style="font-size:18.8px;fill:#2a2a2a" >#<tspan style="font-style:italic">N</tspan></text>
<text x="627.5" y="630" text-anchor="start" style="font-size:10px;fill:#666" >...</text>
<path d="M615,637.5 C613,641 610.5,641 607.5,644.7" fill="none" stroke="#222" stroke-width="1"/>
<circle cx="607.5" cy="644.7" r="1.3" fill="#222"/>
<path d="M663.3,637.5 C661.3,641 658.8,641 655.8,644.7" fill="none" stroke="#222" stroke-width="1"/>
<circle cx="655.8" cy="644.7" r="1.3" fill="#222"/>
<text x="584.5" y="689.2" text-anchor="middle" style="font-size:18.8px;fill:#2a2a2a" >Multizone achromatic</text>
<text x="584.5" y="707.3" text-anchor="middle" style="font-size:18.8px;fill:#2a2a2a" >metalens</text>
<rect x="654" y="584.4" width="17.5" height="2.6" fill="#555"/>
<rect x="654" y="590.4" width="17.5" height="2.6" fill="#555"/>
<rect x="747.5" y="586" width="15" height="2.6" fill="#555"/>
<rect x="753.7" y="580" width="2.6" height="15" fill="#555"/>
<rect x="863.5" y="586" width="15" height="2.6" fill="#555"/>
<rect x="869.7" y="580" width="2.6" height="15" fill="#555"/>
<text x="893.5" y="611" text-anchor="middle" style="font-size:16px;fill:#c04050" letter-spacing="1">...</text>
<defs><linearGradient id="prismG" x1="0.8" y1="0" x2="0.6" y2="1">
<stop offset="0" stop-color="#8cc4e4"/><stop offset="0.4" stop-color="#7cc070"/><stop offset="0.65" stop-color="#d89060"/><stop offset="1" stop-color="#e03048"/></linearGradient></defs>
<path d="M677.1,565.8 L714.1,554 L708.5,588.9 Z" fill="url(#prismG)" opacity="0.95"/>
<path d="M702.3,555.3 l-1,4 l3,3 l-5,5 l7,2 l-8,4 l-2,9" fill="none" stroke="#222" stroke-width="0.9"/>
<circle cx="702.3" cy="554.8" r="1.1" fill="#222"/>
<path d="M765.6,565.8 L802.6,554 L797,588.9 Z" fill="url(#prismG)" opacity="0.95"/>
<path d="M790.8,555.3 l-1,4 l3,3 l-5,5 l7,2 l-8,4 l-2,9" fill="none" stroke="#222" stroke-width="0.9"/>
<circle cx="790.8" cy="554.8" r="1.1" fill="#222"/>
<path d="M909.6,565.8 L946.6,554 L941,588.9 Z" fill="url(#prismG)" opacity="0.95"/>
<path d="M934.8,555.3 l-1,4 l3,3 l-5,5 l7,2 l-8,4 l-2,9" fill="none" stroke="#222" stroke-width="0.9"/>
<circle cx="934.8" cy="554.8" r="1.1" fill="#222"/>
<ellipse cx="719" cy="625.5" rx="29" ry="14" fill="#bfe0f2"/>
<rect x="739.2" y="621.9" width="3" height="1.3" fill="#2a3a50" transform="rotate(54 740.8 622.5)"/>
<rect x="738.4" y="624.8" width="3" height="1.3" fill="#2a3a50" transform="rotate(63.8 739.9 625.5)"/>
<rect x="735.8" y="627.5" width="3" height="1.3" fill="#2a3a50" transform="rotate(73.6 737.3 628.2)"/>
<rect x="731.7" y="629.8" width="3" height="1.3" fill="#2a3a50" transform="rotate(83.5 733.2 630.4)"/>
<rect x="726.5" y="631.4" width="3" height="1.3" fill="#2a3a50" transform="rotate(93.3 728 632.1)"/>
<rect x="720.6" y="632.2" width="3" height="1.3" fill="#2a3a50" transform="rotate(103.1 722.1 632.9)"/>
<rect x="714.4" y="632.2" width="3" height="1.3" fill="#2a3a50" transform="rotate(112.9 715.9 632.9)"/>
<rect x="708.5" y="631.4" width="3" height="1.3" fill="#2a3a50" transform="rotate(122.7 710 632.1)"/>
<rect x="703.3" y="629.8" width="3" height="1.3" fill="#2a3a50" transform="rotate(132.5 704.8 630.4)"/>
<rect x="699.2" y="627.5" width="3" height="1.3" fill="#2a3a50" transform="rotate(142.4 700.7 628.2)"/>
<rect x="696.6" y="624.8" width="3" height="1.3" fill="#2a3a50" transform="rotate(152.2 698.1 625.5)"/>
<rect x="695.8" y="621.9" width="3" height="1.3" fill="#2a3a50" transform="rotate(162 697.2 622.5)"/>
<rect x="696.6" y="618.9" width="3" height="1.3" fill="#2a3a50" transform="rotate(171.8 698.1 619.5)"/>
<rect x="699.2" y="616.2" width="3" height="1.3" fill="#2a3a50" transform="rotate(181.6 700.7 616.8)"/>
<rect x="703.3" y="613.9" width="3" height="1.3" fill="#2a3a50" transform="rotate(191.5 704.8 614.6)"/>
<rect x="708.5" y="612.3" width="3" height="1.3" fill="#2a3a50" transform="rotate(201.3 710 612.9)"/>
<rect x="714.4" y="611.5" width="3" height="1.3" fill="#2a3a50" transform="rotate(211.1 715.9 612.1)"/>
<rect x="720.6" y="611.5" width="3" height="1.3" fill="#2a3a50" transform="rotate(220.9 722.1 612.1)"/>
<rect x="726.5" y="612.3" width="3" height="1.3" fill="#2a3a50" transform="rotate(230.7 728 612.9)"/>
<rect x="731.7" y="613.9" width="3" height="1.3" fill="#2a3a50" transform="rotate(240.5 733.2 614.6)"/>
<rect x="735.8" y="616.2" width="3" height="1.3" fill="#2a3a50" transform="rotate(250.4 737.3 616.8)"/>
<rect x="738.4" y="618.9" width="3" height="1.3" fill="#2a3a50" transform="rotate(260.2 739.9 619.5)"/>
<rect x="716.3" y="622.2" width="2.6" height="1.1" fill="#3a4a60" transform="rotate(-20 717.6 622.7)"/>
<rect x="730.4" y="621.1" width="2.6" height="1.1" fill="#3a4a60" transform="rotate(-20 731.7 621.6)"/>
<rect x="717.9" y="622.5" width="2.6" height="1.1" fill="#3a4a60" transform="rotate(-20 719.2 623)"/>
<rect x="708.2" y="621.6" width="2.6" height="1.1" fill="#3a4a60" transform="rotate(-20 709.5 622.1)"/>
<rect x="721.6" y="625" width="2.6" height="1.1" fill="#3a4a60" transform="rotate(-20 722.9 625.5)"/>
<rect x="705.5" y="619.1" width="2.6" height="1.1" fill="#3a4a60" transform="rotate(-20 706.8 619.6)"/>
<rect x="705.4" y="625.2" width="2.6" height="1.1" fill="#3a4a60" transform="rotate(-20 706.7 625.7)"/>
<rect x="723.5" y="616" width="2.6" height="1.1" fill="#3a4a60" transform="rotate(-20 724.8 616.5)"/>
<rect x="732.2" y="627.1" width="2.6" height="1.1" fill="#3a4a60" transform="rotate(-20 733.5 627.6)"/>
<rect x="722.3" y="622.9" width="2.6" height="1.1" fill="#3a4a60" transform="rotate(-20 723.6 623.4)"/>
<rect x="707.4" y="615.7" width="2.6" height="1.1" fill="#3a4a60" transform="rotate(-20 708.7 616.2)"/>
<rect x="718.6" y="616.2" width="2.6" height="1.1" fill="#3a4a60" transform="rotate(-20 719.9 616.7)"/>
<rect x="708.4" y="618.4" width="2.6" height="1.1" fill="#3a4a60" transform="rotate(-20 709.7 618.9)"/>
<rect x="703.6" y="621.1" width="2.6" height="1.1" fill="#3a4a60" transform="rotate(-20 704.9 621.6)"/>
<rect x="715.9" y="625.6" width="2.6" height="1.1" fill="#3a4a60" transform="rotate(-20 717.2 626.1)"/>
<rect x="718.3" y="623.2" width="2.6" height="1.1" fill="#3a4a60" transform="rotate(-20 719.6 623.7)"/>
<rect x="717.7" y="623.4" width="2.6" height="1.1" fill="#3a4a60" transform="rotate(-20 719 623.9)"/>
<rect x="716.4" y="618.8" width="2.6" height="1.1" fill="#3a4a60" transform="rotate(-20 717.7 619.3)"/>
<path d="M705,621 L720.4,536 L732.3,614" fill="none" stroke="#333" stroke-width="0.9"/>
<text x="717.5" y="677.5" text-anchor="middle" style="font-size:18.8px;fill:#2a2a2a" >Zone #1</text>
<ellipse cx="816.7" cy="626.7" rx="49.5" ry="24.7" fill="#bfe0f2"/>
<rect x="853.8" y="622.1" width="3" height="1.3" fill="#2a3a50" transform="rotate(54 855.3 622.7)"/>
<rect x="853.3" y="625.1" width="3" height="1.3" fill="#2a3a50" transform="rotate(59.4 854.8 625.7)"/>
<rect x="851.9" y="628" width="3" height="1.3" fill="#2a3a50" transform="rotate(64.8 853.4 628.7)"/>
<rect x="849.6" y="630.8" width="3" height="1.3" fill="#2a3a50" transform="rotate(70.2 851.1 631.4)"/>
<rect x="846.4" y="633.4" width="3" height="1.3" fill="#2a3a50" transform="rotate(75.6 847.9 634)"/>
<rect x="842.5" y="635.7" width="3" height="1.3" fill="#2a3a50" transform="rotate(81 844 636.3)"/>
<rect x="837.9" y="637.6" width="3" height="1.3" fill="#2a3a50" transform="rotate(86.4 839.4 638.3)"/>
<rect x="832.7" y="639.2" width="3" height="1.3" fill="#2a3a50" transform="rotate(91.8 834.2 639.9)"/>
<rect x="827.1" y="640.4" width="3" height="1.3" fill="#2a3a50" transform="rotate(97.2 828.6 641)"/>
<rect x="821.2" y="641.1" width="3" height="1.3" fill="#2a3a50" transform="rotate(102.6 822.7 641.7)"/>
<rect x="815.2" y="641.3" width="3" height="1.3" fill="#2a3a50" transform="rotate(108 816.7 642)"/>
<rect x="809.2" y="641.1" width="3" height="1.3" fill="#2a3a50" transform="rotate(113.4 810.7 641.7)"/>
<rect x="803.3" y="640.4" width="3" height="1.3" fill="#2a3a50" transform="rotate(118.8 804.8 641)"/>
<rect x="797.7" y="639.2" width="3" height="1.3" fill="#2a3a50" transform="rotate(124.2 799.2 639.9)"/>
<rect x="792.5" y="637.6" width="3" height="1.3" fill="#2a3a50" transform="rotate(129.6 794 638.3)"/>
<rect x="787.9" y="635.7" width="3" height="1.3" fill="#2a3a50" transform="rotate(135 789.4 636.3)"/>
<rect x="784" y="633.4" width="3" height="1.3" fill="#2a3a50" transform="rotate(140.4 785.5 634)"/>
<rect x="780.8" y="630.8" width="3" height="1.3" fill="#2a3a50" transform="rotate(145.8 782.3 631.4)"/>
<rect x="778.5" y="628" width="3" height="1.3" fill="#2a3a50" transform="rotate(151.2 780 628.7)"/>
<rect x="777.1" y="625.1" width="3" height="1.3" fill="#2a3a50" transform="rotate(156.6 778.6 625.7)"/>
<rect x="776.6" y="622.1" width="3" height="1.3" fill="#2a3a50" transform="rotate(162 778.1 622.7)"/>
<rect x="777.1" y="619" width="3" height="1.3" fill="#2a3a50" transform="rotate(167.4 778.6 619.7)"/>
<rect x="778.5" y="616.1" width="3" height="1.3" fill="#2a3a50" transform="rotate(172.8 780 616.7)"/>
<rect x="780.8" y="613.3" width="3" height="1.3" fill="#2a3a50" transform="rotate(178.2 782.3 614)"/>
<rect x="784" y="610.7" width="3" height="1.3" fill="#2a3a50" transform="rotate(183.6 785.5 611.4)"/>
<rect x="787.9" y="608.4" width="3" height="1.3" fill="#2a3a50" transform="rotate(189 789.4 609.1)"/>
<rect x="792.5" y="606.5" width="3" height="1.3" fill="#2a3a50" transform="rotate(194.4 794 607.1)"/>
<rect x="797.7" y="604.9" width="3" height="1.3" fill="#2a3a50" transform="rotate(199.8 799.2 605.5)"/>
<rect x="803.3" y="603.7" width="3" height="1.3" fill="#2a3a50" transform="rotate(205.2 804.8 604.4)"/>
<rect x="809.2" y="603" width="3" height="1.3" fill="#2a3a50" transform="rotate(210.6 810.7 603.7)"/>
<rect x="815.2" y="602.8" width="3" height="1.3" fill="#2a3a50" transform="rotate(216 816.7 603.4)"/>
<rect x="821.2" y="603" width="3" height="1.3" fill="#2a3a50" transform="rotate(221.4 822.7 603.7)"/>
<rect x="827.1" y="603.7" width="3" height="1.3" fill="#2a3a50" transform="rotate(226.8 828.6 604.4)"/>
<rect x="832.7" y="604.9" width="3" height="1.3" fill="#2a3a50" transform="rotate(232.2 834.2 605.5)"/>
<rect x="837.9" y="606.5" width="3" height="1.3" fill="#2a3a50" transform="rotate(237.6 839.4 607.1)"/>
<rect x="842.5" y="608.4" width="3" height="1.3" fill="#2a3a50" transform="rotate(243 844 609.1)"/>
<rect x="846.4" y="610.7" width="3" height="1.3" fill="#2a3a50" transform="rotate(248.4 847.9 611.4)"/>
<rect x="849.6" y="613.3" width="3" height="1.3" fill="#2a3a50" transform="rotate(253.8 851.1 614)"/>
<rect x="851.9" y="616.1" width="3" height="1.3" fill="#2a3a50" transform="rotate(259.2 853.4 616.7)"/>
<rect x="853.3" y="619" width="3" height="1.3" fill="#2a3a50" transform="rotate(264.6 854.8 619.7)"/>
<rect x="845.9" y="622.1" width="3" height="1.3" fill="#2a3a50" transform="rotate(54 847.4 622.7)"/>
<rect x="845.4" y="624.9" width="3" height="1.3" fill="#2a3a50" transform="rotate(60.4 846.9 625.5)"/>
<rect x="843.8" y="627.6" width="3" height="1.3" fill="#2a3a50" transform="rotate(66.7 845.3 628.2)"/>
<rect x="841.3" y="630.1" width="3" height="1.3" fill="#2a3a50" transform="rotate(73.1 842.8 630.8)"/>
<rect x="837.9" y="632.4" width="3" height="1.3" fill="#2a3a50" transform="rotate(79.4 839.4 633)"/>
<rect x="833.7" y="634.3" width="3" height="1.3" fill="#2a3a50" transform="rotate(85.8 835.2 634.9)"/>
<rect x="828.9" y="635.8" width="3" height="1.3" fill="#2a3a50" transform="rotate(92.1 830.4 636.4)"/>
<rect x="823.6" y="636.8" width="3" height="1.3" fill="#2a3a50" transform="rotate(98.5 825.1 637.4)"/>
<rect x="818" y="637.3" width="3" height="1.3" fill="#2a3a50" transform="rotate(104.8 819.5 637.9)"/>
<rect x="812.4" y="637.3" width="3" height="1.3" fill="#2a3a50" transform="rotate(111.2 813.9 637.9)"/>
<rect x="806.8" y="636.8" width="3" height="1.3" fill="#2a3a50" transform="rotate(117.5 808.3 637.4)"/>
<rect x="801.5" y="635.8" width="3" height="1.3" fill="#2a3a50" transform="rotate(123.9 803 636.4)"/>
<rect x="796.7" y="634.3" width="3" height="1.3" fill="#2a3a50" transform="rotate(130.2 798.2 634.9)"/>
<rect x="792.5" y="632.4" width="3" height="1.3" fill="#2a3a50" transform="rotate(136.6 794 633)"/>
<rect x="789.1" y="630.1" width="3" height="1.3" fill="#2a3a50" transform="rotate(142.9 790.6 630.8)"/>
<rect x="786.6" y="627.6" width="3" height="1.3" fill="#2a3a50" transform="rotate(149.3 788.1 628.2)"/>
<rect x="785" y="624.9" width="3" height="1.3" fill="#2a3a50" transform="rotate(155.6 786.5 625.5)"/>
<rect x="784.5" y="622.1" width="3" height="1.3" fill="#2a3a50" transform="rotate(162 786 622.7)"/>
<rect x="785" y="619.2" width="3" height="1.3" fill="#2a3a50" transform="rotate(168.4 786.5 619.9)"/>
<rect x="786.6" y="616.5" width="3" height="1.3" fill="#2a3a50" transform="rotate(174.7 788.1 617.2)"/>
<rect x="789.1" y="614" width="3" height="1.3" fill="#2a3a50" transform="rotate(181.1 790.6 614.6)"/>
<rect x="792.5" y="611.7" width="3" height="1.3" fill="#2a3a50" transform="rotate(187.4 794 612.4)"/>
<rect x="796.7" y="609.8" width="3" height="1.3" fill="#2a3a50" transform="rotate(193.8 798.2 610.5)"/>
<rect x="801.5" y="608.3" width="3" height="1.3" fill="#2a3a50" transform="rotate(200.1 803 609)"/>
<rect x="806.8" y="607.3" width="3" height="1.3" fill="#2a3a50" transform="rotate(206.5 808.3 608)"/>
<rect x="812.4" y="606.8" width="3" height="1.3" fill="#2a3a50" transform="rotate(212.8 813.9 607.5)"/>
<rect x="818" y="606.8" width="3" height="1.3" fill="#2a3a50" transform="rotate(219.2 819.5 607.5)"/>
<rect x="823.6" y="607.3" width="3" height="1.3" fill="#2a3a50" transform="rotate(225.5 825.1 608)"/>
<rect x="828.9" y="608.3" width="3" height="1.3" fill="#2a3a50" transform="rotate(231.9 830.4 609)"/>
<rect x="833.7" y="609.8" width="3" height="1.3" fill="#2a3a50" transform="rotate(238.2 835.2 610.5)"/>
<rect x="837.9" y="611.7" width="3" height="1.3" fill="#2a3a50" transform="rotate(244.6 839.4 612.4)"/>
<rect x="841.3" y="614" width="3" height="1.3" fill="#2a3a50" transform="rotate(250.9 842.8 614.6)"/>
<rect x="843.8" y="616.5" width="3" height="1.3" fill="#2a3a50" transform="rotate(257.3 845.3 617.2)"/>
<rect x="845.4" y="619.2" width="3" height="1.3" fill="#2a3a50" transform="rotate(263.6 846.9 619.9)"/>
<path d="M786,607 L814,536 L849.7,607" fill="none" stroke="#333" stroke-width="0.9"/>
<text x="819" y="677.5" text-anchor="middle" style="font-size:18.8px;fill:#2a2a2a" >Zone #2</text>
<ellipse cx="965.6" cy="622.5" rx="62.5" ry="29.5" fill="#bfe0f2"/>
<rect x="1019.1" y="619.9" width="3" height="1.3" fill="#2a3a50" transform="rotate(54 1020.6 620.5)"/>
<rect x="1018.7" y="623" width="3" height="1.3" fill="#2a3a50" transform="rotate(58.2 1020.2 623.6)"/>
<rect x="1017.5" y="626.1" width="3" height="1.3" fill="#2a3a50" transform="rotate(62.3 1019 626.7)"/>
<rect x="1015.5" y="629.1" width="3" height="1.3" fill="#2a3a50" transform="rotate(66.5 1017 629.7)"/>
<rect x="1012.8" y="631.9" width="3" height="1.3" fill="#2a3a50" transform="rotate(70.6 1014.3 632.6)"/>
<rect x="1009.4" y="634.6" width="3" height="1.3" fill="#2a3a50" transform="rotate(74.8 1010.9 635.2)"/>
<rect x="1005.3" y="637.1" width="3" height="1.3" fill="#2a3a50" transform="rotate(78.9 1006.8 637.7)"/>
<rect x="1000.6" y="639.3" width="3" height="1.3" fill="#2a3a50" transform="rotate(83.1 1002.1 639.9)"/>
<rect x="995.3" y="641.2" width="3" height="1.3" fill="#2a3a50" transform="rotate(87.2 996.8 641.9)"/>
<rect x="989.7" y="642.8" width="3" height="1.3" fill="#2a3a50" transform="rotate(91.4 991.2 643.5)"/>
<rect x="983.6" y="644.1" width="3" height="1.3" fill="#2a3a50" transform="rotate(95.5 985.1 644.8)"/>
<rect x="977.3" y="645.1" width="3" height="1.3" fill="#2a3a50" transform="rotate(99.7 978.8 645.7)"/>
<rect x="970.7" y="645.6" width="3" height="1.3" fill="#2a3a50" transform="rotate(103.8 972.2 646.3)"/>
<rect x="964.1" y="645.8" width="3" height="1.3" fill="#2a3a50" transform="rotate(108 965.6 646.5)"/>
<rect x="957.5" y="645.6" width="3" height="1.3" fill="#2a3a50" transform="rotate(112.2 959 646.3)"/>
<rect x="950.9" y="645.1" width="3" height="1.3" fill="#2a3a50" transform="rotate(116.3 952.4 645.7)"/>
<rect x="944.6" y="644.1" width="3" height="1.3" fill="#2a3a50" transform="rotate(120.5 946.1 644.8)"/>
<rect x="938.5" y="642.8" width="3" height="1.3" fill="#2a3a50" transform="rotate(124.6 940 643.5)"/>
<rect x="932.9" y="641.2" width="3" height="1.3" fill="#2a3a50" transform="rotate(128.8 934.4 641.9)"/>
<rect x="927.6" y="639.3" width="3" height="1.3" fill="#2a3a50" transform="rotate(132.9 929.1 639.9)"/>
<rect x="922.9" y="637.1" width="3" height="1.3" fill="#2a3a50" transform="rotate(137.1 924.4 637.7)"/>
<rect x="918.8" y="634.6" width="3" height="1.3" fill="#2a3a50" transform="rotate(141.2 920.3 635.2)"/>
<rect x="915.4" y="631.9" width="3" height="1.3" fill="#2a3a50" transform="rotate(145.4 916.9 632.6)"/>
<rect x="912.7" y="629.1" width="3" height="1.3" fill="#2a3a50" transform="rotate(149.5 914.2 629.7)"/>
<rect x="910.7" y="626.1" width="3" height="1.3" fill="#2a3a50" transform="rotate(153.7 912.2 626.7)"/>
<rect x="909.5" y="623" width="3" height="1.3" fill="#2a3a50" transform="rotate(157.8 911 623.6)"/>
<rect x="909.1" y="619.9" width="3" height="1.3" fill="#2a3a50" transform="rotate(162 910.6 620.5)"/>
<rect x="909.5" y="616.7" width="3" height="1.3" fill="#2a3a50" transform="rotate(166.2 911 617.4)"/>
<rect x="910.7" y="613.6" width="3" height="1.3" fill="#2a3a50" transform="rotate(170.3 912.2 614.3)"/>
<rect x="912.7" y="610.6" width="3" height="1.3" fill="#2a3a50" transform="rotate(174.5 914.2 611.3)"/>
<rect x="915.4" y="607.8" width="3" height="1.3" fill="#2a3a50" transform="rotate(178.6 916.9 608.4)"/>
<rect x="918.8" y="605.1" width="3" height="1.3" fill="#2a3a50" transform="rotate(182.8 920.3 605.8)"/>
<rect x="922.9" y="602.6" width="3" height="1.3" fill="#2a3a50" transform="rotate(186.9 924.4 603.3)"/>
<rect x="927.6" y="600.4" width="3" height="1.3" fill="#2a3a50" transform="rotate(191.1 929.1 601.1)"/>
<rect x="932.9" y="598.5" width="3" height="1.3" fill="#2a3a50" transform="rotate(195.2 934.4 599.1)"/>
<rect x="938.5" y="596.9" width="3" height="1.3" fill="#2a3a50" transform="rotate(199.4 940 597.5)"/>
<rect x="944.6" y="595.6" width="3" height="1.3" fill="#2a3a50" transform="rotate(203.5 946.1 596.2)"/>
<rect x="950.9" y="594.6" width="3" height="1.3" fill="#2a3a50" transform="rotate(207.7 952.4 595.3)"/>
<rect x="957.5" y="594.1" width="3" height="1.3" fill="#2a3a50" transform="rotate(211.8 959 594.7)"/>
<rect x="964.1" y="593.9" width="3" height="1.3" fill="#2a3a50" transform="rotate(216 965.6 594.5)"/>
<rect x="970.7" y="594.1" width="3" height="1.3" fill="#2a3a50" transform="rotate(220.2 972.2 594.7)"/>
<rect x="977.3" y="594.6" width="3" height="1.3" fill="#2a3a50" transform="rotate(224.3 978.8 595.3)"/>
<rect x="983.6" y="595.6" width="3" height="1.3" fill="#2a3a50" transform="rotate(228.5 985.1 596.2)"/>
<rect x="989.7" y="596.9" width="3" height="1.3" fill="#2a3a50" transform="rotate(232.6 991.2 597.5)"/>
<rect x="995.3" y="598.5" width="3" height="1.3" fill="#2a3a50" transform="rotate(236.8 996.8 599.1)"/>
<rect x="1000.6" y="600.4" width="3" height="1.3" fill="#2a3a50" transform="rotate(240.9 1002.1 601.1)"/>
<rect x="1005.3" y="602.6" width="3" height="1.3" fill="#2a3a50" transform="rotate(245.1 1006.8 603.3)"/>
<rect x="1009.4" y="605.1" width="3" height="1.3" fill="#2a3a50" transform="rotate(249.2 1010.9 605.8)"/>
<rect x="1012.8" y="607.8" width="3" height="1.3" fill="#2a3a50" transform="rotate(253.4 1014.3 608.4)"/>
<rect x="1015.5" y="610.6" width="3" height="1.3" fill="#2a3a50" transform="rotate(257.5 1017 611.3)"/>
<rect x="1017.5" y="613.6" width="3" height="1.3" fill="#2a3a50" transform="rotate(261.7 1019 614.3)"/>
<rect x="1018.7" y="616.7" width="3" height="1.3" fill="#2a3a50" transform="rotate(265.8 1020.2 617.4)"/>
<rect x="1011.6" y="619.9" width="3" height="1.3" fill="#2a3a50" transform="rotate(54 1013.1 620.5)"/>
<rect x="1011.2" y="622.9" width="3" height="1.3" fill="#2a3a50" transform="rotate(58.7 1012.7 623.6)"/>
<rect x="1009.8" y="625.9" width="3" height="1.3" fill="#2a3a50" transform="rotate(63.4 1011.3 626.5)"/>
<rect x="1007.7" y="628.8" width="3" height="1.3" fill="#2a3a50" transform="rotate(68.1 1009.2 629.4)"/>
<rect x="1004.7" y="631.5" width="3" height="1.3" fill="#2a3a50" transform="rotate(72.8 1006.2 632.1)"/>
<rect x="1000.9" y="634" width="3" height="1.3" fill="#2a3a50" transform="rotate(77.5 1002.4 634.6)"/>
<rect x="996.5" y="636.2" width="3" height="1.3" fill="#2a3a50" transform="rotate(82.2 998 636.9)"/>
<rect x="991.5" y="638.2" width="3" height="1.3" fill="#2a3a50" transform="rotate(86.9 993 638.8)"/>
<rect x="986" y="639.8" width="3" height="1.3" fill="#2a3a50" transform="rotate(91.6 987.5 640.4)"/>
<rect x="980" y="641" width="3" height="1.3" fill="#2a3a50" transform="rotate(96.3 981.5 641.6)"/>
<rect x="973.8" y="641.8" width="3" height="1.3" fill="#2a3a50" transform="rotate(101 975.3 642.5)"/>
<rect x="967.3" y="642.2" width="3" height="1.3" fill="#2a3a50" transform="rotate(105.7 968.8 642.9)"/>
<rect x="960.9" y="642.2" width="3" height="1.3" fill="#2a3a50" transform="rotate(110.3 962.4 642.9)"/>
<rect x="954.4" y="641.8" width="3" height="1.3" fill="#2a3a50" transform="rotate(115 955.9 642.5)"/>
<rect x="948.2" y="641" width="3" height="1.3" fill="#2a3a50" transform="rotate(119.7 949.7 641.6)"/>
<rect x="942.2" y="639.8" width="3" height="1.3" fill="#2a3a50" transform="rotate(124.4 943.7 640.4)"/>
<rect x="936.7" y="638.2" width="3" height="1.3" fill="#2a3a50" transform="rotate(129.1 938.2 638.8)"/>
<rect x="931.7" y="636.2" width="3" height="1.3" fill="#2a3a50" transform="rotate(133.8 933.2 636.9)"/>
<rect x="927.3" y="634" width="3" height="1.3" fill="#2a3a50" transform="rotate(138.5 928.8 634.6)"/>
<rect x="923.5" y="631.5" width="3" height="1.3" fill="#2a3a50" transform="rotate(143.2 925 632.1)"/>
<rect x="920.5" y="628.8" width="3" height="1.3" fill="#2a3a50" transform="rotate(147.9 922 629.4)"/>
<rect x="918.4" y="625.9" width="3" height="1.3" fill="#2a3a50" transform="rotate(152.6 919.9 626.5)"/>
<rect x="917" y="622.9" width="3" height="1.3" fill="#2a3a50" transform="rotate(157.3 918.5 623.6)"/>
<rect x="916.6" y="619.9" width="3" height="1.3" fill="#2a3a50" transform="rotate(162 918.1 620.5)"/>
<rect x="917" y="616.8" width="3" height="1.3" fill="#2a3a50" transform="rotate(166.7 918.5 617.4)"/>
<rect x="918.4" y="613.8" width="3" height="1.3" fill="#2a3a50" transform="rotate(171.4 919.9 614.5)"/>
<rect x="920.5" y="610.9" width="3" height="1.3" fill="#2a3a50" transform="rotate(176.1 922 611.6)"/>
<rect x="923.5" y="608.2" width="3" height="1.3" fill="#2a3a50" transform="rotate(180.8 925 608.9)"/>
<rect x="927.3" y="605.7" width="3" height="1.3" fill="#2a3a50" transform="rotate(185.5 928.8 606.4)"/>
<rect x="931.7" y="603.5" width="3" height="1.3" fill="#2a3a50" transform="rotate(190.2 933.2 604.1)"/>
<rect x="936.7" y="601.5" width="3" height="1.3" fill="#2a3a50" transform="rotate(194.9 938.2 602.2)"/>
<rect x="942.2" y="599.9" width="3" height="1.3" fill="#2a3a50" transform="rotate(199.6 943.7 600.6)"/>
<rect x="948.2" y="598.7" width="3" height="1.3" fill="#2a3a50" transform="rotate(204.3 949.7 599.4)"/>
<rect x="954.4" y="597.9" width="3" height="1.3" fill="#2a3a50" transform="rotate(209 955.9 598.5)"/>
<rect x="960.9" y="597.5" width="3" height="1.3" fill="#2a3a50" transform="rotate(213.7 962.4 598.1)"/>
<rect x="967.3" y="597.5" width="3" height="1.3" fill="#2a3a50" transform="rotate(218.3 968.8 598.1)"/>
<rect x="973.8" y="597.9" width="3" height="1.3" fill="#2a3a50" transform="rotate(223 975.3 598.5)"/>
<rect x="980" y="598.7" width="3" height="1.3" fill="#2a3a50" transform="rotate(227.7 981.5 599.4)"/>
<rect x="986" y="599.9" width="3" height="1.3" fill="#2a3a50" transform="rotate(232.4 987.5 600.6)"/>
<rect x="991.5" y="601.5" width="3" height="1.3" fill="#2a3a50" transform="rotate(237.1 993 602.2)"/>
<rect x="996.5" y="603.5" width="3" height="1.3" fill="#2a3a50" transform="rotate(241.8 998 604.1)"/>
<rect x="1000.9" y="605.7" width="3" height="1.3" fill="#2a3a50" transform="rotate(246.5 1002.4 606.4)"/>
<rect x="1004.7" y="608.2" width="3" height="1.3" fill="#2a3a50" transform="rotate(251.2 1006.2 608.9)"/>
<rect x="1007.7" y="610.9" width="3" height="1.3" fill="#2a3a50" transform="rotate(255.9 1009.2 611.6)"/>
<rect x="1009.8" y="613.8" width="3" height="1.3" fill="#2a3a50" transform="rotate(260.6 1011.3 614.5)"/>
<rect x="1011.2" y="616.8" width="3" height="1.3" fill="#2a3a50" transform="rotate(265.3 1012.7 617.4)"/>
<path d="M916,623.4 L965.6,536 L1008.5,612" fill="none" stroke="#333" stroke-width="0.9"/>
<text x="970" y="677.5" text-anchor="middle" style="font-size:18.8px;fill:#2a2a2a" ></text>
<text x="971" y="678" text-anchor="middle" style="font-size:18.8px;fill:#2a2a2a" >Zone #<tspan style="font-style:italic">N</tspan></text>
<text x="646.5" y="527.5" text-anchor="start" style="font-size:18.8px;fill:#2a2a2a" ><tspan style="font-style:italic">Ê</tspan><tspan dy="3" style="font-size:11px">1</tspan><tspan dy="-3"> (</tspan><tspan style="font-style:italic">ω</tspan>) <tspan style="font-style:italic">e</tspan><tspan dy="-8" style="font-size:10px"><tspan style="font-style:italic">i</tspan>Δ<tspan style="font-style:italic">φ</tspan><tspan dy="2" style="font-size:7px">1</tspan><tspan dy="-2">(</tspan><tspan style="font-style:italic">ω</tspan>)</tspan></text>
<text x="772" y="527.5" text-anchor="start" style="font-size:18.8px;fill:#2a2a2a" ><tspan style="font-style:italic">Ê</tspan><tspan dy="3" style="font-size:11px">2</tspan><tspan dy="-3"> (</tspan><tspan style="font-style:italic">ω</tspan>) <tspan style="font-style:italic">e</tspan><tspan dy="-8" style="font-size:10px"><tspan style="font-style:italic">i</tspan>Δ<tspan style="font-style:italic">φ</tspan><tspan dy="2" style="font-size:7px">2</tspan><tspan dy="-2">(</tspan><tspan style="font-style:italic">ω</tspan>)</tspan></text>
<text x="914.5" y="527.5" text-anchor="start" style="font-size:18.8px;fill:#2a2a2a" ><tspan style="font-style:italic">Ê</tspan><tspan dy="3" style="font-size:11px;font-style:italic">N</tspan><tspan dy="-3"> (</tspan><tspan style="font-style:italic">ω</tspan>) <tspan style="font-style:italic">e</tspan><tspan dy="-8" style="font-size:10px"><tspan style="font-style:italic">i</tspan>Δ<tspan style="font-style:italic">φ</tspan><tspan dy="2" style="font-size:7px;font-style:italic">N</tspan><tspan dy="-2">(</tspan><tspan style="font-style:italic">ω</tspan>)</tspan></text>
<g fill="#fff" stroke="#999" stroke-width="1.2">
<ellipse cx="905" cy="661" rx="14" ry="12"/>
<path d="M896,671 L893,678 L901,673 Z"/>
<ellipse cx="918" cy="669" rx="12" ry="10"/>
<path d="M925,677 L928,683 L920,678 Z"/>
</g>
<g fill="#444"><circle cx="900" cy="657" r="1.4"/><circle cx="909" cy="657" r="1.4"/><circle cx="914" cy="666" r="1.1"/><circle cx="922" cy="666" r="1.1"/></g>
<text x="938" y="680" style="font-family:'Liberation Sans','Noto Sans CJK SC','WenQuanYi Zen Hei',sans-serif;font-size:27px;font-weight:700;fill:#fff;fill-opacity:0.8;stroke:#a0a0a0;stroke-width:0.8;letter-spacing:0px">光行天下</text>
</svg>
</body></html>
